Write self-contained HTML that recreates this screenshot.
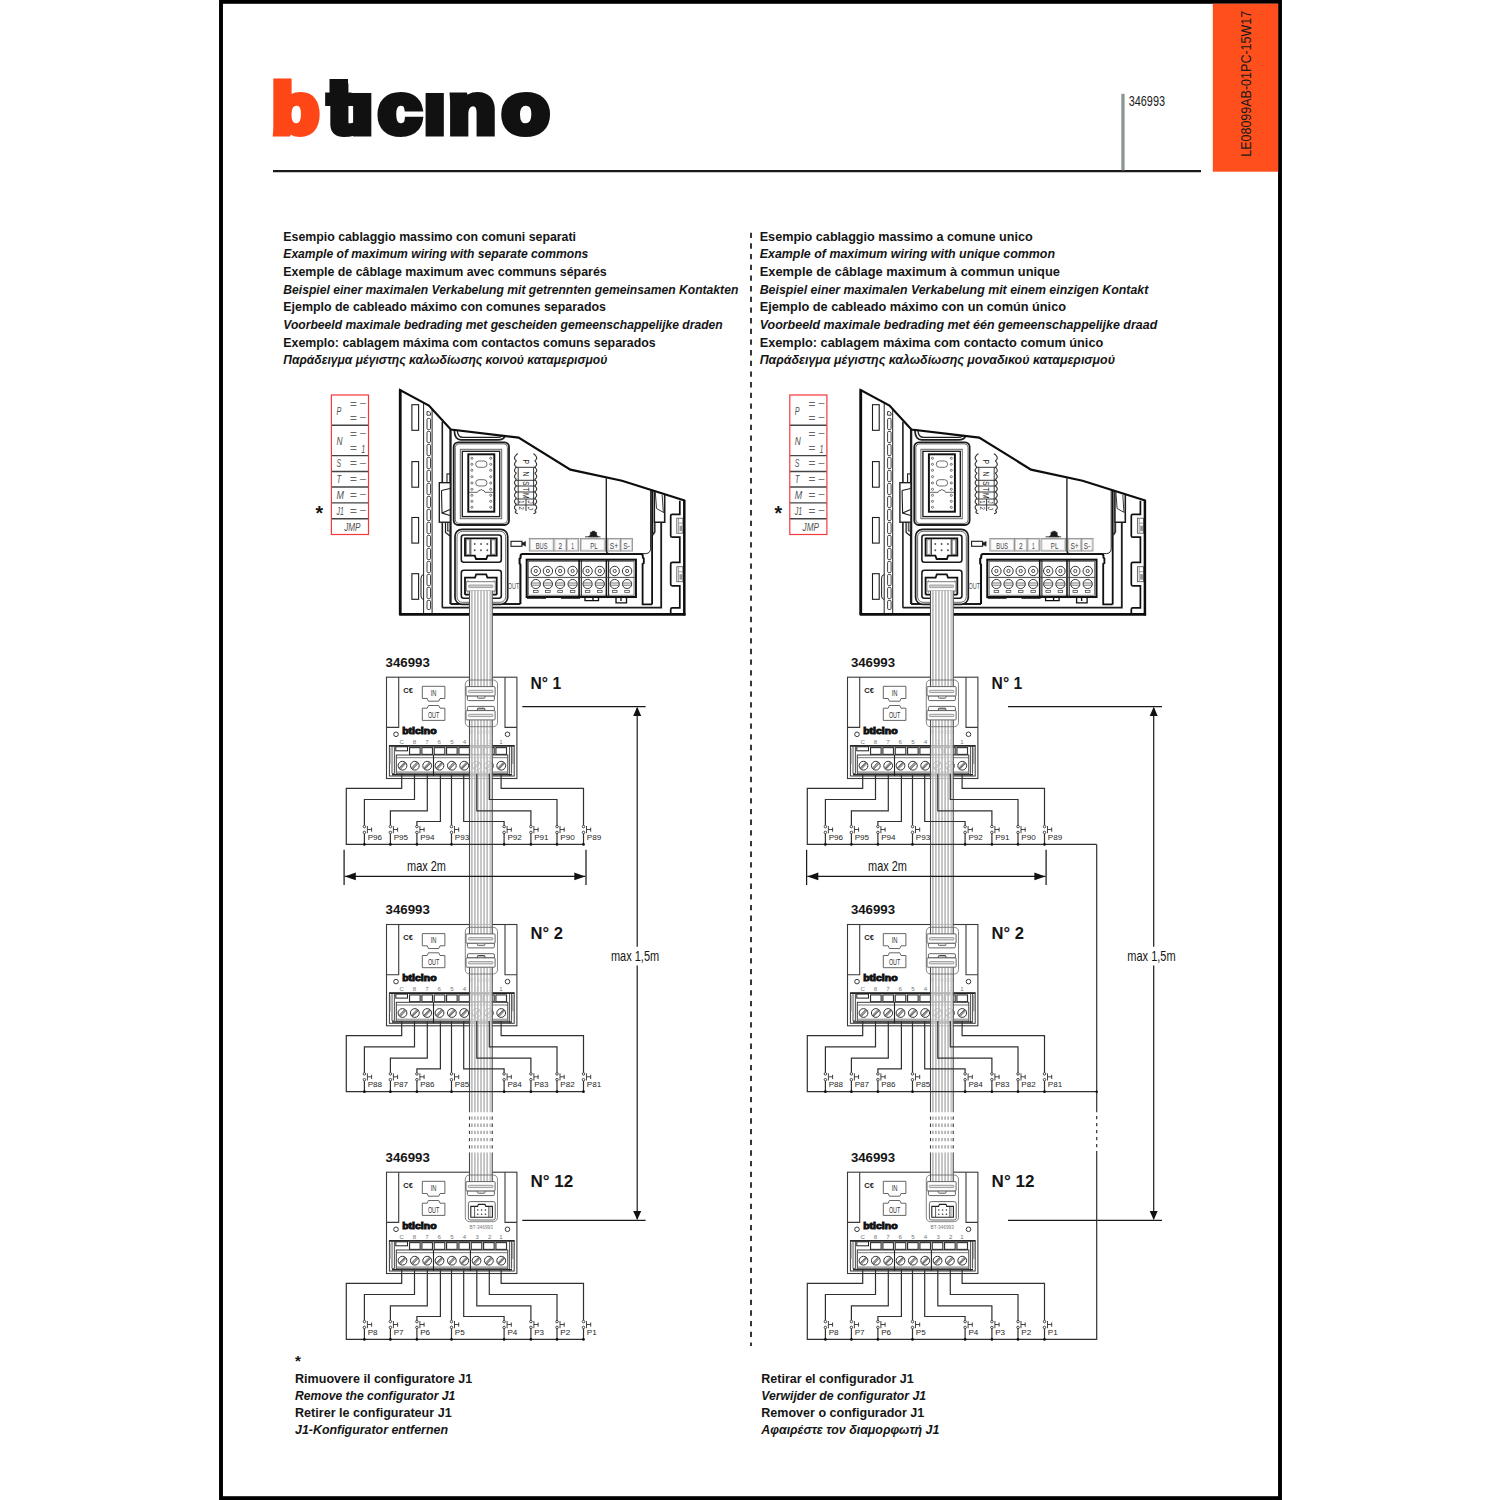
<!DOCTYPE html><html lang="it"><head><meta charset="utf-8"><title>BTicino 346993</title>
<style>html,body{margin:0;padding:0;background:#fff}body{width:1500px;height:1500px;overflow:hidden}svg{display:block}text{font-family:"Liberation Sans",sans-serif}</style></head><body>
<svg width="1500" height="1500" viewBox="0 0 1500 1500">
<rect width="1500" height="1500" fill="#fff"/>
<rect x="221" y="1.85" width="1059" height="1496.3" fill="#fff" stroke="#000" stroke-width="3.9"/>
<rect x="1212.8" y="3.7" width="65.4" height="168" fill="#ff4f1c"/>
<text transform="translate(1251.0,156.8) rotate(-90)" font-size="15" fill="#1a1a1a" textLength="146" lengthAdjust="spacingAndGlyphs">LE08099AB-01PC-15W17</text>
<line x1="273.00" y1="171.20" x2="1201.00" y2="171.20" stroke="#1a1a1a" stroke-width="2.2" />
<rect x="1121.3" y="93.8" width="3.3" height="76.5" fill="#8c9693"/>
<text x="1128.70" y="106.00" font-size="14.6" font-weight="normal" font-style="normal" fill="#1a1a1a" text-anchor="start" textLength="36.30" lengthAdjust="spacingAndGlyphs" >346993</text>
<g transform="scale(1.09,1)"><text x="249.37 300.98 322.58 347.06 388.91 411.39 460.45" y="133.4" font-weight="bold" font-size="71" stroke="#111" stroke-width="7" stroke-linejoin="miter" fill="#111"><tspan fill="#ff4617" stroke="#ff4617">b</tspan>ticino</text></g>
<rect x="329.5" y="79" width="18.5" height="24" fill="#111"/>
<rect x="351.5" y="70" width="23.5" height="23" fill="#fff"/><rect x="423.8" y="70" width="24" height="23" fill="#fff"/>
<g font-weight="bold" fill="#151515">
<text x="283.30" y="240.80" font-size="13.3" font-weight="bold" font-style="normal" fill="#151515" text-anchor="start" textLength="292.70" lengthAdjust="spacingAndGlyphs" >Esempio cablaggio massimo con comuni separati</text>
<text x="283.30" y="258.43" font-size="13.3" font-weight="bold" font-style="italic" fill="#151515" text-anchor="start" textLength="305.00" lengthAdjust="spacingAndGlyphs" >Example of maximum wiring with separate commons</text>
<text x="283.30" y="276.06" font-size="13.3" font-weight="bold" font-style="normal" fill="#151515" text-anchor="start" textLength="323.40" lengthAdjust="spacingAndGlyphs" >Exemple de câblage maximum avec communs séparés</text>
<text x="283.30" y="293.69" font-size="13.3" font-weight="bold" font-style="italic" fill="#151515" text-anchor="start" textLength="455.00" lengthAdjust="spacingAndGlyphs" >Beispiel einer maximalen Verkabelung mit getrennten gemeinsamen Kontakten</text>
<text x="283.30" y="311.32" font-size="13.3" font-weight="bold" font-style="normal" fill="#151515" text-anchor="start" textLength="322.70" lengthAdjust="spacingAndGlyphs" >Ejemplo de cableado máximo con comunes separados</text>
<text x="283.30" y="328.95" font-size="13.3" font-weight="bold" font-style="italic" fill="#151515" text-anchor="start" textLength="439.40" lengthAdjust="spacingAndGlyphs" >Voorbeeld maximale bedrading met gescheiden gemeenschappelijke draden</text>
<text x="283.30" y="346.58" font-size="13.3" font-weight="bold" font-style="normal" fill="#151515" text-anchor="start" textLength="372.40" lengthAdjust="spacingAndGlyphs" >Exemplo: cablagem máxima com contactos comuns separados</text>
<text x="283.30" y="364.21" font-size="13.3" font-weight="bold" font-style="italic" fill="#151515" text-anchor="start" textLength="324.00" lengthAdjust="spacingAndGlyphs" >Παράδειγμα μέγιστης καλωδίωσης κοινού καταμερισμού</text>
<text x="759.70" y="240.80" font-size="13.3" font-weight="bold" font-style="normal" fill="#151515" text-anchor="start" textLength="273.00" lengthAdjust="spacingAndGlyphs" >Esempio cablaggio massimo a comune unico</text>
<text x="759.70" y="258.43" font-size="13.3" font-weight="bold" font-style="italic" fill="#151515" text-anchor="start" textLength="295.30" lengthAdjust="spacingAndGlyphs" >Example of maximum wiring with unique common</text>
<text x="759.70" y="276.06" font-size="13.3" font-weight="bold" font-style="normal" fill="#151515" text-anchor="start" textLength="300.30" lengthAdjust="spacingAndGlyphs" >Exemple de câblage maximum à commun unique</text>
<text x="759.70" y="293.69" font-size="13.3" font-weight="bold" font-style="italic" fill="#151515" text-anchor="start" textLength="388.60" lengthAdjust="spacingAndGlyphs" >Beispiel einer maximalen Verkabelung mit einem einzigen Kontakt</text>
<text x="759.70" y="311.32" font-size="13.3" font-weight="bold" font-style="normal" fill="#151515" text-anchor="start" textLength="306.30" lengthAdjust="spacingAndGlyphs" >Ejemplo de cableado máximo con un común único</text>
<text x="759.70" y="328.95" font-size="13.3" font-weight="bold" font-style="italic" fill="#151515" text-anchor="start" textLength="397.60" lengthAdjust="spacingAndGlyphs" >Voorbeeld maximale bedrading met één gemeenschappelijke draad</text>
<text x="759.70" y="346.58" font-size="13.3" font-weight="bold" font-style="normal" fill="#151515" text-anchor="start" textLength="343.60" lengthAdjust="spacingAndGlyphs" >Exemplo: cablagem máxima com contacto comum único</text>
<text x="759.70" y="364.21" font-size="13.3" font-weight="bold" font-style="italic" fill="#151515" text-anchor="start" textLength="355.30" lengthAdjust="spacingAndGlyphs" >Παράδειγμα μέγιστης καλωδίωσης μοναδικού καταμερισμού</text>
</g>
<line x1="751" y1="232.7" x2="751" y2="1346" stroke="#222" stroke-width="1.8" stroke-dasharray="5.33 5.34"/>
<g transform="translate(0.00,0.00)">
<line x1="331.60" y1="425.30" x2="368.30" y2="425.30" stroke="#444" stroke-width="1.4" />
<line x1="331.60" y1="455.60" x2="368.30" y2="455.60" stroke="#444" stroke-width="1.4" />
<line x1="331.60" y1="471.50" x2="368.30" y2="471.50" stroke="#444" stroke-width="1.4" />
<line x1="331.60" y1="487.00" x2="368.30" y2="487.00" stroke="#444" stroke-width="1.4" />
<line x1="331.60" y1="502.90" x2="368.30" y2="502.90" stroke="#444" stroke-width="1.4" />
<line x1="331.60" y1="518.80" x2="368.30" y2="518.80" stroke="#444" stroke-width="1.4" />
<rect x="331.40" y="395.00" width="37.10" height="139.50" fill="none" stroke="#f4383c" stroke-width="1.2" rx="0" />
<text x="336.40" y="414.60" font-size="11.6" font-weight="normal" font-style="italic" fill="#505050" text-anchor="start" textLength="4.80" lengthAdjust="spacingAndGlyphs" >P</text>
<text x="336.40" y="445.20" font-size="11.6" font-weight="normal" font-style="italic" fill="#505050" text-anchor="start" textLength="6.00" lengthAdjust="spacingAndGlyphs" >N</text>
<text x="336.40" y="467.40" font-size="11.6" font-weight="normal" font-style="italic" fill="#505050" text-anchor="start" textLength="4.60" lengthAdjust="spacingAndGlyphs" >S</text>
<text x="336.40" y="483.20" font-size="11.6" font-weight="normal" font-style="italic" fill="#505050" text-anchor="start" textLength="4.80" lengthAdjust="spacingAndGlyphs" >T</text>
<text x="336.40" y="498.90" font-size="11.6" font-weight="normal" font-style="italic" fill="#505050" text-anchor="start" textLength="7.40" lengthAdjust="spacingAndGlyphs" >M</text>
<text x="336.40" y="514.80" font-size="11.6" font-weight="normal" font-style="italic" fill="#505050" text-anchor="start" textLength="7.40" lengthAdjust="spacingAndGlyphs" >J1</text>
<text x="344.20" y="530.60" font-size="11.6" font-weight="normal" font-style="italic" fill="#505050" text-anchor="start" textLength="16.30" lengthAdjust="spacingAndGlyphs" >JMP</text>
<text x="349.80" y="407.50" font-size="11.6" font-weight="normal" font-style="italic" fill="#666" text-anchor="start" textLength="7.00" lengthAdjust="spacingAndGlyphs" >=</text>
<text x="360.00" y="405.90" font-size="11.6" font-weight="normal" font-style="italic" fill="#666" text-anchor="start" textLength="5.90" lengthAdjust="spacingAndGlyphs" >–</text>
<text x="349.80" y="421.80" font-size="11.6" font-weight="normal" font-style="italic" fill="#666" text-anchor="start" textLength="7.00" lengthAdjust="spacingAndGlyphs" >=</text>
<text x="360.00" y="420.20" font-size="11.6" font-weight="normal" font-style="italic" fill="#666" text-anchor="start" textLength="5.90" lengthAdjust="spacingAndGlyphs" >–</text>
<text x="349.80" y="437.60" font-size="11.6" font-weight="normal" font-style="italic" fill="#666" text-anchor="start" textLength="7.00" lengthAdjust="spacingAndGlyphs" >=</text>
<text x="360.00" y="436.00" font-size="11.6" font-weight="normal" font-style="italic" fill="#666" text-anchor="start" textLength="5.90" lengthAdjust="spacingAndGlyphs" >–</text>
<text x="349.80" y="451.60" font-size="11.6" font-weight="normal" font-style="italic" fill="#666" text-anchor="start" textLength="7.00" lengthAdjust="spacingAndGlyphs" >=</text>
<text x="361.20" y="452.60" font-size="11.6" font-weight="normal" font-style="italic" fill="#505050" text-anchor="start" textLength="4.00" lengthAdjust="spacingAndGlyphs" >1</text>
<text x="349.80" y="467.40" font-size="11.6" font-weight="normal" font-style="italic" fill="#666" text-anchor="start" textLength="7.00" lengthAdjust="spacingAndGlyphs" >=</text>
<text x="360.00" y="465.80" font-size="11.6" font-weight="normal" font-style="italic" fill="#666" text-anchor="start" textLength="5.90" lengthAdjust="spacingAndGlyphs" >–</text>
<text x="349.80" y="483.20" font-size="11.6" font-weight="normal" font-style="italic" fill="#666" text-anchor="start" textLength="7.00" lengthAdjust="spacingAndGlyphs" >=</text>
<text x="360.00" y="481.60" font-size="11.6" font-weight="normal" font-style="italic" fill="#666" text-anchor="start" textLength="5.90" lengthAdjust="spacingAndGlyphs" >–</text>
<text x="349.80" y="499.00" font-size="11.6" font-weight="normal" font-style="italic" fill="#666" text-anchor="start" textLength="7.00" lengthAdjust="spacingAndGlyphs" >=</text>
<text x="360.00" y="497.40" font-size="11.6" font-weight="normal" font-style="italic" fill="#666" text-anchor="start" textLength="5.90" lengthAdjust="spacingAndGlyphs" >–</text>
<text x="349.80" y="514.80" font-size="11.6" font-weight="normal" font-style="italic" fill="#666" text-anchor="start" textLength="7.00" lengthAdjust="spacingAndGlyphs" >=</text>
<text x="360.00" y="513.20" font-size="11.6" font-weight="normal" font-style="italic" fill="#666" text-anchor="start" textLength="5.90" lengthAdjust="spacingAndGlyphs" >–</text>
</g>
<g transform="translate(458.40,0.00)">
<line x1="331.60" y1="425.30" x2="368.30" y2="425.30" stroke="#444" stroke-width="1.4" />
<line x1="331.60" y1="455.60" x2="368.30" y2="455.60" stroke="#444" stroke-width="1.4" />
<line x1="331.60" y1="471.50" x2="368.30" y2="471.50" stroke="#444" stroke-width="1.4" />
<line x1="331.60" y1="487.00" x2="368.30" y2="487.00" stroke="#444" stroke-width="1.4" />
<line x1="331.60" y1="502.90" x2="368.30" y2="502.90" stroke="#444" stroke-width="1.4" />
<line x1="331.60" y1="518.80" x2="368.30" y2="518.80" stroke="#444" stroke-width="1.4" />
<rect x="331.40" y="395.00" width="37.10" height="139.50" fill="none" stroke="#f4383c" stroke-width="1.2" rx="0" />
<text x="336.40" y="414.60" font-size="11.6" font-weight="normal" font-style="italic" fill="#505050" text-anchor="start" textLength="4.80" lengthAdjust="spacingAndGlyphs" >P</text>
<text x="336.40" y="445.20" font-size="11.6" font-weight="normal" font-style="italic" fill="#505050" text-anchor="start" textLength="6.00" lengthAdjust="spacingAndGlyphs" >N</text>
<text x="336.40" y="467.40" font-size="11.6" font-weight="normal" font-style="italic" fill="#505050" text-anchor="start" textLength="4.60" lengthAdjust="spacingAndGlyphs" >S</text>
<text x="336.40" y="483.20" font-size="11.6" font-weight="normal" font-style="italic" fill="#505050" text-anchor="start" textLength="4.80" lengthAdjust="spacingAndGlyphs" >T</text>
<text x="336.40" y="498.90" font-size="11.6" font-weight="normal" font-style="italic" fill="#505050" text-anchor="start" textLength="7.40" lengthAdjust="spacingAndGlyphs" >M</text>
<text x="336.40" y="514.80" font-size="11.6" font-weight="normal" font-style="italic" fill="#505050" text-anchor="start" textLength="7.40" lengthAdjust="spacingAndGlyphs" >J1</text>
<text x="344.20" y="530.60" font-size="11.6" font-weight="normal" font-style="italic" fill="#505050" text-anchor="start" textLength="16.30" lengthAdjust="spacingAndGlyphs" >JMP</text>
<text x="349.80" y="407.50" font-size="11.6" font-weight="normal" font-style="italic" fill="#666" text-anchor="start" textLength="7.00" lengthAdjust="spacingAndGlyphs" >=</text>
<text x="360.00" y="405.90" font-size="11.6" font-weight="normal" font-style="italic" fill="#666" text-anchor="start" textLength="5.90" lengthAdjust="spacingAndGlyphs" >–</text>
<text x="349.80" y="421.80" font-size="11.6" font-weight="normal" font-style="italic" fill="#666" text-anchor="start" textLength="7.00" lengthAdjust="spacingAndGlyphs" >=</text>
<text x="360.00" y="420.20" font-size="11.6" font-weight="normal" font-style="italic" fill="#666" text-anchor="start" textLength="5.90" lengthAdjust="spacingAndGlyphs" >–</text>
<text x="349.80" y="437.60" font-size="11.6" font-weight="normal" font-style="italic" fill="#666" text-anchor="start" textLength="7.00" lengthAdjust="spacingAndGlyphs" >=</text>
<text x="360.00" y="436.00" font-size="11.6" font-weight="normal" font-style="italic" fill="#666" text-anchor="start" textLength="5.90" lengthAdjust="spacingAndGlyphs" >–</text>
<text x="349.80" y="451.60" font-size="11.6" font-weight="normal" font-style="italic" fill="#666" text-anchor="start" textLength="7.00" lengthAdjust="spacingAndGlyphs" >=</text>
<text x="361.20" y="452.60" font-size="11.6" font-weight="normal" font-style="italic" fill="#505050" text-anchor="start" textLength="4.00" lengthAdjust="spacingAndGlyphs" >1</text>
<text x="349.80" y="467.40" font-size="11.6" font-weight="normal" font-style="italic" fill="#666" text-anchor="start" textLength="7.00" lengthAdjust="spacingAndGlyphs" >=</text>
<text x="360.00" y="465.80" font-size="11.6" font-weight="normal" font-style="italic" fill="#666" text-anchor="start" textLength="5.90" lengthAdjust="spacingAndGlyphs" >–</text>
<text x="349.80" y="483.20" font-size="11.6" font-weight="normal" font-style="italic" fill="#666" text-anchor="start" textLength="7.00" lengthAdjust="spacingAndGlyphs" >=</text>
<text x="360.00" y="481.60" font-size="11.6" font-weight="normal" font-style="italic" fill="#666" text-anchor="start" textLength="5.90" lengthAdjust="spacingAndGlyphs" >–</text>
<text x="349.80" y="499.00" font-size="11.6" font-weight="normal" font-style="italic" fill="#666" text-anchor="start" textLength="7.00" lengthAdjust="spacingAndGlyphs" >=</text>
<text x="360.00" y="497.40" font-size="11.6" font-weight="normal" font-style="italic" fill="#666" text-anchor="start" textLength="5.90" lengthAdjust="spacingAndGlyphs" >–</text>
<text x="349.80" y="514.80" font-size="11.6" font-weight="normal" font-style="italic" fill="#666" text-anchor="start" textLength="7.00" lengthAdjust="spacingAndGlyphs" >=</text>
<text x="360.00" y="513.20" font-size="11.6" font-weight="normal" font-style="italic" fill="#666" text-anchor="start" textLength="5.90" lengthAdjust="spacingAndGlyphs" >–</text>
</g>
<text x="315.40" y="520.40" font-size="19.5" font-weight="bold" font-style="normal" fill="#151515" text-anchor="start" >*</text>
<text x="774.40" y="520.40" font-size="19.5" font-weight="bold" font-style="normal" fill="#151515" text-anchor="start" >*</text>
<g transform="translate(0.00,0.00)">
<line x1="423.60" y1="402.70" x2="423.60" y2="614.00" stroke="#1c1c1c" stroke-width="0.98" />
<line x1="432.10" y1="408.90" x2="432.10" y2="614.00" stroke="#1c1c1c" stroke-width="0.98" />
<path d="M427,415.2V411.6Q428.7,410.9 430.5,412.9V415.2Z" fill="none" stroke="#1c1c1c" stroke-width="0.85" />
<rect x="427.00" y="418.40" width="3.50" height="11.20" fill="none" stroke="#1c1c1c" stroke-width="0.85" rx="1.2" />
<rect x="427.00" y="431.40" width="3.50" height="11.20" fill="none" stroke="#1c1c1c" stroke-width="0.85" rx="1.2" />
<rect x="427.00" y="444.40" width="3.50" height="11.20" fill="none" stroke="#1c1c1c" stroke-width="0.85" rx="1.2" />
<rect x="427.00" y="457.40" width="3.50" height="11.20" fill="none" stroke="#1c1c1c" stroke-width="0.85" rx="1.2" />
<rect x="427.00" y="470.40" width="3.50" height="11.20" fill="none" stroke="#1c1c1c" stroke-width="0.85" rx="1.2" />
<rect x="427.00" y="483.40" width="3.50" height="11.20" fill="none" stroke="#1c1c1c" stroke-width="0.85" rx="1.2" />
<rect x="427.00" y="496.40" width="3.50" height="11.20" fill="none" stroke="#1c1c1c" stroke-width="0.85" rx="1.2" />
<rect x="427.00" y="509.40" width="3.50" height="11.20" fill="none" stroke="#1c1c1c" stroke-width="0.85" rx="1.2" />
<rect x="427.00" y="522.40" width="3.50" height="11.20" fill="none" stroke="#1c1c1c" stroke-width="0.85" rx="1.2" />
<rect x="427.00" y="535.40" width="3.50" height="11.20" fill="none" stroke="#1c1c1c" stroke-width="0.85" rx="1.2" />
<rect x="427.00" y="548.40" width="3.50" height="11.20" fill="none" stroke="#1c1c1c" stroke-width="0.85" rx="1.2" />
<rect x="427.00" y="561.40" width="3.50" height="11.20" fill="none" stroke="#1c1c1c" stroke-width="0.85" rx="1.2" />
<rect x="427.00" y="574.40" width="3.50" height="11.20" fill="none" stroke="#1c1c1c" stroke-width="0.85" rx="1.2" />
<rect x="427.00" y="587.40" width="3.50" height="11.20" fill="none" stroke="#1c1c1c" stroke-width="0.85" rx="1.2" />
<rect x="427.00" y="600.40" width="3.50" height="9.10" fill="none" stroke="#1c1c1c" stroke-width="0.85" rx="1.2" />
<rect x="411.90" y="404.70" width="6.70" height="25.60" fill="none" stroke="#1c1c1c" stroke-width="1.1" rx="0" />
<rect x="411.90" y="461.60" width="6.70" height="25.60" fill="none" stroke="#1c1c1c" stroke-width="1.1" rx="0" />
<rect x="411.90" y="517.50" width="6.70" height="25.60" fill="none" stroke="#1c1c1c" stroke-width="1.1" rx="0" />
<rect x="411.90" y="573.70" width="6.70" height="25.60" fill="none" stroke="#1c1c1c" stroke-width="1.1" rx="0" />
<path d="M423.6,574.5Q421,575 421,578V596Q421,599 423.6,599.5" fill="none" stroke="#1c1c1c" stroke-width="0.98" />
<line x1="442.30" y1="421.80" x2="442.30" y2="607.70" stroke="#1c1c1c" stroke-width="1.59" />
<line x1="450.50" y1="429.60" x2="450.50" y2="604.00" stroke="#1c1c1c" stroke-width="2.32" />
<rect x="447.00" y="473.90" width="3.30" height="8.80" fill="none" stroke="#1c1c1c" stroke-width="1.1" rx="0" />
<rect x="439.30" y="482.70" width="11.00" height="39.50" fill="#fff" stroke="#1c1c1c" stroke-width="1.34" rx="0" />
<path d="M441.5,490.5L450,488.5M441.5,490.5L442,513L450,515.5M442,513L450,509.5" fill="none" stroke="#1c1c1c" stroke-width="1.1" />
<path d="M445.5,522.2V532.5L450,536" fill="none" stroke="#1c1c1c" stroke-width="1.22" />
<rect x="447.60" y="522.40" width="2.40" height="8.60" fill="#aaa" stroke="#1c1c1c" stroke-width="0.73" rx="0" />
<path d="M442.3,607.7H661.2V522" fill="none" stroke="#1c1c1c" stroke-width="1.83" />
<path d="M450.5,604H520.4" fill="none" stroke="#1c1c1c" stroke-width="1.83" />
<path d="M454.3,430.2Q454.6,439.8 461,439.8H498Q503.5,439.8 504.8,436.4" fill="none" stroke="#1c1c1c" stroke-width="1.71" />
<path d="M457.3,430.6Q457.8,437.4 463,437.4H497Q500.5,437.4 502,436" fill="none" stroke="#1c1c1c" stroke-width="1.22" />
<rect x="453.70" y="442.30" width="55.30" height="82.70" fill="#fff" stroke="#1c1c1c" stroke-width="1.83" rx="4.5" />
<rect x="455.30" y="443.90" width="52.10" height="79.50" fill="none" stroke="#555" stroke-width="0.85" rx="3.5" />
<rect x="460.30" y="449.30" width="41.40" height="69.40" fill="none" stroke="#666" stroke-width="0.98" rx="0" />
<rect x="462.30" y="451.30" width="37.40" height="65.30" fill="none" stroke="#1c1c1c" stroke-width="1.34" rx="0" />
<rect x="468.30" y="454.30" width="26.00" height="57.40" fill="none" stroke="#111" stroke-width="1.95" rx="0" />
<circle cx="471.90" cy="458.30" r="1.05" fill="none" stroke="#444" stroke-width="0.73"/>
<circle cx="490.70" cy="458.30" r="1.05" fill="none" stroke="#444" stroke-width="0.73"/>
<circle cx="471.90" cy="464.30" r="1.05" fill="none" stroke="#444" stroke-width="0.73"/>
<circle cx="490.70" cy="464.30" r="1.05" fill="none" stroke="#444" stroke-width="0.73"/>
<circle cx="471.90" cy="470.30" r="1.05" fill="none" stroke="#444" stroke-width="0.73"/>
<circle cx="490.70" cy="470.30" r="1.05" fill="none" stroke="#444" stroke-width="0.73"/>
<circle cx="471.90" cy="476.70" r="1.05" fill="none" stroke="#444" stroke-width="0.73"/>
<circle cx="490.70" cy="476.70" r="1.05" fill="none" stroke="#444" stroke-width="0.73"/>
<circle cx="471.90" cy="483.00" r="1.05" fill="none" stroke="#444" stroke-width="0.73"/>
<circle cx="490.70" cy="483.00" r="1.05" fill="none" stroke="#444" stroke-width="0.73"/>
<circle cx="471.90" cy="489.30" r="1.05" fill="none" stroke="#444" stroke-width="0.73"/>
<circle cx="490.70" cy="489.30" r="1.05" fill="none" stroke="#444" stroke-width="0.73"/>
<circle cx="471.90" cy="495.30" r="1.05" fill="none" stroke="#444" stroke-width="0.73"/>
<circle cx="490.70" cy="495.30" r="1.05" fill="none" stroke="#444" stroke-width="0.73"/>
<circle cx="471.90" cy="501.30" r="1.05" fill="none" stroke="#444" stroke-width="0.73"/>
<circle cx="490.70" cy="501.30" r="1.05" fill="none" stroke="#444" stroke-width="0.73"/>
<circle cx="471.90" cy="507.30" r="1.05" fill="none" stroke="#444" stroke-width="0.73"/>
<circle cx="490.70" cy="507.30" r="1.05" fill="none" stroke="#444" stroke-width="0.73"/>
<rect x="475.70" y="461.00" width="11.30" height="6.30" fill="none" stroke="#555" stroke-width="0.85" rx="3.1" />
<rect x="475.70" y="479.70" width="11.30" height="6.30" fill="none" stroke="#555" stroke-width="0.85" rx="3.1" />
<path d="M469,492.3H477.5L478.8,490.4H480.3L481.3,489.2L482.3,490.4H483.8L485,492.3H493.6" fill="none" stroke="#444" stroke-width="0.85" />
<path d="M518.00,453.80Q516.80,454.00 515.60,455.60Q513.40,458.10 515.60,460.20Q516.90,460.70 515.60,461.80Q513.40,464.30 515.60,466.40Q516.90,466.90 515.60,468.00Q513.40,470.50 515.60,472.60Q516.90,473.10 515.60,474.20Q513.40,476.70 515.60,478.80Q516.90,479.30 515.60,480.40Q513.40,482.90 515.60,485.00Q516.90,485.50 515.60,486.60Q513.40,489.10 515.60,491.20Q516.90,491.70 515.60,492.80Q513.40,495.30 515.60,497.40Q516.90,497.90 515.60,499.00Q513.40,501.50 515.60,503.60Q516.90,504.10 515.60,505.20Q513.40,507.70 515.60,509.80Q516.90,510.30 515.60,511.40Q514.40,512.80 517.80,513.80" fill="none" stroke="#333" stroke-width="1.1" />
<path d="M533.20,453.80Q534.40,454.00 535.60,455.60Q537.80,458.10 535.60,460.20Q534.30,460.70 535.60,461.80Q537.80,464.30 535.60,466.40Q534.30,466.90 535.60,468.00Q537.80,470.50 535.60,472.60Q534.30,473.10 535.60,474.20Q537.80,476.70 535.60,478.80Q534.30,479.30 535.60,480.40Q537.80,482.90 535.60,485.00Q534.30,485.50 535.60,486.60Q537.80,489.10 535.60,491.20Q534.30,491.70 535.60,492.80Q537.80,495.30 535.60,497.40Q534.30,497.90 535.60,499.00Q537.80,501.50 535.60,503.60Q534.30,504.10 535.60,505.20Q537.80,507.70 535.60,509.80Q534.30,510.30 535.60,511.40Q536.80,512.80 533.40,513.80" fill="none" stroke="#333" stroke-width="1.1" />
<line x1="515.60" y1="467.30" x2="535.60" y2="467.30" stroke="#333" stroke-width="0.98" />
<line x1="515.60" y1="480.30" x2="535.60" y2="480.30" stroke="#333" stroke-width="0.98" />
<line x1="515.60" y1="486.00" x2="535.60" y2="486.00" stroke="#333" stroke-width="0.98" />
<line x1="515.60" y1="492.00" x2="535.60" y2="492.00" stroke="#333" stroke-width="0.98" />
<line x1="515.60" y1="499.00" x2="535.60" y2="499.00" stroke="#333" stroke-width="0.98" />
<line x1="515.60" y1="505.00" x2="535.60" y2="505.00" stroke="#333" stroke-width="0.98" />
<line x1="518.20" y1="467.30" x2="518.20" y2="505.00" stroke="#333" stroke-width="0.98" />
<line x1="533.60" y1="467.30" x2="533.60" y2="505.00" stroke="#333" stroke-width="0.98" />
<line x1="526.00" y1="499.00" x2="526.00" y2="511.00" stroke="#333" stroke-width="0.98" />
<g font-size="8.8" fill="#222">
<text transform="translate(522.5,459.50) rotate(90)" x="0" y="0" textLength="4.4" lengthAdjust="spacingAndGlyphs">P</text>
<text transform="translate(522.5,471.60) rotate(90)" x="0" y="0" textLength="4.8" lengthAdjust="spacingAndGlyphs">N</text>
<text transform="translate(522.5,481.15) rotate(90)" x="0" y="0" textLength="4.3" lengthAdjust="spacingAndGlyphs">S</text>
<text transform="translate(522.5,487.20) rotate(90)" x="0" y="0" textLength="4.0" lengthAdjust="spacingAndGlyphs">T</text>
<text transform="translate(522.5,492.90) rotate(90)" x="0" y="0" textLength="5.6" lengthAdjust="spacingAndGlyphs">M</text>
<text transform="translate(519.2,500.6) rotate(90)" font-size="6.4" textLength="2.9" lengthAdjust="spacingAndGlyphs">1</text>
<text transform="translate(519.4,506.6) rotate(90)" font-size="6.4" textLength="3.3" lengthAdjust="spacingAndGlyphs">2</text>
<text transform="translate(527.8,500.6) rotate(90)" font-size="7" textLength="3.2" lengthAdjust="spacingAndGlyphs">J</text>
<text transform="translate(527.8,506.8) rotate(90)" font-size="7" textLength="3.2" lengthAdjust="spacingAndGlyphs">J</text>
</g>
<rect x="455.00" y="529.30" width="52.70" height="75.00" fill="#fff" stroke="#1c1c1c" stroke-width="1.71" rx="7" />
<rect x="457.00" y="531.30" width="48.70" height="71.00" fill="none" stroke="#666" stroke-width="0.98" rx="5.5" />
<rect x="461.30" y="535.00" width="40.00" height="27.30" fill="none" stroke="#1c1c1c" stroke-width="1.59" rx="2.5" />
<path d="M465,538.3H496.7V555.7H487.5L486.3,559H476L474.8,555.7H465Z" fill="none" stroke="#111" stroke-width="1.83" />
<rect x="466.50" y="539.80" width="3.10" height="14.50" fill="none" stroke="#666" stroke-width="0.73" rx="0" />
<rect x="491.50" y="539.80" width="3.70" height="14.50" fill="none" stroke="#555" stroke-width="0.85" rx="0" />
<line x1="470.80" y1="539.00" x2="470.80" y2="555.00" stroke="#333" stroke-width="0.98" />
<line x1="490.60" y1="539.00" x2="490.60" y2="555.00" stroke="#333" stroke-width="0.98" />
<circle cx="474.70" cy="544.00" r="0.95" fill="#555" stroke="none" stroke-width="0.0"/>
<circle cx="474.70" cy="550.30" r="0.95" fill="#555" stroke="none" stroke-width="0.0"/>
<circle cx="481.00" cy="544.00" r="0.95" fill="#555" stroke="none" stroke-width="0.0"/>
<circle cx="481.00" cy="550.30" r="0.95" fill="#555" stroke="none" stroke-width="0.0"/>
<circle cx="487.30" cy="544.00" r="0.95" fill="#555" stroke="none" stroke-width="0.0"/>
<circle cx="487.30" cy="550.30" r="0.95" fill="#555" stroke="none" stroke-width="0.0"/>
<rect x="461.30" y="570.30" width="40.00" height="28.00" fill="none" stroke="#1c1c1c" stroke-width="1.59" rx="2.5" />
<path d="M465,594.7V577.7H475L476.2,574.3H486.2L487.4,577.7H496.7V594.7" fill="none" stroke="#111" stroke-width="1.83" />
<path d="M465,594.7H469.5M492.5,594.7H496.7" fill="none" stroke="#111" stroke-width="1.83" />
<line x1="467.80" y1="580.00" x2="467.80" y2="593.00" stroke="#777" stroke-width="0.73" />
<line x1="494.20" y1="580.00" x2="494.20" y2="593.00" stroke="#777" stroke-width="0.73" />
<text x="507.80" y="588.60" font-size="9.4" font-weight="normal" font-style="normal" fill="#555" text-anchor="start" textLength="11.60" lengthAdjust="spacingAndGlyphs" >OUT</text>
<rect x="511.00" y="541.30" width="11.00" height="5.00" fill="none" stroke="#1c1c1c" stroke-width="1.1" rx="0" />
<path d="M522,542.6H523.4L525.5,541.4V546.2L523.4,545H522Z" fill="#222" stroke="#222" stroke-width="0.61" />
<rect x="529.30" y="538.40" width="24.70" height="12.60" fill="#fbfbfb" stroke="#888" stroke-width="0.85" rx="0" />
<rect x="530.30" y="539.30" width="22.70" height="10.80" fill="none" stroke="#aaa" stroke-width="0.49" rx="0" />
<text x="541.65" y="548.60" font-size="9.2" font-weight="normal" font-style="normal" fill="#444" text-anchor="middle" textLength="11.80" lengthAdjust="spacingAndGlyphs" >BUS</text>
<rect x="554.00" y="538.40" width="12.60" height="12.60" fill="#fbfbfb" stroke="#888" stroke-width="0.85" rx="0" />
<rect x="555.00" y="539.30" width="10.60" height="10.80" fill="none" stroke="#aaa" stroke-width="0.49" rx="0" />
<text x="560.30" y="548.60" font-size="9.2" font-weight="normal" font-style="normal" fill="#444" text-anchor="middle" textLength="3.60" lengthAdjust="spacingAndGlyphs" >2</text>
<rect x="566.60" y="538.40" width="12.10" height="12.60" fill="#fbfbfb" stroke="#888" stroke-width="0.85" rx="0" />
<rect x="567.60" y="539.30" width="10.10" height="10.80" fill="none" stroke="#aaa" stroke-width="0.49" rx="0" />
<text x="572.65" y="548.60" font-size="9.2" font-weight="normal" font-style="normal" fill="#444" text-anchor="middle" textLength="2.60" lengthAdjust="spacingAndGlyphs" >1</text>
<rect x="580.40" y="538.40" width="24.70" height="12.60" fill="#fbfbfb" stroke="#888" stroke-width="0.85" rx="0" />
<rect x="581.40" y="539.30" width="22.70" height="10.80" fill="none" stroke="#aaa" stroke-width="0.49" rx="0" />
<text x="593.95" y="548.60" font-size="9.2" font-weight="normal" font-style="normal" fill="#444" text-anchor="middle" textLength="7.40" lengthAdjust="spacingAndGlyphs" >PL</text>
<rect x="607.30" y="538.40" width="13.40" height="12.60" fill="#fbfbfb" stroke="#888" stroke-width="0.85" rx="0" />
<rect x="608.30" y="539.30" width="11.40" height="10.80" fill="none" stroke="#aaa" stroke-width="0.49" rx="0" />
<text x="614.00" y="548.60" font-size="9.2" font-weight="normal" font-style="normal" fill="#444" text-anchor="middle" textLength="8.40" lengthAdjust="spacingAndGlyphs" >S+</text>
<rect x="620.70" y="538.40" width="11.70" height="12.60" fill="#fbfbfb" stroke="#888" stroke-width="0.85" rx="0" />
<rect x="621.70" y="539.30" width="9.70" height="10.80" fill="none" stroke="#aaa" stroke-width="0.49" rx="0" />
<text x="626.55" y="548.60" font-size="9.2" font-weight="normal" font-style="normal" fill="#444" text-anchor="middle" textLength="6.60" lengthAdjust="spacingAndGlyphs" >S-</text>
<line x1="585.00" y1="536.80" x2="600.50" y2="536.80" stroke="#222" stroke-width="0.85" />
<path d="M588.5,536.8L590.3,535V532.3H592V531.2H595V532.3H596.6V535L598.3,536.8Z" fill="#1a1a1a" stroke="#1a1a1a" stroke-width="0.49" />
<path d="M606.3,478.2V550.5Q606.4,553.6 609.5,553.9" fill="none" stroke="#1c1c1c" stroke-width="1.34" />
<path d="M520.4,604V564.5L519.6,563.5V558.8L520.6,557.8V556Q520.6,554 522.6,554H640.8Q642.8,554 642.8,556" fill="none" stroke="#111" stroke-width="2.07" />
<path d="M642.8,556V557.5L643.8,558.5V563L642.6,564V604.4H652.1" fill="none" stroke="#111" stroke-width="1.83" />
<rect x="526.70" y="559.70" width="109.20" height="37.30" fill="none" stroke="#111" stroke-width="2.07" rx="0" />
<rect x="528.60" y="561.60" width="105.40" height="33.60" fill="none" stroke="#555" stroke-width="0.73" rx="0" />
<line x1="579.10" y1="560.00" x2="579.10" y2="597.00" stroke="#111" stroke-width="1.59" />
<line x1="581.30" y1="560.00" x2="581.30" y2="597.00" stroke="#222" stroke-width="1.1" />
<line x1="606.40" y1="560.00" x2="606.40" y2="597.00" stroke="#111" stroke-width="1.59" />
<line x1="608.60" y1="560.00" x2="608.60" y2="597.00" stroke="#222" stroke-width="1.1" />
<line x1="528.00" y1="577.40" x2="634.50" y2="577.40" stroke="#444" stroke-width="0.98" />
<circle cx="535.80" cy="571.00" r="4.70" fill="none" stroke="#333" stroke-width="0.98"/>
<circle cx="535.80" cy="571.00" r="1.60" fill="none" stroke="#333" stroke-width="0.85"/>
<circle cx="535.80" cy="584.00" r="4.60" fill="none" stroke="#333" stroke-width="0.98"/>
<line x1="531.40" y1="583.00" x2="540.20" y2="583.00" stroke="#444" stroke-width="0.73" />
<line x1="531.40" y1="585.20" x2="540.20" y2="585.20" stroke="#444" stroke-width="0.73" />
<rect x="533.50" y="590.60" width="4.60" height="1.80" fill="none" stroke="#444" stroke-width="0.73" rx="0" />
<circle cx="547.90" cy="571.00" r="4.70" fill="none" stroke="#333" stroke-width="0.98"/>
<circle cx="547.90" cy="571.00" r="1.60" fill="none" stroke="#333" stroke-width="0.85"/>
<circle cx="547.90" cy="584.00" r="4.60" fill="none" stroke="#333" stroke-width="0.98"/>
<line x1="543.50" y1="583.00" x2="552.30" y2="583.00" stroke="#444" stroke-width="0.73" />
<line x1="543.50" y1="585.20" x2="552.30" y2="585.20" stroke="#444" stroke-width="0.73" />
<rect x="545.60" y="590.60" width="4.60" height="1.80" fill="none" stroke="#444" stroke-width="0.73" rx="0" />
<circle cx="560.10" cy="571.00" r="4.70" fill="none" stroke="#333" stroke-width="0.98"/>
<circle cx="560.10" cy="571.00" r="1.60" fill="none" stroke="#333" stroke-width="0.85"/>
<circle cx="560.10" cy="584.00" r="4.60" fill="none" stroke="#333" stroke-width="0.98"/>
<line x1="555.70" y1="583.00" x2="564.50" y2="583.00" stroke="#444" stroke-width="0.73" />
<line x1="555.70" y1="585.20" x2="564.50" y2="585.20" stroke="#444" stroke-width="0.73" />
<rect x="557.80" y="590.60" width="4.60" height="1.80" fill="none" stroke="#444" stroke-width="0.73" rx="0" />
<circle cx="572.60" cy="571.00" r="4.70" fill="none" stroke="#333" stroke-width="0.98"/>
<circle cx="572.60" cy="571.00" r="1.60" fill="none" stroke="#333" stroke-width="0.85"/>
<circle cx="572.60" cy="584.00" r="4.60" fill="none" stroke="#333" stroke-width="0.98"/>
<line x1="568.20" y1="583.00" x2="577.00" y2="583.00" stroke="#444" stroke-width="0.73" />
<line x1="568.20" y1="585.20" x2="577.00" y2="585.20" stroke="#444" stroke-width="0.73" />
<rect x="570.30" y="590.60" width="4.60" height="1.80" fill="none" stroke="#444" stroke-width="0.73" rx="0" />
<circle cx="587.60" cy="571.00" r="4.70" fill="none" stroke="#333" stroke-width="0.98"/>
<circle cx="587.60" cy="571.00" r="1.60" fill="none" stroke="#333" stroke-width="0.85"/>
<circle cx="587.60" cy="584.00" r="4.60" fill="none" stroke="#333" stroke-width="0.98"/>
<line x1="583.20" y1="583.00" x2="592.00" y2="583.00" stroke="#444" stroke-width="0.73" />
<line x1="583.20" y1="585.20" x2="592.00" y2="585.20" stroke="#444" stroke-width="0.73" />
<rect x="585.30" y="590.60" width="4.60" height="1.80" fill="none" stroke="#444" stroke-width="0.73" rx="0" />
<circle cx="599.80" cy="571.00" r="4.70" fill="none" stroke="#333" stroke-width="0.98"/>
<circle cx="599.80" cy="571.00" r="1.60" fill="none" stroke="#333" stroke-width="0.85"/>
<circle cx="599.80" cy="584.00" r="4.60" fill="none" stroke="#333" stroke-width="0.98"/>
<line x1="595.40" y1="583.00" x2="604.20" y2="583.00" stroke="#444" stroke-width="0.73" />
<line x1="595.40" y1="585.20" x2="604.20" y2="585.20" stroke="#444" stroke-width="0.73" />
<rect x="597.50" y="590.60" width="4.60" height="1.80" fill="none" stroke="#444" stroke-width="0.73" rx="0" />
<circle cx="614.70" cy="571.00" r="4.70" fill="none" stroke="#333" stroke-width="0.98"/>
<circle cx="614.70" cy="571.00" r="1.60" fill="none" stroke="#333" stroke-width="0.85"/>
<circle cx="614.70" cy="584.00" r="4.60" fill="none" stroke="#333" stroke-width="0.98"/>
<line x1="610.30" y1="583.00" x2="619.10" y2="583.00" stroke="#444" stroke-width="0.73" />
<line x1="610.30" y1="585.20" x2="619.10" y2="585.20" stroke="#444" stroke-width="0.73" />
<rect x="612.40" y="590.60" width="4.60" height="1.80" fill="none" stroke="#444" stroke-width="0.73" rx="0" />
<circle cx="627.10" cy="571.00" r="4.70" fill="none" stroke="#333" stroke-width="0.98"/>
<circle cx="627.10" cy="571.00" r="1.60" fill="none" stroke="#333" stroke-width="0.85"/>
<circle cx="627.10" cy="584.00" r="4.60" fill="none" stroke="#333" stroke-width="0.98"/>
<line x1="622.70" y1="583.00" x2="631.50" y2="583.00" stroke="#444" stroke-width="0.73" />
<line x1="622.70" y1="585.20" x2="631.50" y2="585.20" stroke="#444" stroke-width="0.73" />
<rect x="624.80" y="590.60" width="4.60" height="1.80" fill="none" stroke="#444" stroke-width="0.73" rx="0" />
<path d="M585,597.5V600.7H598.5V597.5M593,597.5V600.7" fill="none" stroke="#111" stroke-width="1.34" />
<path d="M616,597.5V602.8H626.5V597.5M621,597.5V601" fill="none" stroke="#111" stroke-width="1.34" />
<path d="M527,597.3H546M561,597.3H580" fill="none" stroke="#111" stroke-width="2.68" />
<path d="M652.1,489.8V604.4" fill="none" stroke="#111" stroke-width="1.83" />
<path d="M650.6,489.3V548.5Q650.5,553.3 645.8,553.6H609" fill="none" stroke="#1c1c1c" stroke-width="0.98" />
<path d="M654.3,491V522.3H664.7V494" fill="none" stroke="#1c1c1c" stroke-width="1.59" />
<path d="M655.3,492L656.5,508.5L664,512.7M662.2,495L663.3,512" fill="none" stroke="#333" stroke-width="0.98" />
<path d="M654.6,523V532L652.6,535" fill="none" stroke="#333" stroke-width="1.95" />
<path d="M679.8,500.8V514.3H672.2Q670.7,514.3 670.7,515.8V535.7Q670.7,537.2 672.2,537.2H679.8V562.4H672.2Q670.7,562.4 670.7,563.9V584.3Q670.7,585.8 672.2,585.8H679.8V607.9H672.2Q670.7,607.9 670.7,609.4V614" fill="none" stroke="#111" stroke-width="1.71" />
<rect x="676.80" y="518.20" width="6.10" height="15.00" fill="#fff" stroke="#555" stroke-width="0.85" rx="0" />
<line x1="678.60" y1="518.70" x2="678.60" y2="532.70" stroke="#777" stroke-width="0.73" />
<rect x="679.50" y="525.70" width="3.00" height="5.50" fill="#999" stroke="none" stroke-width="0.0" rx="0" />
<line x1="678.60" y1="523.20" x2="682.90" y2="523.20" stroke="#777" stroke-width="0.73" />
<rect x="676.80" y="566.70" width="6.10" height="15.00" fill="#fff" stroke="#555" stroke-width="0.85" rx="0" />
<line x1="678.60" y1="567.20" x2="678.60" y2="581.20" stroke="#777" stroke-width="0.73" />
<rect x="679.50" y="574.20" width="3.00" height="5.50" fill="#999" stroke="none" stroke-width="0.0" rx="0" />
<line x1="678.60" y1="571.70" x2="682.90" y2="571.70" stroke="#777" stroke-width="0.73" />
<path d="M400.1,614.3V390.1L428.9,405.6L450.8,429.5L518.6,437.6L570.4,469.6L622,480.8L684.6,500.5" fill="none" stroke="#0d0d0d" stroke-width="2.2" stroke-linejoin="miter"/>
<path d="M399.2,614.3H685.5" fill="none" stroke="#0d0d0d" stroke-width="2.68" />
<path d="M684.3,499.8V615.4" fill="none" stroke="#0d0d0d" stroke-width="2.5" />
<path d="M400.2,389.6V615" fill="none" stroke="#0d0d0d" stroke-width="2.68" />
<rect x="466.30" y="581.70" width="29.00" height="9.30" fill="#fff" stroke="#777" stroke-width="0.98" rx="0" />
<rect x="468.70" y="585.00" width="24.30" height="2.60" fill="#ccc" stroke="#888" stroke-width="0.73" rx="0.8" />
</g>
<g transform="translate(460.60,0.00)">
<line x1="423.60" y1="402.70" x2="423.60" y2="614.00" stroke="#1c1c1c" stroke-width="0.98" />
<line x1="432.10" y1="408.90" x2="432.10" y2="614.00" stroke="#1c1c1c" stroke-width="0.98" />
<path d="M427,415.2V411.6Q428.7,410.9 430.5,412.9V415.2Z" fill="none" stroke="#1c1c1c" stroke-width="0.85" />
<rect x="427.00" y="418.40" width="3.50" height="11.20" fill="none" stroke="#1c1c1c" stroke-width="0.85" rx="1.2" />
<rect x="427.00" y="431.40" width="3.50" height="11.20" fill="none" stroke="#1c1c1c" stroke-width="0.85" rx="1.2" />
<rect x="427.00" y="444.40" width="3.50" height="11.20" fill="none" stroke="#1c1c1c" stroke-width="0.85" rx="1.2" />
<rect x="427.00" y="457.40" width="3.50" height="11.20" fill="none" stroke="#1c1c1c" stroke-width="0.85" rx="1.2" />
<rect x="427.00" y="470.40" width="3.50" height="11.20" fill="none" stroke="#1c1c1c" stroke-width="0.85" rx="1.2" />
<rect x="427.00" y="483.40" width="3.50" height="11.20" fill="none" stroke="#1c1c1c" stroke-width="0.85" rx="1.2" />
<rect x="427.00" y="496.40" width="3.50" height="11.20" fill="none" stroke="#1c1c1c" stroke-width="0.85" rx="1.2" />
<rect x="427.00" y="509.40" width="3.50" height="11.20" fill="none" stroke="#1c1c1c" stroke-width="0.85" rx="1.2" />
<rect x="427.00" y="522.40" width="3.50" height="11.20" fill="none" stroke="#1c1c1c" stroke-width="0.85" rx="1.2" />
<rect x="427.00" y="535.40" width="3.50" height="11.20" fill="none" stroke="#1c1c1c" stroke-width="0.85" rx="1.2" />
<rect x="427.00" y="548.40" width="3.50" height="11.20" fill="none" stroke="#1c1c1c" stroke-width="0.85" rx="1.2" />
<rect x="427.00" y="561.40" width="3.50" height="11.20" fill="none" stroke="#1c1c1c" stroke-width="0.85" rx="1.2" />
<rect x="427.00" y="574.40" width="3.50" height="11.20" fill="none" stroke="#1c1c1c" stroke-width="0.85" rx="1.2" />
<rect x="427.00" y="587.40" width="3.50" height="11.20" fill="none" stroke="#1c1c1c" stroke-width="0.85" rx="1.2" />
<rect x="427.00" y="600.40" width="3.50" height="9.10" fill="none" stroke="#1c1c1c" stroke-width="0.85" rx="1.2" />
<rect x="411.90" y="404.70" width="6.70" height="25.60" fill="none" stroke="#1c1c1c" stroke-width="1.1" rx="0" />
<rect x="411.90" y="461.60" width="6.70" height="25.60" fill="none" stroke="#1c1c1c" stroke-width="1.1" rx="0" />
<rect x="411.90" y="517.50" width="6.70" height="25.60" fill="none" stroke="#1c1c1c" stroke-width="1.1" rx="0" />
<rect x="411.90" y="573.70" width="6.70" height="25.60" fill="none" stroke="#1c1c1c" stroke-width="1.1" rx="0" />
<path d="M423.6,574.5Q421,575 421,578V596Q421,599 423.6,599.5" fill="none" stroke="#1c1c1c" stroke-width="0.98" />
<line x1="442.30" y1="421.80" x2="442.30" y2="607.70" stroke="#1c1c1c" stroke-width="1.59" />
<line x1="450.50" y1="429.60" x2="450.50" y2="604.00" stroke="#1c1c1c" stroke-width="2.32" />
<rect x="447.00" y="473.90" width="3.30" height="8.80" fill="none" stroke="#1c1c1c" stroke-width="1.1" rx="0" />
<rect x="439.30" y="482.70" width="11.00" height="39.50" fill="#fff" stroke="#1c1c1c" stroke-width="1.34" rx="0" />
<path d="M441.5,490.5L450,488.5M441.5,490.5L442,513L450,515.5M442,513L450,509.5" fill="none" stroke="#1c1c1c" stroke-width="1.1" />
<path d="M445.5,522.2V532.5L450,536" fill="none" stroke="#1c1c1c" stroke-width="1.22" />
<rect x="447.60" y="522.40" width="2.40" height="8.60" fill="#aaa" stroke="#1c1c1c" stroke-width="0.73" rx="0" />
<path d="M442.3,607.7H661.2V522" fill="none" stroke="#1c1c1c" stroke-width="1.83" />
<path d="M450.5,604H520.4" fill="none" stroke="#1c1c1c" stroke-width="1.83" />
<path d="M454.3,430.2Q454.6,439.8 461,439.8H498Q503.5,439.8 504.8,436.4" fill="none" stroke="#1c1c1c" stroke-width="1.71" />
<path d="M457.3,430.6Q457.8,437.4 463,437.4H497Q500.5,437.4 502,436" fill="none" stroke="#1c1c1c" stroke-width="1.22" />
<rect x="453.70" y="442.30" width="55.30" height="82.70" fill="#fff" stroke="#1c1c1c" stroke-width="1.83" rx="4.5" />
<rect x="455.30" y="443.90" width="52.10" height="79.50" fill="none" stroke="#555" stroke-width="0.85" rx="3.5" />
<rect x="460.30" y="449.30" width="41.40" height="69.40" fill="none" stroke="#666" stroke-width="0.98" rx="0" />
<rect x="462.30" y="451.30" width="37.40" height="65.30" fill="none" stroke="#1c1c1c" stroke-width="1.34" rx="0" />
<rect x="468.30" y="454.30" width="26.00" height="57.40" fill="none" stroke="#111" stroke-width="1.95" rx="0" />
<circle cx="471.90" cy="458.30" r="1.05" fill="none" stroke="#444" stroke-width="0.73"/>
<circle cx="490.70" cy="458.30" r="1.05" fill="none" stroke="#444" stroke-width="0.73"/>
<circle cx="471.90" cy="464.30" r="1.05" fill="none" stroke="#444" stroke-width="0.73"/>
<circle cx="490.70" cy="464.30" r="1.05" fill="none" stroke="#444" stroke-width="0.73"/>
<circle cx="471.90" cy="470.30" r="1.05" fill="none" stroke="#444" stroke-width="0.73"/>
<circle cx="490.70" cy="470.30" r="1.05" fill="none" stroke="#444" stroke-width="0.73"/>
<circle cx="471.90" cy="476.70" r="1.05" fill="none" stroke="#444" stroke-width="0.73"/>
<circle cx="490.70" cy="476.70" r="1.05" fill="none" stroke="#444" stroke-width="0.73"/>
<circle cx="471.90" cy="483.00" r="1.05" fill="none" stroke="#444" stroke-width="0.73"/>
<circle cx="490.70" cy="483.00" r="1.05" fill="none" stroke="#444" stroke-width="0.73"/>
<circle cx="471.90" cy="489.30" r="1.05" fill="none" stroke="#444" stroke-width="0.73"/>
<circle cx="490.70" cy="489.30" r="1.05" fill="none" stroke="#444" stroke-width="0.73"/>
<circle cx="471.90" cy="495.30" r="1.05" fill="none" stroke="#444" stroke-width="0.73"/>
<circle cx="490.70" cy="495.30" r="1.05" fill="none" stroke="#444" stroke-width="0.73"/>
<circle cx="471.90" cy="501.30" r="1.05" fill="none" stroke="#444" stroke-width="0.73"/>
<circle cx="490.70" cy="501.30" r="1.05" fill="none" stroke="#444" stroke-width="0.73"/>
<circle cx="471.90" cy="507.30" r="1.05" fill="none" stroke="#444" stroke-width="0.73"/>
<circle cx="490.70" cy="507.30" r="1.05" fill="none" stroke="#444" stroke-width="0.73"/>
<rect x="475.70" y="461.00" width="11.30" height="6.30" fill="none" stroke="#555" stroke-width="0.85" rx="3.1" />
<rect x="475.70" y="479.70" width="11.30" height="6.30" fill="none" stroke="#555" stroke-width="0.85" rx="3.1" />
<path d="M469,492.3H477.5L478.8,490.4H480.3L481.3,489.2L482.3,490.4H483.8L485,492.3H493.6" fill="none" stroke="#444" stroke-width="0.85" />
<path d="M518.00,453.80Q516.80,454.00 515.60,455.60Q513.40,458.10 515.60,460.20Q516.90,460.70 515.60,461.80Q513.40,464.30 515.60,466.40Q516.90,466.90 515.60,468.00Q513.40,470.50 515.60,472.60Q516.90,473.10 515.60,474.20Q513.40,476.70 515.60,478.80Q516.90,479.30 515.60,480.40Q513.40,482.90 515.60,485.00Q516.90,485.50 515.60,486.60Q513.40,489.10 515.60,491.20Q516.90,491.70 515.60,492.80Q513.40,495.30 515.60,497.40Q516.90,497.90 515.60,499.00Q513.40,501.50 515.60,503.60Q516.90,504.10 515.60,505.20Q513.40,507.70 515.60,509.80Q516.90,510.30 515.60,511.40Q514.40,512.80 517.80,513.80" fill="none" stroke="#333" stroke-width="1.1" />
<path d="M533.20,453.80Q534.40,454.00 535.60,455.60Q537.80,458.10 535.60,460.20Q534.30,460.70 535.60,461.80Q537.80,464.30 535.60,466.40Q534.30,466.90 535.60,468.00Q537.80,470.50 535.60,472.60Q534.30,473.10 535.60,474.20Q537.80,476.70 535.60,478.80Q534.30,479.30 535.60,480.40Q537.80,482.90 535.60,485.00Q534.30,485.50 535.60,486.60Q537.80,489.10 535.60,491.20Q534.30,491.70 535.60,492.80Q537.80,495.30 535.60,497.40Q534.30,497.90 535.60,499.00Q537.80,501.50 535.60,503.60Q534.30,504.10 535.60,505.20Q537.80,507.70 535.60,509.80Q534.30,510.30 535.60,511.40Q536.80,512.80 533.40,513.80" fill="none" stroke="#333" stroke-width="1.1" />
<line x1="515.60" y1="467.30" x2="535.60" y2="467.30" stroke="#333" stroke-width="0.98" />
<line x1="515.60" y1="480.30" x2="535.60" y2="480.30" stroke="#333" stroke-width="0.98" />
<line x1="515.60" y1="486.00" x2="535.60" y2="486.00" stroke="#333" stroke-width="0.98" />
<line x1="515.60" y1="492.00" x2="535.60" y2="492.00" stroke="#333" stroke-width="0.98" />
<line x1="515.60" y1="499.00" x2="535.60" y2="499.00" stroke="#333" stroke-width="0.98" />
<line x1="515.60" y1="505.00" x2="535.60" y2="505.00" stroke="#333" stroke-width="0.98" />
<line x1="518.20" y1="467.30" x2="518.20" y2="505.00" stroke="#333" stroke-width="0.98" />
<line x1="533.60" y1="467.30" x2="533.60" y2="505.00" stroke="#333" stroke-width="0.98" />
<line x1="526.00" y1="499.00" x2="526.00" y2="511.00" stroke="#333" stroke-width="0.98" />
<g font-size="8.8" fill="#222">
<text transform="translate(522.5,459.50) rotate(90)" x="0" y="0" textLength="4.4" lengthAdjust="spacingAndGlyphs">P</text>
<text transform="translate(522.5,471.60) rotate(90)" x="0" y="0" textLength="4.8" lengthAdjust="spacingAndGlyphs">N</text>
<text transform="translate(522.5,481.15) rotate(90)" x="0" y="0" textLength="4.3" lengthAdjust="spacingAndGlyphs">S</text>
<text transform="translate(522.5,487.20) rotate(90)" x="0" y="0" textLength="4.0" lengthAdjust="spacingAndGlyphs">T</text>
<text transform="translate(522.5,492.90) rotate(90)" x="0" y="0" textLength="5.6" lengthAdjust="spacingAndGlyphs">M</text>
<text transform="translate(519.2,500.6) rotate(90)" font-size="6.4" textLength="2.9" lengthAdjust="spacingAndGlyphs">1</text>
<text transform="translate(519.4,506.6) rotate(90)" font-size="6.4" textLength="3.3" lengthAdjust="spacingAndGlyphs">2</text>
<text transform="translate(527.8,500.6) rotate(90)" font-size="7" textLength="3.2" lengthAdjust="spacingAndGlyphs">J</text>
<text transform="translate(527.8,506.8) rotate(90)" font-size="7" textLength="3.2" lengthAdjust="spacingAndGlyphs">J</text>
</g>
<rect x="455.00" y="529.30" width="52.70" height="75.00" fill="#fff" stroke="#1c1c1c" stroke-width="1.71" rx="7" />
<rect x="457.00" y="531.30" width="48.70" height="71.00" fill="none" stroke="#666" stroke-width="0.98" rx="5.5" />
<rect x="461.30" y="535.00" width="40.00" height="27.30" fill="none" stroke="#1c1c1c" stroke-width="1.59" rx="2.5" />
<path d="M465,538.3H496.7V555.7H487.5L486.3,559H476L474.8,555.7H465Z" fill="none" stroke="#111" stroke-width="1.83" />
<rect x="466.50" y="539.80" width="3.10" height="14.50" fill="none" stroke="#666" stroke-width="0.73" rx="0" />
<rect x="491.50" y="539.80" width="3.70" height="14.50" fill="none" stroke="#555" stroke-width="0.85" rx="0" />
<line x1="470.80" y1="539.00" x2="470.80" y2="555.00" stroke="#333" stroke-width="0.98" />
<line x1="490.60" y1="539.00" x2="490.60" y2="555.00" stroke="#333" stroke-width="0.98" />
<circle cx="474.70" cy="544.00" r="0.95" fill="#555" stroke="none" stroke-width="0.0"/>
<circle cx="474.70" cy="550.30" r="0.95" fill="#555" stroke="none" stroke-width="0.0"/>
<circle cx="481.00" cy="544.00" r="0.95" fill="#555" stroke="none" stroke-width="0.0"/>
<circle cx="481.00" cy="550.30" r="0.95" fill="#555" stroke="none" stroke-width="0.0"/>
<circle cx="487.30" cy="544.00" r="0.95" fill="#555" stroke="none" stroke-width="0.0"/>
<circle cx="487.30" cy="550.30" r="0.95" fill="#555" stroke="none" stroke-width="0.0"/>
<rect x="461.30" y="570.30" width="40.00" height="28.00" fill="none" stroke="#1c1c1c" stroke-width="1.59" rx="2.5" />
<path d="M465,594.7V577.7H475L476.2,574.3H486.2L487.4,577.7H496.7V594.7" fill="none" stroke="#111" stroke-width="1.83" />
<path d="M465,594.7H469.5M492.5,594.7H496.7" fill="none" stroke="#111" stroke-width="1.83" />
<line x1="467.80" y1="580.00" x2="467.80" y2="593.00" stroke="#777" stroke-width="0.73" />
<line x1="494.20" y1="580.00" x2="494.20" y2="593.00" stroke="#777" stroke-width="0.73" />
<text x="507.80" y="588.60" font-size="9.4" font-weight="normal" font-style="normal" fill="#555" text-anchor="start" textLength="11.60" lengthAdjust="spacingAndGlyphs" >OUT</text>
<rect x="511.00" y="541.30" width="11.00" height="5.00" fill="none" stroke="#1c1c1c" stroke-width="1.1" rx="0" />
<path d="M522,542.6H523.4L525.5,541.4V546.2L523.4,545H522Z" fill="#222" stroke="#222" stroke-width="0.61" />
<rect x="529.30" y="538.40" width="24.70" height="12.60" fill="#fbfbfb" stroke="#888" stroke-width="0.85" rx="0" />
<rect x="530.30" y="539.30" width="22.70" height="10.80" fill="none" stroke="#aaa" stroke-width="0.49" rx="0" />
<text x="541.65" y="548.60" font-size="9.2" font-weight="normal" font-style="normal" fill="#444" text-anchor="middle" textLength="11.80" lengthAdjust="spacingAndGlyphs" >BUS</text>
<rect x="554.00" y="538.40" width="12.60" height="12.60" fill="#fbfbfb" stroke="#888" stroke-width="0.85" rx="0" />
<rect x="555.00" y="539.30" width="10.60" height="10.80" fill="none" stroke="#aaa" stroke-width="0.49" rx="0" />
<text x="560.30" y="548.60" font-size="9.2" font-weight="normal" font-style="normal" fill="#444" text-anchor="middle" textLength="3.60" lengthAdjust="spacingAndGlyphs" >2</text>
<rect x="566.60" y="538.40" width="12.10" height="12.60" fill="#fbfbfb" stroke="#888" stroke-width="0.85" rx="0" />
<rect x="567.60" y="539.30" width="10.10" height="10.80" fill="none" stroke="#aaa" stroke-width="0.49" rx="0" />
<text x="572.65" y="548.60" font-size="9.2" font-weight="normal" font-style="normal" fill="#444" text-anchor="middle" textLength="2.60" lengthAdjust="spacingAndGlyphs" >1</text>
<rect x="580.40" y="538.40" width="24.70" height="12.60" fill="#fbfbfb" stroke="#888" stroke-width="0.85" rx="0" />
<rect x="581.40" y="539.30" width="22.70" height="10.80" fill="none" stroke="#aaa" stroke-width="0.49" rx="0" />
<text x="593.95" y="548.60" font-size="9.2" font-weight="normal" font-style="normal" fill="#444" text-anchor="middle" textLength="7.40" lengthAdjust="spacingAndGlyphs" >PL</text>
<rect x="607.30" y="538.40" width="13.40" height="12.60" fill="#fbfbfb" stroke="#888" stroke-width="0.85" rx="0" />
<rect x="608.30" y="539.30" width="11.40" height="10.80" fill="none" stroke="#aaa" stroke-width="0.49" rx="0" />
<text x="614.00" y="548.60" font-size="9.2" font-weight="normal" font-style="normal" fill="#444" text-anchor="middle" textLength="8.40" lengthAdjust="spacingAndGlyphs" >S+</text>
<rect x="620.70" y="538.40" width="11.70" height="12.60" fill="#fbfbfb" stroke="#888" stroke-width="0.85" rx="0" />
<rect x="621.70" y="539.30" width="9.70" height="10.80" fill="none" stroke="#aaa" stroke-width="0.49" rx="0" />
<text x="626.55" y="548.60" font-size="9.2" font-weight="normal" font-style="normal" fill="#444" text-anchor="middle" textLength="6.60" lengthAdjust="spacingAndGlyphs" >S-</text>
<line x1="585.00" y1="536.80" x2="600.50" y2="536.80" stroke="#222" stroke-width="0.85" />
<path d="M588.5,536.8L590.3,535V532.3H592V531.2H595V532.3H596.6V535L598.3,536.8Z" fill="#1a1a1a" stroke="#1a1a1a" stroke-width="0.49" />
<path d="M606.3,478.2V550.5Q606.4,553.6 609.5,553.9" fill="none" stroke="#1c1c1c" stroke-width="1.34" />
<path d="M520.4,604V564.5L519.6,563.5V558.8L520.6,557.8V556Q520.6,554 522.6,554H640.8Q642.8,554 642.8,556" fill="none" stroke="#111" stroke-width="2.07" />
<path d="M642.8,556V557.5L643.8,558.5V563L642.6,564V604.4H652.1" fill="none" stroke="#111" stroke-width="1.83" />
<rect x="526.70" y="559.70" width="109.20" height="37.30" fill="none" stroke="#111" stroke-width="2.07" rx="0" />
<rect x="528.60" y="561.60" width="105.40" height="33.60" fill="none" stroke="#555" stroke-width="0.73" rx="0" />
<line x1="579.10" y1="560.00" x2="579.10" y2="597.00" stroke="#111" stroke-width="1.59" />
<line x1="581.30" y1="560.00" x2="581.30" y2="597.00" stroke="#222" stroke-width="1.1" />
<line x1="606.40" y1="560.00" x2="606.40" y2="597.00" stroke="#111" stroke-width="1.59" />
<line x1="608.60" y1="560.00" x2="608.60" y2="597.00" stroke="#222" stroke-width="1.1" />
<line x1="528.00" y1="577.40" x2="634.50" y2="577.40" stroke="#444" stroke-width="0.98" />
<circle cx="535.80" cy="571.00" r="4.70" fill="none" stroke="#333" stroke-width="0.98"/>
<circle cx="535.80" cy="571.00" r="1.60" fill="none" stroke="#333" stroke-width="0.85"/>
<circle cx="535.80" cy="584.00" r="4.60" fill="none" stroke="#333" stroke-width="0.98"/>
<line x1="531.40" y1="583.00" x2="540.20" y2="583.00" stroke="#444" stroke-width="0.73" />
<line x1="531.40" y1="585.20" x2="540.20" y2="585.20" stroke="#444" stroke-width="0.73" />
<rect x="533.50" y="590.60" width="4.60" height="1.80" fill="none" stroke="#444" stroke-width="0.73" rx="0" />
<circle cx="547.90" cy="571.00" r="4.70" fill="none" stroke="#333" stroke-width="0.98"/>
<circle cx="547.90" cy="571.00" r="1.60" fill="none" stroke="#333" stroke-width="0.85"/>
<circle cx="547.90" cy="584.00" r="4.60" fill="none" stroke="#333" stroke-width="0.98"/>
<line x1="543.50" y1="583.00" x2="552.30" y2="583.00" stroke="#444" stroke-width="0.73" />
<line x1="543.50" y1="585.20" x2="552.30" y2="585.20" stroke="#444" stroke-width="0.73" />
<rect x="545.60" y="590.60" width="4.60" height="1.80" fill="none" stroke="#444" stroke-width="0.73" rx="0" />
<circle cx="560.10" cy="571.00" r="4.70" fill="none" stroke="#333" stroke-width="0.98"/>
<circle cx="560.10" cy="571.00" r="1.60" fill="none" stroke="#333" stroke-width="0.85"/>
<circle cx="560.10" cy="584.00" r="4.60" fill="none" stroke="#333" stroke-width="0.98"/>
<line x1="555.70" y1="583.00" x2="564.50" y2="583.00" stroke="#444" stroke-width="0.73" />
<line x1="555.70" y1="585.20" x2="564.50" y2="585.20" stroke="#444" stroke-width="0.73" />
<rect x="557.80" y="590.60" width="4.60" height="1.80" fill="none" stroke="#444" stroke-width="0.73" rx="0" />
<circle cx="572.60" cy="571.00" r="4.70" fill="none" stroke="#333" stroke-width="0.98"/>
<circle cx="572.60" cy="571.00" r="1.60" fill="none" stroke="#333" stroke-width="0.85"/>
<circle cx="572.60" cy="584.00" r="4.60" fill="none" stroke="#333" stroke-width="0.98"/>
<line x1="568.20" y1="583.00" x2="577.00" y2="583.00" stroke="#444" stroke-width="0.73" />
<line x1="568.20" y1="585.20" x2="577.00" y2="585.20" stroke="#444" stroke-width="0.73" />
<rect x="570.30" y="590.60" width="4.60" height="1.80" fill="none" stroke="#444" stroke-width="0.73" rx="0" />
<circle cx="587.60" cy="571.00" r="4.70" fill="none" stroke="#333" stroke-width="0.98"/>
<circle cx="587.60" cy="571.00" r="1.60" fill="none" stroke="#333" stroke-width="0.85"/>
<circle cx="587.60" cy="584.00" r="4.60" fill="none" stroke="#333" stroke-width="0.98"/>
<line x1="583.20" y1="583.00" x2="592.00" y2="583.00" stroke="#444" stroke-width="0.73" />
<line x1="583.20" y1="585.20" x2="592.00" y2="585.20" stroke="#444" stroke-width="0.73" />
<rect x="585.30" y="590.60" width="4.60" height="1.80" fill="none" stroke="#444" stroke-width="0.73" rx="0" />
<circle cx="599.80" cy="571.00" r="4.70" fill="none" stroke="#333" stroke-width="0.98"/>
<circle cx="599.80" cy="571.00" r="1.60" fill="none" stroke="#333" stroke-width="0.85"/>
<circle cx="599.80" cy="584.00" r="4.60" fill="none" stroke="#333" stroke-width="0.98"/>
<line x1="595.40" y1="583.00" x2="604.20" y2="583.00" stroke="#444" stroke-width="0.73" />
<line x1="595.40" y1="585.20" x2="604.20" y2="585.20" stroke="#444" stroke-width="0.73" />
<rect x="597.50" y="590.60" width="4.60" height="1.80" fill="none" stroke="#444" stroke-width="0.73" rx="0" />
<circle cx="614.70" cy="571.00" r="4.70" fill="none" stroke="#333" stroke-width="0.98"/>
<circle cx="614.70" cy="571.00" r="1.60" fill="none" stroke="#333" stroke-width="0.85"/>
<circle cx="614.70" cy="584.00" r="4.60" fill="none" stroke="#333" stroke-width="0.98"/>
<line x1="610.30" y1="583.00" x2="619.10" y2="583.00" stroke="#444" stroke-width="0.73" />
<line x1="610.30" y1="585.20" x2="619.10" y2="585.20" stroke="#444" stroke-width="0.73" />
<rect x="612.40" y="590.60" width="4.60" height="1.80" fill="none" stroke="#444" stroke-width="0.73" rx="0" />
<circle cx="627.10" cy="571.00" r="4.70" fill="none" stroke="#333" stroke-width="0.98"/>
<circle cx="627.10" cy="571.00" r="1.60" fill="none" stroke="#333" stroke-width="0.85"/>
<circle cx="627.10" cy="584.00" r="4.60" fill="none" stroke="#333" stroke-width="0.98"/>
<line x1="622.70" y1="583.00" x2="631.50" y2="583.00" stroke="#444" stroke-width="0.73" />
<line x1="622.70" y1="585.20" x2="631.50" y2="585.20" stroke="#444" stroke-width="0.73" />
<rect x="624.80" y="590.60" width="4.60" height="1.80" fill="none" stroke="#444" stroke-width="0.73" rx="0" />
<path d="M585,597.5V600.7H598.5V597.5M593,597.5V600.7" fill="none" stroke="#111" stroke-width="1.34" />
<path d="M616,597.5V602.8H626.5V597.5M621,597.5V601" fill="none" stroke="#111" stroke-width="1.34" />
<path d="M527,597.3H546M561,597.3H580" fill="none" stroke="#111" stroke-width="2.68" />
<path d="M652.1,489.8V604.4" fill="none" stroke="#111" stroke-width="1.83" />
<path d="M650.6,489.3V548.5Q650.5,553.3 645.8,553.6H609" fill="none" stroke="#1c1c1c" stroke-width="0.98" />
<path d="M654.3,491V522.3H664.7V494" fill="none" stroke="#1c1c1c" stroke-width="1.59" />
<path d="M655.3,492L656.5,508.5L664,512.7M662.2,495L663.3,512" fill="none" stroke="#333" stroke-width="0.98" />
<path d="M654.6,523V532L652.6,535" fill="none" stroke="#333" stroke-width="1.95" />
<path d="M679.8,500.8V514.3H672.2Q670.7,514.3 670.7,515.8V535.7Q670.7,537.2 672.2,537.2H679.8V562.4H672.2Q670.7,562.4 670.7,563.9V584.3Q670.7,585.8 672.2,585.8H679.8V607.9H672.2Q670.7,607.9 670.7,609.4V614" fill="none" stroke="#111" stroke-width="1.71" />
<rect x="676.80" y="518.20" width="6.10" height="15.00" fill="#fff" stroke="#555" stroke-width="0.85" rx="0" />
<line x1="678.60" y1="518.70" x2="678.60" y2="532.70" stroke="#777" stroke-width="0.73" />
<rect x="679.50" y="525.70" width="3.00" height="5.50" fill="#999" stroke="none" stroke-width="0.0" rx="0" />
<line x1="678.60" y1="523.20" x2="682.90" y2="523.20" stroke="#777" stroke-width="0.73" />
<rect x="676.80" y="566.70" width="6.10" height="15.00" fill="#fff" stroke="#555" stroke-width="0.85" rx="0" />
<line x1="678.60" y1="567.20" x2="678.60" y2="581.20" stroke="#777" stroke-width="0.73" />
<rect x="679.50" y="574.20" width="3.00" height="5.50" fill="#999" stroke="none" stroke-width="0.0" rx="0" />
<line x1="678.60" y1="571.70" x2="682.90" y2="571.70" stroke="#777" stroke-width="0.73" />
<path d="M400.1,614.3V390.1L428.9,405.6L450.8,429.5L518.6,437.6L570.4,469.6L622,480.8L684.6,500.5" fill="none" stroke="#0d0d0d" stroke-width="2.2" stroke-linejoin="miter"/>
<path d="M399.2,614.3H685.5" fill="none" stroke="#0d0d0d" stroke-width="2.68" />
<path d="M684.3,499.8V615.4" fill="none" stroke="#0d0d0d" stroke-width="2.5" />
<path d="M400.2,389.6V615" fill="none" stroke="#0d0d0d" stroke-width="2.68" />
<rect x="466.30" y="581.70" width="29.00" height="9.30" fill="#fff" stroke="#777" stroke-width="0.98" rx="0" />
<rect x="468.70" y="585.00" width="24.30" height="2.60" fill="#ccc" stroke="#888" stroke-width="0.73" rx="0.8" />
</g>
<g transform="translate(0.00,0.00)">
<g transform="translate(0.00,0.00)">
<rect x="386.50" y="677.20" width="130.40" height="101.30" fill="#fff" stroke="#3a3a3a" stroke-width="1.1" rx="0" />
<path d="M398.7,677.2V727.4H386.5" fill="none" stroke="#3a3a3a" stroke-width="1.1" />
<path d="M505,677.2V727.4H516.9" fill="none" stroke="#3a3a3a" stroke-width="1.1" />
<text x="403.30" y="692.90" font-size="7.6" font-weight="bold" font-style="normal" fill="#222" text-anchor="start" textLength="9.60" lengthAdjust="spacingAndGlyphs" >C€</text>
<path d="M422.3,686.3H444.9V698.5H440L438.8,701.2H428.4L427.2,698.5H422.3Z" fill="none" stroke="#555" stroke-width="0.9" />
<path d="M422.3,720.4H444.9V708.2H440L438.8,705.5H428.4L427.2,708.2H422.3Z" fill="none" stroke="#555" stroke-width="0.9" />
<text x="433.60" y="696.20" font-size="8.6" font-weight="normal" font-style="normal" fill="#333" text-anchor="middle" textLength="5.80" lengthAdjust="spacingAndGlyphs" >IN</text>
<text x="433.60" y="718.20" font-size="8.6" font-weight="normal" font-style="normal" fill="#333" text-anchor="middle" textLength="11.40" lengthAdjust="spacingAndGlyphs" >OUT</text>
<text x="402.20" y="733.60" font-size="8.8" font-weight="bold" font-style="normal" fill="#111" text-anchor="start" textLength="34.40" lengthAdjust="spacingAndGlyphs" stroke="#111" stroke-width="0.9">bticino</text>
<circle cx="396.00" cy="734.30" r="2.30" fill="none" stroke="#3a3a3a" stroke-width="1.0"/>
<circle cx="507.50" cy="734.30" r="2.30" fill="none" stroke="#3a3a3a" stroke-width="1.0"/>
<text x="401.70" y="744.00" font-size="6.2" font-weight="normal" font-style="normal" fill="#777" text-anchor="middle" >C</text>
<text x="414.50" y="744.00" font-size="6.2" font-weight="normal" font-style="normal" fill="#777" text-anchor="middle" >8</text>
<text x="427.00" y="744.00" font-size="6.2" font-weight="normal" font-style="normal" fill="#777" text-anchor="middle" >7</text>
<text x="439.20" y="744.00" font-size="6.2" font-weight="normal" font-style="normal" fill="#777" text-anchor="middle" >6</text>
<text x="452.00" y="744.00" font-size="6.2" font-weight="normal" font-style="normal" fill="#777" text-anchor="middle" >5</text>
<text x="464.60" y="744.00" font-size="6.2" font-weight="normal" font-style="normal" fill="#777" text-anchor="middle" >4</text>
<text x="477.20" y="744.00" font-size="6.2" font-weight="normal" font-style="normal" fill="#777" text-anchor="middle" >3</text>
<text x="489.70" y="744.00" font-size="6.2" font-weight="normal" font-style="normal" fill="#777" text-anchor="middle" >2</text>
<text x="501.00" y="744.00" font-size="6.2" font-weight="normal" font-style="normal" fill="#777" text-anchor="middle" >1</text>
<rect x="389.40" y="745.50" width="124.80" height="30.50" fill="none" stroke="#3a3a3a" stroke-width="1.0" rx="0" />
<line x1="389.40" y1="746.00" x2="514.20" y2="746.00" stroke="#222" stroke-width="1.4" />
<path d="M392,746V773.6H394.4M394.4,746V773.6" fill="none" stroke="#3a3a3a" stroke-width="0.9" />
<path d="M511.6,746V773.6M509.6,746V776" fill="none" stroke="#3a3a3a" stroke-width="0.9" />
<rect x="512.00" y="747.50" width="2.00" height="16.50" fill="#aaa" stroke="none" stroke-width="0.0" rx="0" />
<rect x="389.90" y="748.00" width="1.70" height="16.00" fill="#bbb" stroke="none" stroke-width="0.0" rx="0" />
<line x1="392.00" y1="774.70" x2="512.00" y2="774.70" stroke="#2a2a2a" stroke-width="1.5" />
<rect x="395.80" y="746.80" width="11.70" height="4.00" fill="#fff" stroke="#222" stroke-width="1.0" rx="0" />
<rect x="409.54" y="747.60" width="10.60" height="6.80" fill="#fff" stroke="#333" stroke-width="1.15" rx="0" />
<rect x="421.88" y="747.60" width="10.60" height="6.80" fill="#fff" stroke="#333" stroke-width="1.15" rx="0" />
<rect x="434.22" y="747.60" width="10.60" height="6.80" fill="#fff" stroke="#333" stroke-width="1.15" rx="0" />
<rect x="446.56" y="747.60" width="10.60" height="6.80" fill="#fff" stroke="#333" stroke-width="1.15" rx="0" />
<rect x="458.90" y="747.60" width="10.60" height="6.80" fill="#fff" stroke="#333" stroke-width="1.15" rx="0" />
<rect x="471.24" y="747.60" width="10.60" height="6.80" fill="#fff" stroke="#333" stroke-width="1.15" rx="0" />
<rect x="483.58" y="747.60" width="10.60" height="6.80" fill="#fff" stroke="#333" stroke-width="1.15" rx="0" />
<rect x="495.92" y="747.60" width="10.60" height="6.80" fill="#fff" stroke="#333" stroke-width="1.15" rx="0" />
<rect x="396.30" y="755.00" width="111.50" height="18.70" fill="#fff" stroke="#3a3a3a" stroke-width="1.0" rx="0" />
<rect x="396.80" y="771.30" width="110.50" height="2.00" fill="#a8a8a8" stroke="none" stroke-width="0.0" rx="0" />
<line x1="396.30" y1="757.70" x2="507.80" y2="757.70" stroke="#555" stroke-width="0.8" />
<circle cx="402.50" cy="765.70" r="4.40" fill="#fff" stroke="#333" stroke-width="1.0"/>
<path d="M398.90,768.20L404.80,762.00M400.20,769.40L406.10,763.20M399.50,768.90L405.50,762.50" stroke="#444" stroke-width="0.8" fill="none"/>
<circle cx="414.84" cy="765.70" r="4.40" fill="#fff" stroke="#333" stroke-width="1.0"/>
<path d="M411.24,768.20L417.14,762.00M412.54,769.40L418.44,763.20M411.84,768.90L417.84,762.50" stroke="#444" stroke-width="0.8" fill="none"/>
<circle cx="427.18" cy="765.70" r="4.40" fill="#fff" stroke="#333" stroke-width="1.0"/>
<path d="M423.58,768.20L429.48,762.00M424.88,769.40L430.78,763.20M424.18,768.90L430.18,762.50" stroke="#444" stroke-width="0.8" fill="none"/>
<circle cx="439.52" cy="765.70" r="4.40" fill="#fff" stroke="#333" stroke-width="1.0"/>
<path d="M435.92,768.20L441.82,762.00M437.22,769.40L443.12,763.20M436.52,768.90L442.52,762.50" stroke="#444" stroke-width="0.8" fill="none"/>
<circle cx="451.86" cy="765.70" r="4.40" fill="#fff" stroke="#333" stroke-width="1.0"/>
<path d="M448.26,768.20L454.16,762.00M449.56,769.40L455.46,763.20M448.86,768.90L454.86,762.50" stroke="#444" stroke-width="0.8" fill="none"/>
<circle cx="464.20" cy="765.70" r="4.40" fill="#fff" stroke="#333" stroke-width="1.0"/>
<path d="M460.60,768.20L466.50,762.00M461.90,769.40L467.80,763.20M461.20,768.90L467.20,762.50" stroke="#444" stroke-width="0.8" fill="none"/>
<circle cx="476.54" cy="765.70" r="4.40" fill="#fff" stroke="#333" stroke-width="1.0"/>
<path d="M472.94,768.20L478.84,762.00M474.24,769.40L480.14,763.20M473.54,768.90L479.54,762.50" stroke="#444" stroke-width="0.8" fill="none"/>
<circle cx="488.88" cy="765.70" r="4.40" fill="#fff" stroke="#333" stroke-width="1.0"/>
<path d="M485.28,768.20L491.18,762.00M486.58,769.40L492.48,763.20M485.88,768.90L491.88,762.50" stroke="#444" stroke-width="0.8" fill="none"/>
<circle cx="501.22" cy="765.70" r="4.40" fill="#fff" stroke="#333" stroke-width="1.0"/>
<path d="M497.62,768.20L503.52,762.00M498.92,769.40L504.82,763.20M498.22,768.90L504.22,762.50" stroke="#444" stroke-width="0.8" fill="none"/>
<line x1="433.50" y1="755.00" x2="433.50" y2="776.00" stroke="#222" stroke-width="1.1" />
<text x="469.60" y="734.40" font-size="5.6" font-weight="normal" font-style="normal" fill="#888" text-anchor="start" textLength="23.20" lengthAdjust="spacingAndGlyphs" >BT-346993</text>
<text x="385.60" y="666.60" font-size="12.6" font-weight="bold" font-style="normal" fill="#151515" text-anchor="start" textLength="44.20" lengthAdjust="spacingAndGlyphs" >346993</text>
</g>
<g transform="translate(0.00,247.30)">
<rect x="386.50" y="677.20" width="130.40" height="101.30" fill="#fff" stroke="#3a3a3a" stroke-width="1.1" rx="0" />
<path d="M398.7,677.2V727.4H386.5" fill="none" stroke="#3a3a3a" stroke-width="1.1" />
<path d="M505,677.2V727.4H516.9" fill="none" stroke="#3a3a3a" stroke-width="1.1" />
<text x="403.30" y="692.90" font-size="7.6" font-weight="bold" font-style="normal" fill="#222" text-anchor="start" textLength="9.60" lengthAdjust="spacingAndGlyphs" >C€</text>
<path d="M422.3,686.3H444.9V698.5H440L438.8,701.2H428.4L427.2,698.5H422.3Z" fill="none" stroke="#555" stroke-width="0.9" />
<path d="M422.3,720.4H444.9V708.2H440L438.8,705.5H428.4L427.2,708.2H422.3Z" fill="none" stroke="#555" stroke-width="0.9" />
<text x="433.60" y="696.20" font-size="8.6" font-weight="normal" font-style="normal" fill="#333" text-anchor="middle" textLength="5.80" lengthAdjust="spacingAndGlyphs" >IN</text>
<text x="433.60" y="718.20" font-size="8.6" font-weight="normal" font-style="normal" fill="#333" text-anchor="middle" textLength="11.40" lengthAdjust="spacingAndGlyphs" >OUT</text>
<text x="402.20" y="733.60" font-size="8.8" font-weight="bold" font-style="normal" fill="#111" text-anchor="start" textLength="34.40" lengthAdjust="spacingAndGlyphs" stroke="#111" stroke-width="0.9">bticino</text>
<circle cx="396.00" cy="734.30" r="2.30" fill="none" stroke="#3a3a3a" stroke-width="1.0"/>
<circle cx="507.50" cy="734.30" r="2.30" fill="none" stroke="#3a3a3a" stroke-width="1.0"/>
<text x="401.70" y="744.00" font-size="6.2" font-weight="normal" font-style="normal" fill="#777" text-anchor="middle" >C</text>
<text x="414.50" y="744.00" font-size="6.2" font-weight="normal" font-style="normal" fill="#777" text-anchor="middle" >8</text>
<text x="427.00" y="744.00" font-size="6.2" font-weight="normal" font-style="normal" fill="#777" text-anchor="middle" >7</text>
<text x="439.20" y="744.00" font-size="6.2" font-weight="normal" font-style="normal" fill="#777" text-anchor="middle" >6</text>
<text x="452.00" y="744.00" font-size="6.2" font-weight="normal" font-style="normal" fill="#777" text-anchor="middle" >5</text>
<text x="464.60" y="744.00" font-size="6.2" font-weight="normal" font-style="normal" fill="#777" text-anchor="middle" >4</text>
<text x="477.20" y="744.00" font-size="6.2" font-weight="normal" font-style="normal" fill="#777" text-anchor="middle" >3</text>
<text x="489.70" y="744.00" font-size="6.2" font-weight="normal" font-style="normal" fill="#777" text-anchor="middle" >2</text>
<text x="501.00" y="744.00" font-size="6.2" font-weight="normal" font-style="normal" fill="#777" text-anchor="middle" >1</text>
<rect x="389.40" y="745.50" width="124.80" height="30.50" fill="none" stroke="#3a3a3a" stroke-width="1.0" rx="0" />
<line x1="389.40" y1="746.00" x2="514.20" y2="746.00" stroke="#222" stroke-width="1.4" />
<path d="M392,746V773.6H394.4M394.4,746V773.6" fill="none" stroke="#3a3a3a" stroke-width="0.9" />
<path d="M511.6,746V773.6M509.6,746V776" fill="none" stroke="#3a3a3a" stroke-width="0.9" />
<rect x="512.00" y="747.50" width="2.00" height="16.50" fill="#aaa" stroke="none" stroke-width="0.0" rx="0" />
<rect x="389.90" y="748.00" width="1.70" height="16.00" fill="#bbb" stroke="none" stroke-width="0.0" rx="0" />
<line x1="392.00" y1="774.70" x2="512.00" y2="774.70" stroke="#2a2a2a" stroke-width="1.5" />
<rect x="395.80" y="746.80" width="11.70" height="4.00" fill="#fff" stroke="#222" stroke-width="1.0" rx="0" />
<rect x="409.54" y="747.60" width="10.60" height="6.80" fill="#fff" stroke="#333" stroke-width="1.15" rx="0" />
<rect x="421.88" y="747.60" width="10.60" height="6.80" fill="#fff" stroke="#333" stroke-width="1.15" rx="0" />
<rect x="434.22" y="747.60" width="10.60" height="6.80" fill="#fff" stroke="#333" stroke-width="1.15" rx="0" />
<rect x="446.56" y="747.60" width="10.60" height="6.80" fill="#fff" stroke="#333" stroke-width="1.15" rx="0" />
<rect x="458.90" y="747.60" width="10.60" height="6.80" fill="#fff" stroke="#333" stroke-width="1.15" rx="0" />
<rect x="471.24" y="747.60" width="10.60" height="6.80" fill="#fff" stroke="#333" stroke-width="1.15" rx="0" />
<rect x="483.58" y="747.60" width="10.60" height="6.80" fill="#fff" stroke="#333" stroke-width="1.15" rx="0" />
<rect x="495.92" y="747.60" width="10.60" height="6.80" fill="#fff" stroke="#333" stroke-width="1.15" rx="0" />
<rect x="396.30" y="755.00" width="111.50" height="18.70" fill="#fff" stroke="#3a3a3a" stroke-width="1.0" rx="0" />
<rect x="396.80" y="771.30" width="110.50" height="2.00" fill="#a8a8a8" stroke="none" stroke-width="0.0" rx="0" />
<line x1="396.30" y1="757.70" x2="507.80" y2="757.70" stroke="#555" stroke-width="0.8" />
<circle cx="402.50" cy="765.70" r="4.40" fill="#fff" stroke="#333" stroke-width="1.0"/>
<path d="M398.90,768.20L404.80,762.00M400.20,769.40L406.10,763.20M399.50,768.90L405.50,762.50" stroke="#444" stroke-width="0.8" fill="none"/>
<circle cx="414.84" cy="765.70" r="4.40" fill="#fff" stroke="#333" stroke-width="1.0"/>
<path d="M411.24,768.20L417.14,762.00M412.54,769.40L418.44,763.20M411.84,768.90L417.84,762.50" stroke="#444" stroke-width="0.8" fill="none"/>
<circle cx="427.18" cy="765.70" r="4.40" fill="#fff" stroke="#333" stroke-width="1.0"/>
<path d="M423.58,768.20L429.48,762.00M424.88,769.40L430.78,763.20M424.18,768.90L430.18,762.50" stroke="#444" stroke-width="0.8" fill="none"/>
<circle cx="439.52" cy="765.70" r="4.40" fill="#fff" stroke="#333" stroke-width="1.0"/>
<path d="M435.92,768.20L441.82,762.00M437.22,769.40L443.12,763.20M436.52,768.90L442.52,762.50" stroke="#444" stroke-width="0.8" fill="none"/>
<circle cx="451.86" cy="765.70" r="4.40" fill="#fff" stroke="#333" stroke-width="1.0"/>
<path d="M448.26,768.20L454.16,762.00M449.56,769.40L455.46,763.20M448.86,768.90L454.86,762.50" stroke="#444" stroke-width="0.8" fill="none"/>
<circle cx="464.20" cy="765.70" r="4.40" fill="#fff" stroke="#333" stroke-width="1.0"/>
<path d="M460.60,768.20L466.50,762.00M461.90,769.40L467.80,763.20M461.20,768.90L467.20,762.50" stroke="#444" stroke-width="0.8" fill="none"/>
<circle cx="476.54" cy="765.70" r="4.40" fill="#fff" stroke="#333" stroke-width="1.0"/>
<path d="M472.94,768.20L478.84,762.00M474.24,769.40L480.14,763.20M473.54,768.90L479.54,762.50" stroke="#444" stroke-width="0.8" fill="none"/>
<circle cx="488.88" cy="765.70" r="4.40" fill="#fff" stroke="#333" stroke-width="1.0"/>
<path d="M485.28,768.20L491.18,762.00M486.58,769.40L492.48,763.20M485.88,768.90L491.88,762.50" stroke="#444" stroke-width="0.8" fill="none"/>
<circle cx="501.22" cy="765.70" r="4.40" fill="#fff" stroke="#333" stroke-width="1.0"/>
<path d="M497.62,768.20L503.52,762.00M498.92,769.40L504.82,763.20M498.22,768.90L504.22,762.50" stroke="#444" stroke-width="0.8" fill="none"/>
<line x1="433.50" y1="755.00" x2="433.50" y2="776.00" stroke="#222" stroke-width="1.1" />
<text x="469.60" y="734.40" font-size="5.6" font-weight="normal" font-style="normal" fill="#888" text-anchor="start" textLength="23.20" lengthAdjust="spacingAndGlyphs" >BT-346993</text>
<text x="385.60" y="666.60" font-size="12.6" font-weight="bold" font-style="normal" fill="#151515" text-anchor="start" textLength="44.20" lengthAdjust="spacingAndGlyphs" >346993</text>
</g>
<g transform="translate(0.00,495.00)">
<rect x="386.50" y="677.20" width="130.40" height="101.30" fill="#fff" stroke="#3a3a3a" stroke-width="1.1" rx="0" />
<path d="M398.7,677.2V727.4H386.5" fill="none" stroke="#3a3a3a" stroke-width="1.1" />
<path d="M505,677.2V727.4H516.9" fill="none" stroke="#3a3a3a" stroke-width="1.1" />
<text x="403.30" y="692.90" font-size="7.6" font-weight="bold" font-style="normal" fill="#222" text-anchor="start" textLength="9.60" lengthAdjust="spacingAndGlyphs" >C€</text>
<path d="M422.3,686.3H444.9V698.5H440L438.8,701.2H428.4L427.2,698.5H422.3Z" fill="none" stroke="#555" stroke-width="0.9" />
<path d="M422.3,720.4H444.9V708.2H440L438.8,705.5H428.4L427.2,708.2H422.3Z" fill="none" stroke="#555" stroke-width="0.9" />
<text x="433.60" y="696.20" font-size="8.6" font-weight="normal" font-style="normal" fill="#333" text-anchor="middle" textLength="5.80" lengthAdjust="spacingAndGlyphs" >IN</text>
<text x="433.60" y="718.20" font-size="8.6" font-weight="normal" font-style="normal" fill="#333" text-anchor="middle" textLength="11.40" lengthAdjust="spacingAndGlyphs" >OUT</text>
<text x="402.20" y="733.60" font-size="8.8" font-weight="bold" font-style="normal" fill="#111" text-anchor="start" textLength="34.40" lengthAdjust="spacingAndGlyphs" stroke="#111" stroke-width="0.9">bticino</text>
<circle cx="396.00" cy="734.30" r="2.30" fill="none" stroke="#3a3a3a" stroke-width="1.0"/>
<circle cx="507.50" cy="734.30" r="2.30" fill="none" stroke="#3a3a3a" stroke-width="1.0"/>
<text x="401.70" y="744.00" font-size="6.2" font-weight="normal" font-style="normal" fill="#777" text-anchor="middle" >C</text>
<text x="414.50" y="744.00" font-size="6.2" font-weight="normal" font-style="normal" fill="#777" text-anchor="middle" >8</text>
<text x="427.00" y="744.00" font-size="6.2" font-weight="normal" font-style="normal" fill="#777" text-anchor="middle" >7</text>
<text x="439.20" y="744.00" font-size="6.2" font-weight="normal" font-style="normal" fill="#777" text-anchor="middle" >6</text>
<text x="452.00" y="744.00" font-size="6.2" font-weight="normal" font-style="normal" fill="#777" text-anchor="middle" >5</text>
<text x="464.60" y="744.00" font-size="6.2" font-weight="normal" font-style="normal" fill="#777" text-anchor="middle" >4</text>
<text x="477.20" y="744.00" font-size="6.2" font-weight="normal" font-style="normal" fill="#777" text-anchor="middle" >3</text>
<text x="489.70" y="744.00" font-size="6.2" font-weight="normal" font-style="normal" fill="#777" text-anchor="middle" >2</text>
<text x="501.00" y="744.00" font-size="6.2" font-weight="normal" font-style="normal" fill="#777" text-anchor="middle" >1</text>
<rect x="389.40" y="745.50" width="124.80" height="30.50" fill="none" stroke="#3a3a3a" stroke-width="1.0" rx="0" />
<line x1="389.40" y1="746.00" x2="514.20" y2="746.00" stroke="#222" stroke-width="1.4" />
<path d="M392,746V773.6H394.4M394.4,746V773.6" fill="none" stroke="#3a3a3a" stroke-width="0.9" />
<path d="M511.6,746V773.6M509.6,746V776" fill="none" stroke="#3a3a3a" stroke-width="0.9" />
<rect x="512.00" y="747.50" width="2.00" height="16.50" fill="#aaa" stroke="none" stroke-width="0.0" rx="0" />
<rect x="389.90" y="748.00" width="1.70" height="16.00" fill="#bbb" stroke="none" stroke-width="0.0" rx="0" />
<line x1="392.00" y1="774.70" x2="512.00" y2="774.70" stroke="#2a2a2a" stroke-width="1.5" />
<rect x="395.80" y="746.80" width="11.70" height="4.00" fill="#fff" stroke="#222" stroke-width="1.0" rx="0" />
<rect x="409.54" y="747.60" width="10.60" height="6.80" fill="#fff" stroke="#333" stroke-width="1.15" rx="0" />
<rect x="421.88" y="747.60" width="10.60" height="6.80" fill="#fff" stroke="#333" stroke-width="1.15" rx="0" />
<rect x="434.22" y="747.60" width="10.60" height="6.80" fill="#fff" stroke="#333" stroke-width="1.15" rx="0" />
<rect x="446.56" y="747.60" width="10.60" height="6.80" fill="#fff" stroke="#333" stroke-width="1.15" rx="0" />
<rect x="458.90" y="747.60" width="10.60" height="6.80" fill="#fff" stroke="#333" stroke-width="1.15" rx="0" />
<rect x="471.24" y="747.60" width="10.60" height="6.80" fill="#fff" stroke="#333" stroke-width="1.15" rx="0" />
<rect x="483.58" y="747.60" width="10.60" height="6.80" fill="#fff" stroke="#333" stroke-width="1.15" rx="0" />
<rect x="495.92" y="747.60" width="10.60" height="6.80" fill="#fff" stroke="#333" stroke-width="1.15" rx="0" />
<rect x="396.30" y="755.00" width="111.50" height="18.70" fill="#fff" stroke="#3a3a3a" stroke-width="1.0" rx="0" />
<rect x="396.80" y="771.30" width="110.50" height="2.00" fill="#a8a8a8" stroke="none" stroke-width="0.0" rx="0" />
<line x1="396.30" y1="757.70" x2="507.80" y2="757.70" stroke="#555" stroke-width="0.8" />
<circle cx="402.50" cy="765.70" r="4.40" fill="#fff" stroke="#333" stroke-width="1.0"/>
<path d="M398.90,768.20L404.80,762.00M400.20,769.40L406.10,763.20M399.50,768.90L405.50,762.50" stroke="#444" stroke-width="0.8" fill="none"/>
<circle cx="414.84" cy="765.70" r="4.40" fill="#fff" stroke="#333" stroke-width="1.0"/>
<path d="M411.24,768.20L417.14,762.00M412.54,769.40L418.44,763.20M411.84,768.90L417.84,762.50" stroke="#444" stroke-width="0.8" fill="none"/>
<circle cx="427.18" cy="765.70" r="4.40" fill="#fff" stroke="#333" stroke-width="1.0"/>
<path d="M423.58,768.20L429.48,762.00M424.88,769.40L430.78,763.20M424.18,768.90L430.18,762.50" stroke="#444" stroke-width="0.8" fill="none"/>
<circle cx="439.52" cy="765.70" r="4.40" fill="#fff" stroke="#333" stroke-width="1.0"/>
<path d="M435.92,768.20L441.82,762.00M437.22,769.40L443.12,763.20M436.52,768.90L442.52,762.50" stroke="#444" stroke-width="0.8" fill="none"/>
<circle cx="451.86" cy="765.70" r="4.40" fill="#fff" stroke="#333" stroke-width="1.0"/>
<path d="M448.26,768.20L454.16,762.00M449.56,769.40L455.46,763.20M448.86,768.90L454.86,762.50" stroke="#444" stroke-width="0.8" fill="none"/>
<circle cx="464.20" cy="765.70" r="4.40" fill="#fff" stroke="#333" stroke-width="1.0"/>
<path d="M460.60,768.20L466.50,762.00M461.90,769.40L467.80,763.20M461.20,768.90L467.20,762.50" stroke="#444" stroke-width="0.8" fill="none"/>
<circle cx="476.54" cy="765.70" r="4.40" fill="#fff" stroke="#333" stroke-width="1.0"/>
<path d="M472.94,768.20L478.84,762.00M474.24,769.40L480.14,763.20M473.54,768.90L479.54,762.50" stroke="#444" stroke-width="0.8" fill="none"/>
<circle cx="488.88" cy="765.70" r="4.40" fill="#fff" stroke="#333" stroke-width="1.0"/>
<path d="M485.28,768.20L491.18,762.00M486.58,769.40L492.48,763.20M485.88,768.90L491.88,762.50" stroke="#444" stroke-width="0.8" fill="none"/>
<circle cx="501.22" cy="765.70" r="4.40" fill="#fff" stroke="#333" stroke-width="1.0"/>
<path d="M497.62,768.20L503.52,762.00M498.92,769.40L504.82,763.20M498.22,768.90L504.22,762.50" stroke="#444" stroke-width="0.8" fill="none"/>
<line x1="433.50" y1="755.00" x2="433.50" y2="776.00" stroke="#222" stroke-width="1.1" />
<line x1="470.40" y1="755.00" x2="470.40" y2="776.00" stroke="#222" stroke-width="1.1" />
<text x="385.60" y="666.60" font-size="12.6" font-weight="bold" font-style="normal" fill="#151515" text-anchor="start" textLength="44.20" lengthAdjust="spacingAndGlyphs" >346993</text>
</g>
<rect x="469.20" y="591.00" width="23.20" height="96.00" fill="#fff" stroke="none" stroke-width="0.0" rx="0" />
<line x1="471.90" y1="591.00" x2="471.90" y2="687.00" stroke="#b4b4b4" stroke-width="1.5" />
<line x1="474.90" y1="591.00" x2="474.90" y2="687.00" stroke="#b4b4b4" stroke-width="1.5" />
<line x1="477.90" y1="591.00" x2="477.90" y2="687.00" stroke="#b4b4b4" stroke-width="1.5" />
<line x1="481.00" y1="591.00" x2="481.00" y2="687.00" stroke="#b4b4b4" stroke-width="1.5" />
<line x1="484.10" y1="591.00" x2="484.10" y2="687.00" stroke="#b4b4b4" stroke-width="1.5" />
<line x1="487.10" y1="591.00" x2="487.10" y2="687.00" stroke="#b4b4b4" stroke-width="1.5" />
<line x1="490.40" y1="591.00" x2="490.40" y2="687.00" stroke="#c8c8c8" stroke-width="2.0" />
<line x1="469.50" y1="591.00" x2="469.50" y2="687.00" stroke="#4a4a4a" stroke-width="1.1" />
<line x1="492.30" y1="591.00" x2="492.30" y2="687.00" stroke="#555" stroke-width="1.1" />
<rect x="469.20" y="719.50" width="23.20" height="214.80" fill="#fff" stroke="none" stroke-width="0.0" rx="0" fill-opacity="0.66"/>
<line x1="471.90" y1="719.50" x2="471.90" y2="934.30" stroke="#b4b4b4" stroke-width="1.5" />
<line x1="474.90" y1="719.50" x2="474.90" y2="934.30" stroke="#b4b4b4" stroke-width="1.5" />
<line x1="477.90" y1="719.50" x2="477.90" y2="934.30" stroke="#b4b4b4" stroke-width="1.5" />
<line x1="481.00" y1="719.50" x2="481.00" y2="934.30" stroke="#b4b4b4" stroke-width="1.5" />
<line x1="484.10" y1="719.50" x2="484.10" y2="934.30" stroke="#b4b4b4" stroke-width="1.5" />
<line x1="487.10" y1="719.50" x2="487.10" y2="934.30" stroke="#b4b4b4" stroke-width="1.5" />
<line x1="490.40" y1="719.50" x2="490.40" y2="934.30" stroke="#c8c8c8" stroke-width="2.0" />
<line x1="469.50" y1="719.50" x2="469.50" y2="934.30" stroke="#4a4a4a" stroke-width="1.1" />
<line x1="492.30" y1="719.50" x2="492.30" y2="934.30" stroke="#555" stroke-width="1.1" />
<rect x="469.20" y="966.80" width="23.20" height="145.50" fill="#fff" stroke="none" stroke-width="0.0" rx="0" fill-opacity="0.66"/>
<line x1="471.90" y1="966.80" x2="471.90" y2="1112.30" stroke="#b4b4b4" stroke-width="1.5" />
<line x1="474.90" y1="966.80" x2="474.90" y2="1112.30" stroke="#b4b4b4" stroke-width="1.5" />
<line x1="477.90" y1="966.80" x2="477.90" y2="1112.30" stroke="#b4b4b4" stroke-width="1.5" />
<line x1="481.00" y1="966.80" x2="481.00" y2="1112.30" stroke="#b4b4b4" stroke-width="1.5" />
<line x1="484.10" y1="966.80" x2="484.10" y2="1112.30" stroke="#b4b4b4" stroke-width="1.5" />
<line x1="487.10" y1="966.80" x2="487.10" y2="1112.30" stroke="#b4b4b4" stroke-width="1.5" />
<line x1="490.40" y1="966.80" x2="490.40" y2="1112.30" stroke="#c8c8c8" stroke-width="2.0" />
<line x1="469.50" y1="966.80" x2="469.50" y2="1112.30" stroke="#4a4a4a" stroke-width="1.1" />
<line x1="492.30" y1="966.80" x2="492.30" y2="1112.30" stroke="#555" stroke-width="1.1" />
<line x1="469.50" y1="1116.40" x2="469.50" y2="1149.00" stroke="#3a3a3a" stroke-width="1.1" stroke-dasharray="3.3 3.9"/>
<line x1="471.90" y1="1116.40" x2="471.90" y2="1149.00" stroke="#a6a6a6" stroke-width="1.5" stroke-dasharray="3.3 3.9"/>
<line x1="474.90" y1="1116.40" x2="474.90" y2="1149.00" stroke="#a6a6a6" stroke-width="1.5" stroke-dasharray="3.3 3.9"/>
<line x1="477.90" y1="1116.40" x2="477.90" y2="1149.00" stroke="#a6a6a6" stroke-width="1.5" stroke-dasharray="3.3 3.9"/>
<line x1="481.00" y1="1116.40" x2="481.00" y2="1149.00" stroke="#a6a6a6" stroke-width="1.5" stroke-dasharray="3.3 3.9"/>
<line x1="484.10" y1="1116.40" x2="484.10" y2="1149.00" stroke="#a6a6a6" stroke-width="1.5" stroke-dasharray="3.3 3.9"/>
<line x1="487.10" y1="1116.40" x2="487.10" y2="1149.00" stroke="#a6a6a6" stroke-width="1.5" stroke-dasharray="3.3 3.9"/>
<line x1="490.40" y1="1116.40" x2="490.40" y2="1149.00" stroke="#c2c2c2" stroke-width="2.0" stroke-dasharray="3.3 3.9"/>
<line x1="492.30" y1="1116.40" x2="492.30" y2="1149.00" stroke="#444" stroke-width="1.1" stroke-dasharray="3.3 3.9"/>
<rect x="469.20" y="1152.40" width="23.20" height="29.60" fill="#fff" stroke="none" stroke-width="0.0" rx="0" />
<line x1="471.90" y1="1152.40" x2="471.90" y2="1182.00" stroke="#b4b4b4" stroke-width="1.5" />
<line x1="474.90" y1="1152.40" x2="474.90" y2="1182.00" stroke="#b4b4b4" stroke-width="1.5" />
<line x1="477.90" y1="1152.40" x2="477.90" y2="1182.00" stroke="#b4b4b4" stroke-width="1.5" />
<line x1="481.00" y1="1152.40" x2="481.00" y2="1182.00" stroke="#b4b4b4" stroke-width="1.5" />
<line x1="484.10" y1="1152.40" x2="484.10" y2="1182.00" stroke="#b4b4b4" stroke-width="1.5" />
<line x1="487.10" y1="1152.40" x2="487.10" y2="1182.00" stroke="#b4b4b4" stroke-width="1.5" />
<line x1="490.40" y1="1152.40" x2="490.40" y2="1182.00" stroke="#c8c8c8" stroke-width="2.0" />
<line x1="469.50" y1="1152.40" x2="469.50" y2="1182.00" stroke="#4a4a4a" stroke-width="1.1" />
<line x1="492.30" y1="1152.40" x2="492.30" y2="1182.00" stroke="#555" stroke-width="1.1" />
<g transform="translate(0.00,0.00)">
<rect x="465.30" y="680.00" width="32.20" height="46.70" fill="none" stroke="#666" stroke-width="0.8" rx="4.2" />
<path d="M467.4,695.90V699.40Q467.4,700.60 468.8,700.60H493Q494.4,700.60 494.4,699.40V695.90Z" fill="#fff" stroke="#555" stroke-width="0.9" />
<path d="M477.4,695.90V697.60Q477.4,698.30 478.3,698.30H484Q484.9,698.30 484.9,697.60V695.90" fill="#ddd" stroke="#555" stroke-width="0.8" />
<rect x="466.00" y="686.60" width="29.10" height="9.30" fill="#fff" stroke="#555" stroke-width="0.9" rx="0.8" />
<rect x="468.30" y="690.30" width="24.70" height="2.30" fill="#e4e4e4" stroke="#777" stroke-width="0.7" rx="1" />
<path d="M467.4,710.60V707.60Q467.4,706.40 468.8,706.40H493Q494.4,706.40 494.4,707.60V710.60Z" fill="#fff" stroke="#555" stroke-width="0.9" />
<path d="M477.4,710.60V709.10Q477.4,708.20 478.3,708.20H484Q484.9,708.20 484.9,709.10V710.60" fill="#bbb" stroke="#333" stroke-width="0.9" />
<rect x="466.00" y="710.60" width="29.10" height="9.30" fill="#fff" stroke="#555" stroke-width="0.9" rx="0.8" />
<rect x="468.30" y="714.30" width="24.70" height="2.30" fill="#e4e4e4" stroke="#777" stroke-width="0.7" rx="1" />
</g>
<g transform="translate(0.00,247.30)">
<rect x="465.30" y="680.00" width="32.20" height="46.70" fill="none" stroke="#666" stroke-width="0.8" rx="4.2" />
<path d="M467.4,695.90V699.40Q467.4,700.60 468.8,700.60H493Q494.4,700.60 494.4,699.40V695.90Z" fill="#fff" stroke="#555" stroke-width="0.9" />
<path d="M477.4,695.90V697.60Q477.4,698.30 478.3,698.30H484Q484.9,698.30 484.9,697.60V695.90" fill="#ddd" stroke="#555" stroke-width="0.8" />
<rect x="466.00" y="686.60" width="29.10" height="9.30" fill="#fff" stroke="#555" stroke-width="0.9" rx="0.8" />
<rect x="468.30" y="690.30" width="24.70" height="2.30" fill="#e4e4e4" stroke="#777" stroke-width="0.7" rx="1" />
<path d="M467.4,710.60V707.60Q467.4,706.40 468.8,706.40H493Q494.4,706.40 494.4,707.60V710.60Z" fill="#fff" stroke="#555" stroke-width="0.9" />
<path d="M477.4,710.60V709.10Q477.4,708.20 478.3,708.20H484Q484.9,708.20 484.9,709.10V710.60" fill="#bbb" stroke="#333" stroke-width="0.9" />
<rect x="466.00" y="710.60" width="29.10" height="9.30" fill="#fff" stroke="#555" stroke-width="0.9" rx="0.8" />
<rect x="468.30" y="714.30" width="24.70" height="2.30" fill="#e4e4e4" stroke="#777" stroke-width="0.7" rx="1" />
</g>
<g transform="translate(0.00,495.00)">
<rect x="465.30" y="680.00" width="32.20" height="46.70" fill="none" stroke="#666" stroke-width="0.8" rx="4.2" />
<path d="M467.4,695.90V699.40Q467.4,700.60 468.8,700.60H493Q494.4,700.60 494.4,699.40V695.90Z" fill="#fff" stroke="#555" stroke-width="0.9" />
<path d="M477.4,695.90V697.60Q477.4,698.30 478.3,698.30H484Q484.9,698.30 484.9,697.60V695.90" fill="#ddd" stroke="#555" stroke-width="0.8" />
<rect x="466.00" y="686.60" width="29.10" height="9.30" fill="#fff" stroke="#555" stroke-width="0.9" rx="0.8" />
<rect x="468.30" y="690.30" width="24.70" height="2.30" fill="#e4e4e4" stroke="#777" stroke-width="0.7" rx="1" />
<rect x="468.40" y="706.60" width="26.80" height="18.40" fill="#fff" stroke="#555" stroke-width="0.9" rx="2" />
<path d="M470.8,722.2V711.4H477.6L478.4,709.4H485L485.8,711.4H492.4V722.2Z" fill="#fff" stroke="#222" stroke-width="1.1" />
<line x1="474.60" y1="711.60" x2="474.60" y2="722.00" stroke="#333" stroke-width="0.8" />
<line x1="488.80" y1="711.60" x2="488.80" y2="722.00" stroke="#333" stroke-width="0.8" />
<line x1="490.20" y1="711.60" x2="490.20" y2="722.00" stroke="#777" stroke-width="0.6" />
<circle cx="477.80" cy="715.00" r="0.80" fill="#333" stroke="none" stroke-width="0.0"/>
<circle cx="477.80" cy="719.20" r="0.80" fill="#333" stroke="none" stroke-width="0.0"/>
<circle cx="481.60" cy="715.00" r="0.80" fill="#333" stroke="none" stroke-width="0.0"/>
<circle cx="481.60" cy="719.20" r="0.80" fill="#333" stroke="none" stroke-width="0.0"/>
<circle cx="485.40" cy="715.00" r="0.80" fill="#333" stroke="none" stroke-width="0.0"/>
<circle cx="485.40" cy="719.20" r="0.80" fill="#333" stroke="none" stroke-width="0.0"/>
<text x="469.60" y="734.40" font-size="5.6" font-weight="normal" font-style="normal" fill="#777" text-anchor="start" textLength="23.20" lengthAdjust="spacingAndGlyphs" >BT-346993</text>
</g>
<g transform="translate(0.00,0.00)">
<path d="M401.7,773.8V788.3H346.3V844.4H583.5" fill="none" stroke="#303030" stroke-width="1.2" />
<path d="M414.5,773.8V799.5H364.4V825.4" fill="none" stroke="#303030" stroke-width="1.2" />
<path d="M427.3,773.8V810.8H390.4V825.4" fill="none" stroke="#303030" stroke-width="1.2" />
<path d="M440.4,773.8V821.5H416.9V825.4" fill="none" stroke="#303030" stroke-width="1.2" />
<path d="M451.5,773.8V825.4" fill="none" stroke="#303030" stroke-width="1.2" />
<path d="M463.7,773.8V821.5H504.1V825.4" fill="none" stroke="#303030" stroke-width="1.2" />
<path d="M476.8,773.8V810.8H530.9V825.4" fill="none" stroke="#303030" stroke-width="1.2" />
<path d="M489.3,773.8V799.5H557V825.4" fill="none" stroke="#303030" stroke-width="1.2" />
<path d="M501.1,773.8V788.3H583.5V825.4" fill="none" stroke="#303030" stroke-width="1.2" />
<circle cx="364.40" cy="826.60" r="1.25" fill="#fff" stroke="#303030" stroke-width="0.9"/>
<circle cx="364.40" cy="832.40" r="1.25" fill="#fff" stroke="#303030" stroke-width="0.9"/>
<line x1="364.40" y1="833.70" x2="364.40" y2="844.40" stroke="#303030" stroke-width="1.2" />
<circle cx="364.40" cy="844.40" r="1.35" fill="#111" stroke="none" stroke-width="0.0"/>
<path d="M367.40,829.5H371.60M367.40,826V833.2M371.60,827.5V831.7" fill="none" stroke="#303030" stroke-width="0.9" />
<text x="367.70" y="839.90" font-size="8.1" font-weight="normal" font-style="normal" fill="#262626" text-anchor="start" >P96</text>
<circle cx="390.40" cy="826.60" r="1.25" fill="#fff" stroke="#303030" stroke-width="0.9"/>
<circle cx="390.40" cy="832.40" r="1.25" fill="#fff" stroke="#303030" stroke-width="0.9"/>
<line x1="390.40" y1="833.70" x2="390.40" y2="844.40" stroke="#303030" stroke-width="1.2" />
<circle cx="390.40" cy="844.40" r="1.35" fill="#111" stroke="none" stroke-width="0.0"/>
<path d="M393.40,829.5H397.60M393.40,826V833.2M397.60,827.5V831.7" fill="none" stroke="#303030" stroke-width="0.9" />
<text x="393.70" y="839.90" font-size="8.1" font-weight="normal" font-style="normal" fill="#262626" text-anchor="start" >P95</text>
<circle cx="416.90" cy="826.60" r="1.25" fill="#fff" stroke="#303030" stroke-width="0.9"/>
<circle cx="416.90" cy="832.40" r="1.25" fill="#fff" stroke="#303030" stroke-width="0.9"/>
<line x1="416.90" y1="833.70" x2="416.90" y2="844.40" stroke="#303030" stroke-width="1.2" />
<circle cx="416.90" cy="844.40" r="1.35" fill="#111" stroke="none" stroke-width="0.0"/>
<path d="M419.90,829.5H424.10M419.90,826V833.2M424.10,827.5V831.7" fill="none" stroke="#303030" stroke-width="0.9" />
<text x="420.20" y="839.90" font-size="8.1" font-weight="normal" font-style="normal" fill="#262626" text-anchor="start" >P94</text>
<circle cx="451.50" cy="826.60" r="1.25" fill="#fff" stroke="#303030" stroke-width="0.9"/>
<circle cx="451.50" cy="832.40" r="1.25" fill="#fff" stroke="#303030" stroke-width="0.9"/>
<line x1="451.50" y1="833.70" x2="451.50" y2="844.40" stroke="#303030" stroke-width="1.2" />
<circle cx="451.50" cy="844.40" r="1.35" fill="#111" stroke="none" stroke-width="0.0"/>
<path d="M454.50,829.5H458.70M454.50,826V833.2M458.70,827.5V831.7" fill="none" stroke="#303030" stroke-width="0.9" />
<text x="454.80" y="839.90" font-size="8.1" font-weight="normal" font-style="normal" fill="#262626" text-anchor="start" >P93</text>
<circle cx="504.10" cy="826.60" r="1.25" fill="#fff" stroke="#303030" stroke-width="0.9"/>
<circle cx="504.10" cy="832.40" r="1.25" fill="#fff" stroke="#303030" stroke-width="0.9"/>
<line x1="504.10" y1="833.70" x2="504.10" y2="844.40" stroke="#303030" stroke-width="1.2" />
<circle cx="504.10" cy="844.40" r="1.35" fill="#111" stroke="none" stroke-width="0.0"/>
<path d="M507.10,829.5H511.30M507.10,826V833.2M511.30,827.5V831.7" fill="none" stroke="#303030" stroke-width="0.9" />
<text x="507.40" y="839.90" font-size="8.1" font-weight="normal" font-style="normal" fill="#262626" text-anchor="start" >P92</text>
<circle cx="530.90" cy="826.60" r="1.25" fill="#fff" stroke="#303030" stroke-width="0.9"/>
<circle cx="530.90" cy="832.40" r="1.25" fill="#fff" stroke="#303030" stroke-width="0.9"/>
<line x1="530.90" y1="833.70" x2="530.90" y2="844.40" stroke="#303030" stroke-width="1.2" />
<circle cx="530.90" cy="844.40" r="1.35" fill="#111" stroke="none" stroke-width="0.0"/>
<path d="M533.90,829.5H538.10M533.90,826V833.2M538.10,827.5V831.7" fill="none" stroke="#303030" stroke-width="0.9" />
<text x="534.20" y="839.90" font-size="8.1" font-weight="normal" font-style="normal" fill="#262626" text-anchor="start" >P91</text>
<circle cx="557.00" cy="826.60" r="1.25" fill="#fff" stroke="#303030" stroke-width="0.9"/>
<circle cx="557.00" cy="832.40" r="1.25" fill="#fff" stroke="#303030" stroke-width="0.9"/>
<line x1="557.00" y1="833.70" x2="557.00" y2="844.40" stroke="#303030" stroke-width="1.2" />
<circle cx="557.00" cy="844.40" r="1.35" fill="#111" stroke="none" stroke-width="0.0"/>
<path d="M560.00,829.5H564.20M560.00,826V833.2M564.20,827.5V831.7" fill="none" stroke="#303030" stroke-width="0.9" />
<text x="560.30" y="839.90" font-size="8.1" font-weight="normal" font-style="normal" fill="#262626" text-anchor="start" >P90</text>
<circle cx="583.50" cy="826.60" r="1.25" fill="#fff" stroke="#303030" stroke-width="0.9"/>
<circle cx="583.50" cy="832.40" r="1.25" fill="#fff" stroke="#303030" stroke-width="0.9"/>
<line x1="583.50" y1="833.70" x2="583.50" y2="844.40" stroke="#303030" stroke-width="1.2" />
<circle cx="583.50" cy="844.40" r="1.35" fill="#111" stroke="none" stroke-width="0.0"/>
<path d="M586.50,829.5H590.70M586.50,826V833.2M590.70,827.5V831.7" fill="none" stroke="#303030" stroke-width="0.9" />
<text x="586.80" y="839.90" font-size="8.1" font-weight="normal" font-style="normal" fill="#262626" text-anchor="start" >P89</text>
</g>
<g transform="translate(0.00,247.30)">
<path d="M401.7,773.8V788.3H346.3V844.4H583.5" fill="none" stroke="#303030" stroke-width="1.2" />
<path d="M414.5,773.8V799.5H364.4V825.4" fill="none" stroke="#303030" stroke-width="1.2" />
<path d="M427.3,773.8V810.8H390.4V825.4" fill="none" stroke="#303030" stroke-width="1.2" />
<path d="M440.4,773.8V821.5H416.9V825.4" fill="none" stroke="#303030" stroke-width="1.2" />
<path d="M451.5,773.8V825.4" fill="none" stroke="#303030" stroke-width="1.2" />
<path d="M463.7,773.8V821.5H504.1V825.4" fill="none" stroke="#303030" stroke-width="1.2" />
<path d="M476.8,773.8V810.8H530.9V825.4" fill="none" stroke="#303030" stroke-width="1.2" />
<path d="M489.3,773.8V799.5H557V825.4" fill="none" stroke="#303030" stroke-width="1.2" />
<path d="M501.1,773.8V788.3H583.5V825.4" fill="none" stroke="#303030" stroke-width="1.2" />
<circle cx="364.40" cy="826.60" r="1.25" fill="#fff" stroke="#303030" stroke-width="0.9"/>
<circle cx="364.40" cy="832.40" r="1.25" fill="#fff" stroke="#303030" stroke-width="0.9"/>
<line x1="364.40" y1="833.70" x2="364.40" y2="844.40" stroke="#303030" stroke-width="1.2" />
<circle cx="364.40" cy="844.40" r="1.35" fill="#111" stroke="none" stroke-width="0.0"/>
<path d="M367.40,829.5H371.60M367.40,826V833.2M371.60,827.5V831.7" fill="none" stroke="#303030" stroke-width="0.9" />
<text x="367.70" y="839.90" font-size="8.1" font-weight="normal" font-style="normal" fill="#262626" text-anchor="start" >P88</text>
<circle cx="390.40" cy="826.60" r="1.25" fill="#fff" stroke="#303030" stroke-width="0.9"/>
<circle cx="390.40" cy="832.40" r="1.25" fill="#fff" stroke="#303030" stroke-width="0.9"/>
<line x1="390.40" y1="833.70" x2="390.40" y2="844.40" stroke="#303030" stroke-width="1.2" />
<circle cx="390.40" cy="844.40" r="1.35" fill="#111" stroke="none" stroke-width="0.0"/>
<path d="M393.40,829.5H397.60M393.40,826V833.2M397.60,827.5V831.7" fill="none" stroke="#303030" stroke-width="0.9" />
<text x="393.70" y="839.90" font-size="8.1" font-weight="normal" font-style="normal" fill="#262626" text-anchor="start" >P87</text>
<circle cx="416.90" cy="826.60" r="1.25" fill="#fff" stroke="#303030" stroke-width="0.9"/>
<circle cx="416.90" cy="832.40" r="1.25" fill="#fff" stroke="#303030" stroke-width="0.9"/>
<line x1="416.90" y1="833.70" x2="416.90" y2="844.40" stroke="#303030" stroke-width="1.2" />
<circle cx="416.90" cy="844.40" r="1.35" fill="#111" stroke="none" stroke-width="0.0"/>
<path d="M419.90,829.5H424.10M419.90,826V833.2M424.10,827.5V831.7" fill="none" stroke="#303030" stroke-width="0.9" />
<text x="420.20" y="839.90" font-size="8.1" font-weight="normal" font-style="normal" fill="#262626" text-anchor="start" >P86</text>
<circle cx="451.50" cy="826.60" r="1.25" fill="#fff" stroke="#303030" stroke-width="0.9"/>
<circle cx="451.50" cy="832.40" r="1.25" fill="#fff" stroke="#303030" stroke-width="0.9"/>
<line x1="451.50" y1="833.70" x2="451.50" y2="844.40" stroke="#303030" stroke-width="1.2" />
<circle cx="451.50" cy="844.40" r="1.35" fill="#111" stroke="none" stroke-width="0.0"/>
<path d="M454.50,829.5H458.70M454.50,826V833.2M458.70,827.5V831.7" fill="none" stroke="#303030" stroke-width="0.9" />
<text x="454.80" y="839.90" font-size="8.1" font-weight="normal" font-style="normal" fill="#262626" text-anchor="start" >P85</text>
<circle cx="504.10" cy="826.60" r="1.25" fill="#fff" stroke="#303030" stroke-width="0.9"/>
<circle cx="504.10" cy="832.40" r="1.25" fill="#fff" stroke="#303030" stroke-width="0.9"/>
<line x1="504.10" y1="833.70" x2="504.10" y2="844.40" stroke="#303030" stroke-width="1.2" />
<circle cx="504.10" cy="844.40" r="1.35" fill="#111" stroke="none" stroke-width="0.0"/>
<path d="M507.10,829.5H511.30M507.10,826V833.2M511.30,827.5V831.7" fill="none" stroke="#303030" stroke-width="0.9" />
<text x="507.40" y="839.90" font-size="8.1" font-weight="normal" font-style="normal" fill="#262626" text-anchor="start" >P84</text>
<circle cx="530.90" cy="826.60" r="1.25" fill="#fff" stroke="#303030" stroke-width="0.9"/>
<circle cx="530.90" cy="832.40" r="1.25" fill="#fff" stroke="#303030" stroke-width="0.9"/>
<line x1="530.90" y1="833.70" x2="530.90" y2="844.40" stroke="#303030" stroke-width="1.2" />
<circle cx="530.90" cy="844.40" r="1.35" fill="#111" stroke="none" stroke-width="0.0"/>
<path d="M533.90,829.5H538.10M533.90,826V833.2M538.10,827.5V831.7" fill="none" stroke="#303030" stroke-width="0.9" />
<text x="534.20" y="839.90" font-size="8.1" font-weight="normal" font-style="normal" fill="#262626" text-anchor="start" >P83</text>
<circle cx="557.00" cy="826.60" r="1.25" fill="#fff" stroke="#303030" stroke-width="0.9"/>
<circle cx="557.00" cy="832.40" r="1.25" fill="#fff" stroke="#303030" stroke-width="0.9"/>
<line x1="557.00" y1="833.70" x2="557.00" y2="844.40" stroke="#303030" stroke-width="1.2" />
<circle cx="557.00" cy="844.40" r="1.35" fill="#111" stroke="none" stroke-width="0.0"/>
<path d="M560.00,829.5H564.20M560.00,826V833.2M564.20,827.5V831.7" fill="none" stroke="#303030" stroke-width="0.9" />
<text x="560.30" y="839.90" font-size="8.1" font-weight="normal" font-style="normal" fill="#262626" text-anchor="start" >P82</text>
<circle cx="583.50" cy="826.60" r="1.25" fill="#fff" stroke="#303030" stroke-width="0.9"/>
<circle cx="583.50" cy="832.40" r="1.25" fill="#fff" stroke="#303030" stroke-width="0.9"/>
<line x1="583.50" y1="833.70" x2="583.50" y2="844.40" stroke="#303030" stroke-width="1.2" />
<circle cx="583.50" cy="844.40" r="1.35" fill="#111" stroke="none" stroke-width="0.0"/>
<path d="M586.50,829.5H590.70M586.50,826V833.2M590.70,827.5V831.7" fill="none" stroke="#303030" stroke-width="0.9" />
<text x="586.80" y="839.90" font-size="8.1" font-weight="normal" font-style="normal" fill="#262626" text-anchor="start" >P81</text>
</g>
<g transform="translate(0.00,495.00)">
<path d="M401.7,773.8V788.3H346.3V844.4H583.5" fill="none" stroke="#303030" stroke-width="1.2" />
<path d="M414.5,773.8V799.5H364.4V825.4" fill="none" stroke="#303030" stroke-width="1.2" />
<path d="M427.3,773.8V810.8H390.4V825.4" fill="none" stroke="#303030" stroke-width="1.2" />
<path d="M440.4,773.8V821.5H416.9V825.4" fill="none" stroke="#303030" stroke-width="1.2" />
<path d="M451.5,773.8V825.4" fill="none" stroke="#303030" stroke-width="1.2" />
<path d="M463.7,773.8V821.5H504.1V825.4" fill="none" stroke="#303030" stroke-width="1.2" />
<path d="M476.8,773.8V810.8H530.9V825.4" fill="none" stroke="#303030" stroke-width="1.2" />
<path d="M489.3,773.8V799.5H557V825.4" fill="none" stroke="#303030" stroke-width="1.2" />
<path d="M501.1,773.8V788.3H583.5V825.4" fill="none" stroke="#303030" stroke-width="1.2" />
<circle cx="364.40" cy="826.60" r="1.25" fill="#fff" stroke="#303030" stroke-width="0.9"/>
<circle cx="364.40" cy="832.40" r="1.25" fill="#fff" stroke="#303030" stroke-width="0.9"/>
<line x1="364.40" y1="833.70" x2="364.40" y2="844.40" stroke="#303030" stroke-width="1.2" />
<circle cx="364.40" cy="844.40" r="1.35" fill="#111" stroke="none" stroke-width="0.0"/>
<path d="M367.40,829.5H371.60M367.40,826V833.2M371.60,827.5V831.7" fill="none" stroke="#303030" stroke-width="0.9" />
<text x="367.70" y="839.90" font-size="8.1" font-weight="normal" font-style="normal" fill="#262626" text-anchor="start" >P8</text>
<circle cx="390.40" cy="826.60" r="1.25" fill="#fff" stroke="#303030" stroke-width="0.9"/>
<circle cx="390.40" cy="832.40" r="1.25" fill="#fff" stroke="#303030" stroke-width="0.9"/>
<line x1="390.40" y1="833.70" x2="390.40" y2="844.40" stroke="#303030" stroke-width="1.2" />
<circle cx="390.40" cy="844.40" r="1.35" fill="#111" stroke="none" stroke-width="0.0"/>
<path d="M393.40,829.5H397.60M393.40,826V833.2M397.60,827.5V831.7" fill="none" stroke="#303030" stroke-width="0.9" />
<text x="393.70" y="839.90" font-size="8.1" font-weight="normal" font-style="normal" fill="#262626" text-anchor="start" >P7</text>
<circle cx="416.90" cy="826.60" r="1.25" fill="#fff" stroke="#303030" stroke-width="0.9"/>
<circle cx="416.90" cy="832.40" r="1.25" fill="#fff" stroke="#303030" stroke-width="0.9"/>
<line x1="416.90" y1="833.70" x2="416.90" y2="844.40" stroke="#303030" stroke-width="1.2" />
<circle cx="416.90" cy="844.40" r="1.35" fill="#111" stroke="none" stroke-width="0.0"/>
<path d="M419.90,829.5H424.10M419.90,826V833.2M424.10,827.5V831.7" fill="none" stroke="#303030" stroke-width="0.9" />
<text x="420.20" y="839.90" font-size="8.1" font-weight="normal" font-style="normal" fill="#262626" text-anchor="start" >P6</text>
<circle cx="451.50" cy="826.60" r="1.25" fill="#fff" stroke="#303030" stroke-width="0.9"/>
<circle cx="451.50" cy="832.40" r="1.25" fill="#fff" stroke="#303030" stroke-width="0.9"/>
<line x1="451.50" y1="833.70" x2="451.50" y2="844.40" stroke="#303030" stroke-width="1.2" />
<circle cx="451.50" cy="844.40" r="1.35" fill="#111" stroke="none" stroke-width="0.0"/>
<path d="M454.50,829.5H458.70M454.50,826V833.2M458.70,827.5V831.7" fill="none" stroke="#303030" stroke-width="0.9" />
<text x="454.80" y="839.90" font-size="8.1" font-weight="normal" font-style="normal" fill="#262626" text-anchor="start" >P5</text>
<circle cx="504.10" cy="826.60" r="1.25" fill="#fff" stroke="#303030" stroke-width="0.9"/>
<circle cx="504.10" cy="832.40" r="1.25" fill="#fff" stroke="#303030" stroke-width="0.9"/>
<line x1="504.10" y1="833.70" x2="504.10" y2="844.40" stroke="#303030" stroke-width="1.2" />
<circle cx="504.10" cy="844.40" r="1.35" fill="#111" stroke="none" stroke-width="0.0"/>
<path d="M507.10,829.5H511.30M507.10,826V833.2M511.30,827.5V831.7" fill="none" stroke="#303030" stroke-width="0.9" />
<text x="507.40" y="839.90" font-size="8.1" font-weight="normal" font-style="normal" fill="#262626" text-anchor="start" >P4</text>
<circle cx="530.90" cy="826.60" r="1.25" fill="#fff" stroke="#303030" stroke-width="0.9"/>
<circle cx="530.90" cy="832.40" r="1.25" fill="#fff" stroke="#303030" stroke-width="0.9"/>
<line x1="530.90" y1="833.70" x2="530.90" y2="844.40" stroke="#303030" stroke-width="1.2" />
<circle cx="530.90" cy="844.40" r="1.35" fill="#111" stroke="none" stroke-width="0.0"/>
<path d="M533.90,829.5H538.10M533.90,826V833.2M538.10,827.5V831.7" fill="none" stroke="#303030" stroke-width="0.9" />
<text x="534.20" y="839.90" font-size="8.1" font-weight="normal" font-style="normal" fill="#262626" text-anchor="start" >P3</text>
<circle cx="557.00" cy="826.60" r="1.25" fill="#fff" stroke="#303030" stroke-width="0.9"/>
<circle cx="557.00" cy="832.40" r="1.25" fill="#fff" stroke="#303030" stroke-width="0.9"/>
<line x1="557.00" y1="833.70" x2="557.00" y2="844.40" stroke="#303030" stroke-width="1.2" />
<circle cx="557.00" cy="844.40" r="1.35" fill="#111" stroke="none" stroke-width="0.0"/>
<path d="M560.00,829.5H564.20M560.00,826V833.2M564.20,827.5V831.7" fill="none" stroke="#303030" stroke-width="0.9" />
<text x="560.30" y="839.90" font-size="8.1" font-weight="normal" font-style="normal" fill="#262626" text-anchor="start" >P2</text>
<circle cx="583.50" cy="826.60" r="1.25" fill="#fff" stroke="#303030" stroke-width="0.9"/>
<circle cx="583.50" cy="832.40" r="1.25" fill="#fff" stroke="#303030" stroke-width="0.9"/>
<line x1="583.50" y1="833.70" x2="583.50" y2="844.40" stroke="#303030" stroke-width="1.2" />
<circle cx="583.50" cy="844.40" r="1.35" fill="#111" stroke="none" stroke-width="0.0"/>
<path d="M586.50,829.5H590.70M586.50,826V833.2M590.70,827.5V831.7" fill="none" stroke="#303030" stroke-width="0.9" />
<text x="586.80" y="839.90" font-size="8.1" font-weight="normal" font-style="normal" fill="#262626" text-anchor="start" >P1</text>
</g>
<line x1="344.10" y1="849.80" x2="344.10" y2="885.00" stroke="#1a1a1a" stroke-width="1.25" />
<line x1="586.00" y1="849.80" x2="586.00" y2="885.00" stroke="#1a1a1a" stroke-width="1.25" />
<line x1="344.80" y1="876.40" x2="585.30" y2="876.40" stroke="#1a1a1a" stroke-width="1.2" />
<polygon points="344.80,876.40 355.80,872.50 355.80,880.30" fill="#111" stroke="none" stroke-width="0"/>
<polygon points="585.30,876.40 574.30,872.50 574.30,880.30" fill="#111" stroke="none" stroke-width="0"/>
<text x="407.00" y="870.90" font-size="14.4" font-weight="normal" font-style="normal" fill="#151515" text-anchor="start" textLength="39.00" lengthAdjust="spacingAndGlyphs" >max 2m</text>
</g>
<g transform="translate(461.00,0.00)">
<g transform="translate(0.00,0.00)">
<rect x="386.50" y="677.20" width="130.40" height="101.30" fill="#fff" stroke="#3a3a3a" stroke-width="1.1" rx="0" />
<path d="M398.7,677.2V727.4H386.5" fill="none" stroke="#3a3a3a" stroke-width="1.1" />
<path d="M505,677.2V727.4H516.9" fill="none" stroke="#3a3a3a" stroke-width="1.1" />
<text x="403.30" y="692.90" font-size="7.6" font-weight="bold" font-style="normal" fill="#222" text-anchor="start" textLength="9.60" lengthAdjust="spacingAndGlyphs" >C€</text>
<path d="M422.3,686.3H444.9V698.5H440L438.8,701.2H428.4L427.2,698.5H422.3Z" fill="none" stroke="#555" stroke-width="0.9" />
<path d="M422.3,720.4H444.9V708.2H440L438.8,705.5H428.4L427.2,708.2H422.3Z" fill="none" stroke="#555" stroke-width="0.9" />
<text x="433.60" y="696.20" font-size="8.6" font-weight="normal" font-style="normal" fill="#333" text-anchor="middle" textLength="5.80" lengthAdjust="spacingAndGlyphs" >IN</text>
<text x="433.60" y="718.20" font-size="8.6" font-weight="normal" font-style="normal" fill="#333" text-anchor="middle" textLength="11.40" lengthAdjust="spacingAndGlyphs" >OUT</text>
<text x="402.20" y="733.60" font-size="8.8" font-weight="bold" font-style="normal" fill="#111" text-anchor="start" textLength="34.40" lengthAdjust="spacingAndGlyphs" stroke="#111" stroke-width="0.9">bticino</text>
<circle cx="396.00" cy="734.30" r="2.30" fill="none" stroke="#3a3a3a" stroke-width="1.0"/>
<circle cx="507.50" cy="734.30" r="2.30" fill="none" stroke="#3a3a3a" stroke-width="1.0"/>
<text x="401.70" y="744.00" font-size="6.2" font-weight="normal" font-style="normal" fill="#777" text-anchor="middle" >C</text>
<text x="414.50" y="744.00" font-size="6.2" font-weight="normal" font-style="normal" fill="#777" text-anchor="middle" >8</text>
<text x="427.00" y="744.00" font-size="6.2" font-weight="normal" font-style="normal" fill="#777" text-anchor="middle" >7</text>
<text x="439.20" y="744.00" font-size="6.2" font-weight="normal" font-style="normal" fill="#777" text-anchor="middle" >6</text>
<text x="452.00" y="744.00" font-size="6.2" font-weight="normal" font-style="normal" fill="#777" text-anchor="middle" >5</text>
<text x="464.60" y="744.00" font-size="6.2" font-weight="normal" font-style="normal" fill="#777" text-anchor="middle" >4</text>
<text x="477.20" y="744.00" font-size="6.2" font-weight="normal" font-style="normal" fill="#777" text-anchor="middle" >3</text>
<text x="489.70" y="744.00" font-size="6.2" font-weight="normal" font-style="normal" fill="#777" text-anchor="middle" >2</text>
<text x="501.00" y="744.00" font-size="6.2" font-weight="normal" font-style="normal" fill="#777" text-anchor="middle" >1</text>
<rect x="389.40" y="745.50" width="124.80" height="30.50" fill="none" stroke="#3a3a3a" stroke-width="1.0" rx="0" />
<line x1="389.40" y1="746.00" x2="514.20" y2="746.00" stroke="#222" stroke-width="1.4" />
<path d="M392,746V773.6H394.4M394.4,746V773.6" fill="none" stroke="#3a3a3a" stroke-width="0.9" />
<path d="M511.6,746V773.6M509.6,746V776" fill="none" stroke="#3a3a3a" stroke-width="0.9" />
<rect x="512.00" y="747.50" width="2.00" height="16.50" fill="#aaa" stroke="none" stroke-width="0.0" rx="0" />
<rect x="389.90" y="748.00" width="1.70" height="16.00" fill="#bbb" stroke="none" stroke-width="0.0" rx="0" />
<line x1="392.00" y1="774.70" x2="512.00" y2="774.70" stroke="#2a2a2a" stroke-width="1.5" />
<rect x="395.80" y="746.80" width="11.70" height="4.00" fill="#fff" stroke="#222" stroke-width="1.0" rx="0" />
<rect x="409.54" y="747.60" width="10.60" height="6.80" fill="#fff" stroke="#333" stroke-width="1.15" rx="0" />
<rect x="421.88" y="747.60" width="10.60" height="6.80" fill="#fff" stroke="#333" stroke-width="1.15" rx="0" />
<rect x="434.22" y="747.60" width="10.60" height="6.80" fill="#fff" stroke="#333" stroke-width="1.15" rx="0" />
<rect x="446.56" y="747.60" width="10.60" height="6.80" fill="#fff" stroke="#333" stroke-width="1.15" rx="0" />
<rect x="458.90" y="747.60" width="10.60" height="6.80" fill="#fff" stroke="#333" stroke-width="1.15" rx="0" />
<rect x="471.24" y="747.60" width="10.60" height="6.80" fill="#fff" stroke="#333" stroke-width="1.15" rx="0" />
<rect x="483.58" y="747.60" width="10.60" height="6.80" fill="#fff" stroke="#333" stroke-width="1.15" rx="0" />
<rect x="495.92" y="747.60" width="10.60" height="6.80" fill="#fff" stroke="#333" stroke-width="1.15" rx="0" />
<rect x="396.30" y="755.00" width="111.50" height="18.70" fill="#fff" stroke="#3a3a3a" stroke-width="1.0" rx="0" />
<rect x="396.80" y="771.30" width="110.50" height="2.00" fill="#a8a8a8" stroke="none" stroke-width="0.0" rx="0" />
<line x1="396.30" y1="757.70" x2="507.80" y2="757.70" stroke="#555" stroke-width="0.8" />
<circle cx="402.50" cy="765.70" r="4.40" fill="#fff" stroke="#333" stroke-width="1.0"/>
<path d="M398.90,768.20L404.80,762.00M400.20,769.40L406.10,763.20M399.50,768.90L405.50,762.50" stroke="#444" stroke-width="0.8" fill="none"/>
<circle cx="414.84" cy="765.70" r="4.40" fill="#fff" stroke="#333" stroke-width="1.0"/>
<path d="M411.24,768.20L417.14,762.00M412.54,769.40L418.44,763.20M411.84,768.90L417.84,762.50" stroke="#444" stroke-width="0.8" fill="none"/>
<circle cx="427.18" cy="765.70" r="4.40" fill="#fff" stroke="#333" stroke-width="1.0"/>
<path d="M423.58,768.20L429.48,762.00M424.88,769.40L430.78,763.20M424.18,768.90L430.18,762.50" stroke="#444" stroke-width="0.8" fill="none"/>
<circle cx="439.52" cy="765.70" r="4.40" fill="#fff" stroke="#333" stroke-width="1.0"/>
<path d="M435.92,768.20L441.82,762.00M437.22,769.40L443.12,763.20M436.52,768.90L442.52,762.50" stroke="#444" stroke-width="0.8" fill="none"/>
<circle cx="451.86" cy="765.70" r="4.40" fill="#fff" stroke="#333" stroke-width="1.0"/>
<path d="M448.26,768.20L454.16,762.00M449.56,769.40L455.46,763.20M448.86,768.90L454.86,762.50" stroke="#444" stroke-width="0.8" fill="none"/>
<circle cx="464.20" cy="765.70" r="4.40" fill="#fff" stroke="#333" stroke-width="1.0"/>
<path d="M460.60,768.20L466.50,762.00M461.90,769.40L467.80,763.20M461.20,768.90L467.20,762.50" stroke="#444" stroke-width="0.8" fill="none"/>
<circle cx="476.54" cy="765.70" r="4.40" fill="#fff" stroke="#333" stroke-width="1.0"/>
<path d="M472.94,768.20L478.84,762.00M474.24,769.40L480.14,763.20M473.54,768.90L479.54,762.50" stroke="#444" stroke-width="0.8" fill="none"/>
<circle cx="488.88" cy="765.70" r="4.40" fill="#fff" stroke="#333" stroke-width="1.0"/>
<path d="M485.28,768.20L491.18,762.00M486.58,769.40L492.48,763.20M485.88,768.90L491.88,762.50" stroke="#444" stroke-width="0.8" fill="none"/>
<circle cx="501.22" cy="765.70" r="4.40" fill="#fff" stroke="#333" stroke-width="1.0"/>
<path d="M497.62,768.20L503.52,762.00M498.92,769.40L504.82,763.20M498.22,768.90L504.22,762.50" stroke="#444" stroke-width="0.8" fill="none"/>
<line x1="433.50" y1="755.00" x2="433.50" y2="776.00" stroke="#222" stroke-width="1.1" />
<text x="469.60" y="734.40" font-size="5.6" font-weight="normal" font-style="normal" fill="#888" text-anchor="start" textLength="23.20" lengthAdjust="spacingAndGlyphs" >BT-346993</text>
<text x="389.90" y="666.60" font-size="12.6" font-weight="bold" font-style="normal" fill="#151515" text-anchor="start" textLength="44.20" lengthAdjust="spacingAndGlyphs" >346993</text>
</g>
<g transform="translate(0.00,247.30)">
<rect x="386.50" y="677.20" width="130.40" height="101.30" fill="#fff" stroke="#3a3a3a" stroke-width="1.1" rx="0" />
<path d="M398.7,677.2V727.4H386.5" fill="none" stroke="#3a3a3a" stroke-width="1.1" />
<path d="M505,677.2V727.4H516.9" fill="none" stroke="#3a3a3a" stroke-width="1.1" />
<text x="403.30" y="692.90" font-size="7.6" font-weight="bold" font-style="normal" fill="#222" text-anchor="start" textLength="9.60" lengthAdjust="spacingAndGlyphs" >C€</text>
<path d="M422.3,686.3H444.9V698.5H440L438.8,701.2H428.4L427.2,698.5H422.3Z" fill="none" stroke="#555" stroke-width="0.9" />
<path d="M422.3,720.4H444.9V708.2H440L438.8,705.5H428.4L427.2,708.2H422.3Z" fill="none" stroke="#555" stroke-width="0.9" />
<text x="433.60" y="696.20" font-size="8.6" font-weight="normal" font-style="normal" fill="#333" text-anchor="middle" textLength="5.80" lengthAdjust="spacingAndGlyphs" >IN</text>
<text x="433.60" y="718.20" font-size="8.6" font-weight="normal" font-style="normal" fill="#333" text-anchor="middle" textLength="11.40" lengthAdjust="spacingAndGlyphs" >OUT</text>
<text x="402.20" y="733.60" font-size="8.8" font-weight="bold" font-style="normal" fill="#111" text-anchor="start" textLength="34.40" lengthAdjust="spacingAndGlyphs" stroke="#111" stroke-width="0.9">bticino</text>
<circle cx="396.00" cy="734.30" r="2.30" fill="none" stroke="#3a3a3a" stroke-width="1.0"/>
<circle cx="507.50" cy="734.30" r="2.30" fill="none" stroke="#3a3a3a" stroke-width="1.0"/>
<text x="401.70" y="744.00" font-size="6.2" font-weight="normal" font-style="normal" fill="#777" text-anchor="middle" >C</text>
<text x="414.50" y="744.00" font-size="6.2" font-weight="normal" font-style="normal" fill="#777" text-anchor="middle" >8</text>
<text x="427.00" y="744.00" font-size="6.2" font-weight="normal" font-style="normal" fill="#777" text-anchor="middle" >7</text>
<text x="439.20" y="744.00" font-size="6.2" font-weight="normal" font-style="normal" fill="#777" text-anchor="middle" >6</text>
<text x="452.00" y="744.00" font-size="6.2" font-weight="normal" font-style="normal" fill="#777" text-anchor="middle" >5</text>
<text x="464.60" y="744.00" font-size="6.2" font-weight="normal" font-style="normal" fill="#777" text-anchor="middle" >4</text>
<text x="477.20" y="744.00" font-size="6.2" font-weight="normal" font-style="normal" fill="#777" text-anchor="middle" >3</text>
<text x="489.70" y="744.00" font-size="6.2" font-weight="normal" font-style="normal" fill="#777" text-anchor="middle" >2</text>
<text x="501.00" y="744.00" font-size="6.2" font-weight="normal" font-style="normal" fill="#777" text-anchor="middle" >1</text>
<rect x="389.40" y="745.50" width="124.80" height="30.50" fill="none" stroke="#3a3a3a" stroke-width="1.0" rx="0" />
<line x1="389.40" y1="746.00" x2="514.20" y2="746.00" stroke="#222" stroke-width="1.4" />
<path d="M392,746V773.6H394.4M394.4,746V773.6" fill="none" stroke="#3a3a3a" stroke-width="0.9" />
<path d="M511.6,746V773.6M509.6,746V776" fill="none" stroke="#3a3a3a" stroke-width="0.9" />
<rect x="512.00" y="747.50" width="2.00" height="16.50" fill="#aaa" stroke="none" stroke-width="0.0" rx="0" />
<rect x="389.90" y="748.00" width="1.70" height="16.00" fill="#bbb" stroke="none" stroke-width="0.0" rx="0" />
<line x1="392.00" y1="774.70" x2="512.00" y2="774.70" stroke="#2a2a2a" stroke-width="1.5" />
<rect x="395.80" y="746.80" width="11.70" height="4.00" fill="#fff" stroke="#222" stroke-width="1.0" rx="0" />
<rect x="409.54" y="747.60" width="10.60" height="6.80" fill="#fff" stroke="#333" stroke-width="1.15" rx="0" />
<rect x="421.88" y="747.60" width="10.60" height="6.80" fill="#fff" stroke="#333" stroke-width="1.15" rx="0" />
<rect x="434.22" y="747.60" width="10.60" height="6.80" fill="#fff" stroke="#333" stroke-width="1.15" rx="0" />
<rect x="446.56" y="747.60" width="10.60" height="6.80" fill="#fff" stroke="#333" stroke-width="1.15" rx="0" />
<rect x="458.90" y="747.60" width="10.60" height="6.80" fill="#fff" stroke="#333" stroke-width="1.15" rx="0" />
<rect x="471.24" y="747.60" width="10.60" height="6.80" fill="#fff" stroke="#333" stroke-width="1.15" rx="0" />
<rect x="483.58" y="747.60" width="10.60" height="6.80" fill="#fff" stroke="#333" stroke-width="1.15" rx="0" />
<rect x="495.92" y="747.60" width="10.60" height="6.80" fill="#fff" stroke="#333" stroke-width="1.15" rx="0" />
<rect x="396.30" y="755.00" width="111.50" height="18.70" fill="#fff" stroke="#3a3a3a" stroke-width="1.0" rx="0" />
<rect x="396.80" y="771.30" width="110.50" height="2.00" fill="#a8a8a8" stroke="none" stroke-width="0.0" rx="0" />
<line x1="396.30" y1="757.70" x2="507.80" y2="757.70" stroke="#555" stroke-width="0.8" />
<circle cx="402.50" cy="765.70" r="4.40" fill="#fff" stroke="#333" stroke-width="1.0"/>
<path d="M398.90,768.20L404.80,762.00M400.20,769.40L406.10,763.20M399.50,768.90L405.50,762.50" stroke="#444" stroke-width="0.8" fill="none"/>
<circle cx="414.84" cy="765.70" r="4.40" fill="#fff" stroke="#333" stroke-width="1.0"/>
<path d="M411.24,768.20L417.14,762.00M412.54,769.40L418.44,763.20M411.84,768.90L417.84,762.50" stroke="#444" stroke-width="0.8" fill="none"/>
<circle cx="427.18" cy="765.70" r="4.40" fill="#fff" stroke="#333" stroke-width="1.0"/>
<path d="M423.58,768.20L429.48,762.00M424.88,769.40L430.78,763.20M424.18,768.90L430.18,762.50" stroke="#444" stroke-width="0.8" fill="none"/>
<circle cx="439.52" cy="765.70" r="4.40" fill="#fff" stroke="#333" stroke-width="1.0"/>
<path d="M435.92,768.20L441.82,762.00M437.22,769.40L443.12,763.20M436.52,768.90L442.52,762.50" stroke="#444" stroke-width="0.8" fill="none"/>
<circle cx="451.86" cy="765.70" r="4.40" fill="#fff" stroke="#333" stroke-width="1.0"/>
<path d="M448.26,768.20L454.16,762.00M449.56,769.40L455.46,763.20M448.86,768.90L454.86,762.50" stroke="#444" stroke-width="0.8" fill="none"/>
<circle cx="464.20" cy="765.70" r="4.40" fill="#fff" stroke="#333" stroke-width="1.0"/>
<path d="M460.60,768.20L466.50,762.00M461.90,769.40L467.80,763.20M461.20,768.90L467.20,762.50" stroke="#444" stroke-width="0.8" fill="none"/>
<circle cx="476.54" cy="765.70" r="4.40" fill="#fff" stroke="#333" stroke-width="1.0"/>
<path d="M472.94,768.20L478.84,762.00M474.24,769.40L480.14,763.20M473.54,768.90L479.54,762.50" stroke="#444" stroke-width="0.8" fill="none"/>
<circle cx="488.88" cy="765.70" r="4.40" fill="#fff" stroke="#333" stroke-width="1.0"/>
<path d="M485.28,768.20L491.18,762.00M486.58,769.40L492.48,763.20M485.88,768.90L491.88,762.50" stroke="#444" stroke-width="0.8" fill="none"/>
<circle cx="501.22" cy="765.70" r="4.40" fill="#fff" stroke="#333" stroke-width="1.0"/>
<path d="M497.62,768.20L503.52,762.00M498.92,769.40L504.82,763.20M498.22,768.90L504.22,762.50" stroke="#444" stroke-width="0.8" fill="none"/>
<line x1="433.50" y1="755.00" x2="433.50" y2="776.00" stroke="#222" stroke-width="1.1" />
<text x="469.60" y="734.40" font-size="5.6" font-weight="normal" font-style="normal" fill="#888" text-anchor="start" textLength="23.20" lengthAdjust="spacingAndGlyphs" >BT-346993</text>
<text x="389.90" y="666.60" font-size="12.6" font-weight="bold" font-style="normal" fill="#151515" text-anchor="start" textLength="44.20" lengthAdjust="spacingAndGlyphs" >346993</text>
</g>
<g transform="translate(0.00,495.00)">
<rect x="386.50" y="677.20" width="130.40" height="101.30" fill="#fff" stroke="#3a3a3a" stroke-width="1.1" rx="0" />
<path d="M398.7,677.2V727.4H386.5" fill="none" stroke="#3a3a3a" stroke-width="1.1" />
<path d="M505,677.2V727.4H516.9" fill="none" stroke="#3a3a3a" stroke-width="1.1" />
<text x="403.30" y="692.90" font-size="7.6" font-weight="bold" font-style="normal" fill="#222" text-anchor="start" textLength="9.60" lengthAdjust="spacingAndGlyphs" >C€</text>
<path d="M422.3,686.3H444.9V698.5H440L438.8,701.2H428.4L427.2,698.5H422.3Z" fill="none" stroke="#555" stroke-width="0.9" />
<path d="M422.3,720.4H444.9V708.2H440L438.8,705.5H428.4L427.2,708.2H422.3Z" fill="none" stroke="#555" stroke-width="0.9" />
<text x="433.60" y="696.20" font-size="8.6" font-weight="normal" font-style="normal" fill="#333" text-anchor="middle" textLength="5.80" lengthAdjust="spacingAndGlyphs" >IN</text>
<text x="433.60" y="718.20" font-size="8.6" font-weight="normal" font-style="normal" fill="#333" text-anchor="middle" textLength="11.40" lengthAdjust="spacingAndGlyphs" >OUT</text>
<text x="402.20" y="733.60" font-size="8.8" font-weight="bold" font-style="normal" fill="#111" text-anchor="start" textLength="34.40" lengthAdjust="spacingAndGlyphs" stroke="#111" stroke-width="0.9">bticino</text>
<circle cx="396.00" cy="734.30" r="2.30" fill="none" stroke="#3a3a3a" stroke-width="1.0"/>
<circle cx="507.50" cy="734.30" r="2.30" fill="none" stroke="#3a3a3a" stroke-width="1.0"/>
<text x="401.70" y="744.00" font-size="6.2" font-weight="normal" font-style="normal" fill="#777" text-anchor="middle" >C</text>
<text x="414.50" y="744.00" font-size="6.2" font-weight="normal" font-style="normal" fill="#777" text-anchor="middle" >8</text>
<text x="427.00" y="744.00" font-size="6.2" font-weight="normal" font-style="normal" fill="#777" text-anchor="middle" >7</text>
<text x="439.20" y="744.00" font-size="6.2" font-weight="normal" font-style="normal" fill="#777" text-anchor="middle" >6</text>
<text x="452.00" y="744.00" font-size="6.2" font-weight="normal" font-style="normal" fill="#777" text-anchor="middle" >5</text>
<text x="464.60" y="744.00" font-size="6.2" font-weight="normal" font-style="normal" fill="#777" text-anchor="middle" >4</text>
<text x="477.20" y="744.00" font-size="6.2" font-weight="normal" font-style="normal" fill="#777" text-anchor="middle" >3</text>
<text x="489.70" y="744.00" font-size="6.2" font-weight="normal" font-style="normal" fill="#777" text-anchor="middle" >2</text>
<text x="501.00" y="744.00" font-size="6.2" font-weight="normal" font-style="normal" fill="#777" text-anchor="middle" >1</text>
<rect x="389.40" y="745.50" width="124.80" height="30.50" fill="none" stroke="#3a3a3a" stroke-width="1.0" rx="0" />
<line x1="389.40" y1="746.00" x2="514.20" y2="746.00" stroke="#222" stroke-width="1.4" />
<path d="M392,746V773.6H394.4M394.4,746V773.6" fill="none" stroke="#3a3a3a" stroke-width="0.9" />
<path d="M511.6,746V773.6M509.6,746V776" fill="none" stroke="#3a3a3a" stroke-width="0.9" />
<rect x="512.00" y="747.50" width="2.00" height="16.50" fill="#aaa" stroke="none" stroke-width="0.0" rx="0" />
<rect x="389.90" y="748.00" width="1.70" height="16.00" fill="#bbb" stroke="none" stroke-width="0.0" rx="0" />
<line x1="392.00" y1="774.70" x2="512.00" y2="774.70" stroke="#2a2a2a" stroke-width="1.5" />
<rect x="395.80" y="746.80" width="11.70" height="4.00" fill="#fff" stroke="#222" stroke-width="1.0" rx="0" />
<rect x="409.54" y="747.60" width="10.60" height="6.80" fill="#fff" stroke="#333" stroke-width="1.15" rx="0" />
<rect x="421.88" y="747.60" width="10.60" height="6.80" fill="#fff" stroke="#333" stroke-width="1.15" rx="0" />
<rect x="434.22" y="747.60" width="10.60" height="6.80" fill="#fff" stroke="#333" stroke-width="1.15" rx="0" />
<rect x="446.56" y="747.60" width="10.60" height="6.80" fill="#fff" stroke="#333" stroke-width="1.15" rx="0" />
<rect x="458.90" y="747.60" width="10.60" height="6.80" fill="#fff" stroke="#333" stroke-width="1.15" rx="0" />
<rect x="471.24" y="747.60" width="10.60" height="6.80" fill="#fff" stroke="#333" stroke-width="1.15" rx="0" />
<rect x="483.58" y="747.60" width="10.60" height="6.80" fill="#fff" stroke="#333" stroke-width="1.15" rx="0" />
<rect x="495.92" y="747.60" width="10.60" height="6.80" fill="#fff" stroke="#333" stroke-width="1.15" rx="0" />
<rect x="396.30" y="755.00" width="111.50" height="18.70" fill="#fff" stroke="#3a3a3a" stroke-width="1.0" rx="0" />
<rect x="396.80" y="771.30" width="110.50" height="2.00" fill="#a8a8a8" stroke="none" stroke-width="0.0" rx="0" />
<line x1="396.30" y1="757.70" x2="507.80" y2="757.70" stroke="#555" stroke-width="0.8" />
<circle cx="402.50" cy="765.70" r="4.40" fill="#fff" stroke="#333" stroke-width="1.0"/>
<path d="M398.90,768.20L404.80,762.00M400.20,769.40L406.10,763.20M399.50,768.90L405.50,762.50" stroke="#444" stroke-width="0.8" fill="none"/>
<circle cx="414.84" cy="765.70" r="4.40" fill="#fff" stroke="#333" stroke-width="1.0"/>
<path d="M411.24,768.20L417.14,762.00M412.54,769.40L418.44,763.20M411.84,768.90L417.84,762.50" stroke="#444" stroke-width="0.8" fill="none"/>
<circle cx="427.18" cy="765.70" r="4.40" fill="#fff" stroke="#333" stroke-width="1.0"/>
<path d="M423.58,768.20L429.48,762.00M424.88,769.40L430.78,763.20M424.18,768.90L430.18,762.50" stroke="#444" stroke-width="0.8" fill="none"/>
<circle cx="439.52" cy="765.70" r="4.40" fill="#fff" stroke="#333" stroke-width="1.0"/>
<path d="M435.92,768.20L441.82,762.00M437.22,769.40L443.12,763.20M436.52,768.90L442.52,762.50" stroke="#444" stroke-width="0.8" fill="none"/>
<circle cx="451.86" cy="765.70" r="4.40" fill="#fff" stroke="#333" stroke-width="1.0"/>
<path d="M448.26,768.20L454.16,762.00M449.56,769.40L455.46,763.20M448.86,768.90L454.86,762.50" stroke="#444" stroke-width="0.8" fill="none"/>
<circle cx="464.20" cy="765.70" r="4.40" fill="#fff" stroke="#333" stroke-width="1.0"/>
<path d="M460.60,768.20L466.50,762.00M461.90,769.40L467.80,763.20M461.20,768.90L467.20,762.50" stroke="#444" stroke-width="0.8" fill="none"/>
<circle cx="476.54" cy="765.70" r="4.40" fill="#fff" stroke="#333" stroke-width="1.0"/>
<path d="M472.94,768.20L478.84,762.00M474.24,769.40L480.14,763.20M473.54,768.90L479.54,762.50" stroke="#444" stroke-width="0.8" fill="none"/>
<circle cx="488.88" cy="765.70" r="4.40" fill="#fff" stroke="#333" stroke-width="1.0"/>
<path d="M485.28,768.20L491.18,762.00M486.58,769.40L492.48,763.20M485.88,768.90L491.88,762.50" stroke="#444" stroke-width="0.8" fill="none"/>
<circle cx="501.22" cy="765.70" r="4.40" fill="#fff" stroke="#333" stroke-width="1.0"/>
<path d="M497.62,768.20L503.52,762.00M498.92,769.40L504.82,763.20M498.22,768.90L504.22,762.50" stroke="#444" stroke-width="0.8" fill="none"/>
<line x1="433.50" y1="755.00" x2="433.50" y2="776.00" stroke="#222" stroke-width="1.1" />
<line x1="470.40" y1="755.00" x2="470.40" y2="776.00" stroke="#222" stroke-width="1.1" />
<text x="389.90" y="666.60" font-size="12.6" font-weight="bold" font-style="normal" fill="#151515" text-anchor="start" textLength="44.20" lengthAdjust="spacingAndGlyphs" >346993</text>
</g>
<rect x="469.20" y="591.00" width="23.20" height="96.00" fill="#fff" stroke="none" stroke-width="0.0" rx="0" />
<line x1="471.90" y1="591.00" x2="471.90" y2="687.00" stroke="#b4b4b4" stroke-width="1.5" />
<line x1="474.90" y1="591.00" x2="474.90" y2="687.00" stroke="#b4b4b4" stroke-width="1.5" />
<line x1="477.90" y1="591.00" x2="477.90" y2="687.00" stroke="#b4b4b4" stroke-width="1.5" />
<line x1="481.00" y1="591.00" x2="481.00" y2="687.00" stroke="#b4b4b4" stroke-width="1.5" />
<line x1="484.10" y1="591.00" x2="484.10" y2="687.00" stroke="#b4b4b4" stroke-width="1.5" />
<line x1="487.10" y1="591.00" x2="487.10" y2="687.00" stroke="#b4b4b4" stroke-width="1.5" />
<line x1="490.40" y1="591.00" x2="490.40" y2="687.00" stroke="#c8c8c8" stroke-width="2.0" />
<line x1="469.50" y1="591.00" x2="469.50" y2="687.00" stroke="#4a4a4a" stroke-width="1.1" />
<line x1="492.30" y1="591.00" x2="492.30" y2="687.00" stroke="#555" stroke-width="1.1" />
<rect x="469.20" y="719.50" width="23.20" height="214.80" fill="#fff" stroke="none" stroke-width="0.0" rx="0" fill-opacity="0.66"/>
<line x1="471.90" y1="719.50" x2="471.90" y2="934.30" stroke="#b4b4b4" stroke-width="1.5" />
<line x1="474.90" y1="719.50" x2="474.90" y2="934.30" stroke="#b4b4b4" stroke-width="1.5" />
<line x1="477.90" y1="719.50" x2="477.90" y2="934.30" stroke="#b4b4b4" stroke-width="1.5" />
<line x1="481.00" y1="719.50" x2="481.00" y2="934.30" stroke="#b4b4b4" stroke-width="1.5" />
<line x1="484.10" y1="719.50" x2="484.10" y2="934.30" stroke="#b4b4b4" stroke-width="1.5" />
<line x1="487.10" y1="719.50" x2="487.10" y2="934.30" stroke="#b4b4b4" stroke-width="1.5" />
<line x1="490.40" y1="719.50" x2="490.40" y2="934.30" stroke="#c8c8c8" stroke-width="2.0" />
<line x1="469.50" y1="719.50" x2="469.50" y2="934.30" stroke="#4a4a4a" stroke-width="1.1" />
<line x1="492.30" y1="719.50" x2="492.30" y2="934.30" stroke="#555" stroke-width="1.1" />
<rect x="469.20" y="966.80" width="23.20" height="145.50" fill="#fff" stroke="none" stroke-width="0.0" rx="0" fill-opacity="0.66"/>
<line x1="471.90" y1="966.80" x2="471.90" y2="1112.30" stroke="#b4b4b4" stroke-width="1.5" />
<line x1="474.90" y1="966.80" x2="474.90" y2="1112.30" stroke="#b4b4b4" stroke-width="1.5" />
<line x1="477.90" y1="966.80" x2="477.90" y2="1112.30" stroke="#b4b4b4" stroke-width="1.5" />
<line x1="481.00" y1="966.80" x2="481.00" y2="1112.30" stroke="#b4b4b4" stroke-width="1.5" />
<line x1="484.10" y1="966.80" x2="484.10" y2="1112.30" stroke="#b4b4b4" stroke-width="1.5" />
<line x1="487.10" y1="966.80" x2="487.10" y2="1112.30" stroke="#b4b4b4" stroke-width="1.5" />
<line x1="490.40" y1="966.80" x2="490.40" y2="1112.30" stroke="#c8c8c8" stroke-width="2.0" />
<line x1="469.50" y1="966.80" x2="469.50" y2="1112.30" stroke="#4a4a4a" stroke-width="1.1" />
<line x1="492.30" y1="966.80" x2="492.30" y2="1112.30" stroke="#555" stroke-width="1.1" />
<line x1="469.50" y1="1116.40" x2="469.50" y2="1149.00" stroke="#3a3a3a" stroke-width="1.1" stroke-dasharray="3.3 3.9"/>
<line x1="471.90" y1="1116.40" x2="471.90" y2="1149.00" stroke="#a6a6a6" stroke-width="1.5" stroke-dasharray="3.3 3.9"/>
<line x1="474.90" y1="1116.40" x2="474.90" y2="1149.00" stroke="#a6a6a6" stroke-width="1.5" stroke-dasharray="3.3 3.9"/>
<line x1="477.90" y1="1116.40" x2="477.90" y2="1149.00" stroke="#a6a6a6" stroke-width="1.5" stroke-dasharray="3.3 3.9"/>
<line x1="481.00" y1="1116.40" x2="481.00" y2="1149.00" stroke="#a6a6a6" stroke-width="1.5" stroke-dasharray="3.3 3.9"/>
<line x1="484.10" y1="1116.40" x2="484.10" y2="1149.00" stroke="#a6a6a6" stroke-width="1.5" stroke-dasharray="3.3 3.9"/>
<line x1="487.10" y1="1116.40" x2="487.10" y2="1149.00" stroke="#a6a6a6" stroke-width="1.5" stroke-dasharray="3.3 3.9"/>
<line x1="490.40" y1="1116.40" x2="490.40" y2="1149.00" stroke="#c2c2c2" stroke-width="2.0" stroke-dasharray="3.3 3.9"/>
<line x1="492.30" y1="1116.40" x2="492.30" y2="1149.00" stroke="#444" stroke-width="1.1" stroke-dasharray="3.3 3.9"/>
<rect x="469.20" y="1152.40" width="23.20" height="29.60" fill="#fff" stroke="none" stroke-width="0.0" rx="0" />
<line x1="471.90" y1="1152.40" x2="471.90" y2="1182.00" stroke="#b4b4b4" stroke-width="1.5" />
<line x1="474.90" y1="1152.40" x2="474.90" y2="1182.00" stroke="#b4b4b4" stroke-width="1.5" />
<line x1="477.90" y1="1152.40" x2="477.90" y2="1182.00" stroke="#b4b4b4" stroke-width="1.5" />
<line x1="481.00" y1="1152.40" x2="481.00" y2="1182.00" stroke="#b4b4b4" stroke-width="1.5" />
<line x1="484.10" y1="1152.40" x2="484.10" y2="1182.00" stroke="#b4b4b4" stroke-width="1.5" />
<line x1="487.10" y1="1152.40" x2="487.10" y2="1182.00" stroke="#b4b4b4" stroke-width="1.5" />
<line x1="490.40" y1="1152.40" x2="490.40" y2="1182.00" stroke="#c8c8c8" stroke-width="2.0" />
<line x1="469.50" y1="1152.40" x2="469.50" y2="1182.00" stroke="#4a4a4a" stroke-width="1.1" />
<line x1="492.30" y1="1152.40" x2="492.30" y2="1182.00" stroke="#555" stroke-width="1.1" />
<g transform="translate(0.00,0.00)">
<rect x="465.30" y="680.00" width="32.20" height="46.70" fill="none" stroke="#666" stroke-width="0.8" rx="4.2" />
<path d="M467.4,695.90V699.40Q467.4,700.60 468.8,700.60H493Q494.4,700.60 494.4,699.40V695.90Z" fill="#fff" stroke="#555" stroke-width="0.9" />
<path d="M477.4,695.90V697.60Q477.4,698.30 478.3,698.30H484Q484.9,698.30 484.9,697.60V695.90" fill="#ddd" stroke="#555" stroke-width="0.8" />
<rect x="466.00" y="686.60" width="29.10" height="9.30" fill="#fff" stroke="#555" stroke-width="0.9" rx="0.8" />
<rect x="468.30" y="690.30" width="24.70" height="2.30" fill="#e4e4e4" stroke="#777" stroke-width="0.7" rx="1" />
<path d="M467.4,710.60V707.60Q467.4,706.40 468.8,706.40H493Q494.4,706.40 494.4,707.60V710.60Z" fill="#fff" stroke="#555" stroke-width="0.9" />
<path d="M477.4,710.60V709.10Q477.4,708.20 478.3,708.20H484Q484.9,708.20 484.9,709.10V710.60" fill="#bbb" stroke="#333" stroke-width="0.9" />
<rect x="466.00" y="710.60" width="29.10" height="9.30" fill="#fff" stroke="#555" stroke-width="0.9" rx="0.8" />
<rect x="468.30" y="714.30" width="24.70" height="2.30" fill="#e4e4e4" stroke="#777" stroke-width="0.7" rx="1" />
</g>
<g transform="translate(0.00,247.30)">
<rect x="465.30" y="680.00" width="32.20" height="46.70" fill="none" stroke="#666" stroke-width="0.8" rx="4.2" />
<path d="M467.4,695.90V699.40Q467.4,700.60 468.8,700.60H493Q494.4,700.60 494.4,699.40V695.90Z" fill="#fff" stroke="#555" stroke-width="0.9" />
<path d="M477.4,695.90V697.60Q477.4,698.30 478.3,698.30H484Q484.9,698.30 484.9,697.60V695.90" fill="#ddd" stroke="#555" stroke-width="0.8" />
<rect x="466.00" y="686.60" width="29.10" height="9.30" fill="#fff" stroke="#555" stroke-width="0.9" rx="0.8" />
<rect x="468.30" y="690.30" width="24.70" height="2.30" fill="#e4e4e4" stroke="#777" stroke-width="0.7" rx="1" />
<path d="M467.4,710.60V707.60Q467.4,706.40 468.8,706.40H493Q494.4,706.40 494.4,707.60V710.60Z" fill="#fff" stroke="#555" stroke-width="0.9" />
<path d="M477.4,710.60V709.10Q477.4,708.20 478.3,708.20H484Q484.9,708.20 484.9,709.10V710.60" fill="#bbb" stroke="#333" stroke-width="0.9" />
<rect x="466.00" y="710.60" width="29.10" height="9.30" fill="#fff" stroke="#555" stroke-width="0.9" rx="0.8" />
<rect x="468.30" y="714.30" width="24.70" height="2.30" fill="#e4e4e4" stroke="#777" stroke-width="0.7" rx="1" />
</g>
<g transform="translate(0.00,495.00)">
<rect x="465.30" y="680.00" width="32.20" height="46.70" fill="none" stroke="#666" stroke-width="0.8" rx="4.2" />
<path d="M467.4,695.90V699.40Q467.4,700.60 468.8,700.60H493Q494.4,700.60 494.4,699.40V695.90Z" fill="#fff" stroke="#555" stroke-width="0.9" />
<path d="M477.4,695.90V697.60Q477.4,698.30 478.3,698.30H484Q484.9,698.30 484.9,697.60V695.90" fill="#ddd" stroke="#555" stroke-width="0.8" />
<rect x="466.00" y="686.60" width="29.10" height="9.30" fill="#fff" stroke="#555" stroke-width="0.9" rx="0.8" />
<rect x="468.30" y="690.30" width="24.70" height="2.30" fill="#e4e4e4" stroke="#777" stroke-width="0.7" rx="1" />
<rect x="468.40" y="706.60" width="26.80" height="18.40" fill="#fff" stroke="#555" stroke-width="0.9" rx="2" />
<path d="M470.8,722.2V711.4H477.6L478.4,709.4H485L485.8,711.4H492.4V722.2Z" fill="#fff" stroke="#222" stroke-width="1.1" />
<line x1="474.60" y1="711.60" x2="474.60" y2="722.00" stroke="#333" stroke-width="0.8" />
<line x1="488.80" y1="711.60" x2="488.80" y2="722.00" stroke="#333" stroke-width="0.8" />
<line x1="490.20" y1="711.60" x2="490.20" y2="722.00" stroke="#777" stroke-width="0.6" />
<circle cx="477.80" cy="715.00" r="0.80" fill="#333" stroke="none" stroke-width="0.0"/>
<circle cx="477.80" cy="719.20" r="0.80" fill="#333" stroke="none" stroke-width="0.0"/>
<circle cx="481.60" cy="715.00" r="0.80" fill="#333" stroke="none" stroke-width="0.0"/>
<circle cx="481.60" cy="719.20" r="0.80" fill="#333" stroke="none" stroke-width="0.0"/>
<circle cx="485.40" cy="715.00" r="0.80" fill="#333" stroke="none" stroke-width="0.0"/>
<circle cx="485.40" cy="719.20" r="0.80" fill="#333" stroke="none" stroke-width="0.0"/>
<text x="469.60" y="734.40" font-size="5.6" font-weight="normal" font-style="normal" fill="#777" text-anchor="start" textLength="23.20" lengthAdjust="spacingAndGlyphs" >BT-346993</text>
</g>
<g transform="translate(0.00,0.00)">
<path d="M401.7,773.8V788.3H346.3V844.4H635.7" fill="none" stroke="#303030" stroke-width="1.2" />
<path d="M414.5,773.8V799.5H364.4V825.4" fill="none" stroke="#303030" stroke-width="1.2" />
<path d="M427.3,773.8V810.8H390.4V825.4" fill="none" stroke="#303030" stroke-width="1.2" />
<path d="M440.4,773.8V821.5H416.9V825.4" fill="none" stroke="#303030" stroke-width="1.2" />
<path d="M451.5,773.8V825.4" fill="none" stroke="#303030" stroke-width="1.2" />
<path d="M463.7,773.8V821.5H504.1V825.4" fill="none" stroke="#303030" stroke-width="1.2" />
<path d="M476.8,773.8V810.8H530.9V825.4" fill="none" stroke="#303030" stroke-width="1.2" />
<path d="M489.3,773.8V799.5H557V825.4" fill="none" stroke="#303030" stroke-width="1.2" />
<path d="M501.1,773.8V788.3H583.5V825.4" fill="none" stroke="#303030" stroke-width="1.2" />
<circle cx="364.40" cy="826.60" r="1.25" fill="#fff" stroke="#303030" stroke-width="0.9"/>
<circle cx="364.40" cy="832.40" r="1.25" fill="#fff" stroke="#303030" stroke-width="0.9"/>
<line x1="364.40" y1="833.70" x2="364.40" y2="844.40" stroke="#303030" stroke-width="1.2" />
<circle cx="364.40" cy="844.40" r="1.35" fill="#111" stroke="none" stroke-width="0.0"/>
<path d="M367.40,829.5H371.60M367.40,826V833.2M371.60,827.5V831.7" fill="none" stroke="#303030" stroke-width="0.9" />
<text x="367.70" y="839.90" font-size="8.1" font-weight="normal" font-style="normal" fill="#262626" text-anchor="start" >P96</text>
<circle cx="390.40" cy="826.60" r="1.25" fill="#fff" stroke="#303030" stroke-width="0.9"/>
<circle cx="390.40" cy="832.40" r="1.25" fill="#fff" stroke="#303030" stroke-width="0.9"/>
<line x1="390.40" y1="833.70" x2="390.40" y2="844.40" stroke="#303030" stroke-width="1.2" />
<circle cx="390.40" cy="844.40" r="1.35" fill="#111" stroke="none" stroke-width="0.0"/>
<path d="M393.40,829.5H397.60M393.40,826V833.2M397.60,827.5V831.7" fill="none" stroke="#303030" stroke-width="0.9" />
<text x="393.70" y="839.90" font-size="8.1" font-weight="normal" font-style="normal" fill="#262626" text-anchor="start" >P95</text>
<circle cx="416.90" cy="826.60" r="1.25" fill="#fff" stroke="#303030" stroke-width="0.9"/>
<circle cx="416.90" cy="832.40" r="1.25" fill="#fff" stroke="#303030" stroke-width="0.9"/>
<line x1="416.90" y1="833.70" x2="416.90" y2="844.40" stroke="#303030" stroke-width="1.2" />
<circle cx="416.90" cy="844.40" r="1.35" fill="#111" stroke="none" stroke-width="0.0"/>
<path d="M419.90,829.5H424.10M419.90,826V833.2M424.10,827.5V831.7" fill="none" stroke="#303030" stroke-width="0.9" />
<text x="420.20" y="839.90" font-size="8.1" font-weight="normal" font-style="normal" fill="#262626" text-anchor="start" >P94</text>
<circle cx="451.50" cy="826.60" r="1.25" fill="#fff" stroke="#303030" stroke-width="0.9"/>
<circle cx="451.50" cy="832.40" r="1.25" fill="#fff" stroke="#303030" stroke-width="0.9"/>
<line x1="451.50" y1="833.70" x2="451.50" y2="844.40" stroke="#303030" stroke-width="1.2" />
<circle cx="451.50" cy="844.40" r="1.35" fill="#111" stroke="none" stroke-width="0.0"/>
<path d="M454.50,829.5H458.70M454.50,826V833.2M458.70,827.5V831.7" fill="none" stroke="#303030" stroke-width="0.9" />
<text x="454.80" y="839.90" font-size="8.1" font-weight="normal" font-style="normal" fill="#262626" text-anchor="start" >P93</text>
<circle cx="504.10" cy="826.60" r="1.25" fill="#fff" stroke="#303030" stroke-width="0.9"/>
<circle cx="504.10" cy="832.40" r="1.25" fill="#fff" stroke="#303030" stroke-width="0.9"/>
<line x1="504.10" y1="833.70" x2="504.10" y2="844.40" stroke="#303030" stroke-width="1.2" />
<circle cx="504.10" cy="844.40" r="1.35" fill="#111" stroke="none" stroke-width="0.0"/>
<path d="M507.10,829.5H511.30M507.10,826V833.2M511.30,827.5V831.7" fill="none" stroke="#303030" stroke-width="0.9" />
<text x="507.40" y="839.90" font-size="8.1" font-weight="normal" font-style="normal" fill="#262626" text-anchor="start" >P92</text>
<circle cx="530.90" cy="826.60" r="1.25" fill="#fff" stroke="#303030" stroke-width="0.9"/>
<circle cx="530.90" cy="832.40" r="1.25" fill="#fff" stroke="#303030" stroke-width="0.9"/>
<line x1="530.90" y1="833.70" x2="530.90" y2="844.40" stroke="#303030" stroke-width="1.2" />
<circle cx="530.90" cy="844.40" r="1.35" fill="#111" stroke="none" stroke-width="0.0"/>
<path d="M533.90,829.5H538.10M533.90,826V833.2M538.10,827.5V831.7" fill="none" stroke="#303030" stroke-width="0.9" />
<text x="534.20" y="839.90" font-size="8.1" font-weight="normal" font-style="normal" fill="#262626" text-anchor="start" >P91</text>
<circle cx="557.00" cy="826.60" r="1.25" fill="#fff" stroke="#303030" stroke-width="0.9"/>
<circle cx="557.00" cy="832.40" r="1.25" fill="#fff" stroke="#303030" stroke-width="0.9"/>
<line x1="557.00" y1="833.70" x2="557.00" y2="844.40" stroke="#303030" stroke-width="1.2" />
<circle cx="557.00" cy="844.40" r="1.35" fill="#111" stroke="none" stroke-width="0.0"/>
<path d="M560.00,829.5H564.20M560.00,826V833.2M564.20,827.5V831.7" fill="none" stroke="#303030" stroke-width="0.9" />
<text x="560.30" y="839.90" font-size="8.1" font-weight="normal" font-style="normal" fill="#262626" text-anchor="start" >P90</text>
<circle cx="583.50" cy="826.60" r="1.25" fill="#fff" stroke="#303030" stroke-width="0.9"/>
<circle cx="583.50" cy="832.40" r="1.25" fill="#fff" stroke="#303030" stroke-width="0.9"/>
<line x1="583.50" y1="833.70" x2="583.50" y2="844.40" stroke="#303030" stroke-width="1.2" />
<circle cx="583.50" cy="844.40" r="1.35" fill="#111" stroke="none" stroke-width="0.0"/>
<path d="M586.50,829.5H590.70M586.50,826V833.2M590.70,827.5V831.7" fill="none" stroke="#303030" stroke-width="0.9" />
<text x="586.80" y="839.90" font-size="8.1" font-weight="normal" font-style="normal" fill="#262626" text-anchor="start" >P89</text>
</g>
<g transform="translate(0.00,247.30)">
<path d="M401.7,773.8V788.3H346.3V844.4H635.7" fill="none" stroke="#303030" stroke-width="1.2" />
<path d="M414.5,773.8V799.5H364.4V825.4" fill="none" stroke="#303030" stroke-width="1.2" />
<path d="M427.3,773.8V810.8H390.4V825.4" fill="none" stroke="#303030" stroke-width="1.2" />
<path d="M440.4,773.8V821.5H416.9V825.4" fill="none" stroke="#303030" stroke-width="1.2" />
<path d="M451.5,773.8V825.4" fill="none" stroke="#303030" stroke-width="1.2" />
<path d="M463.7,773.8V821.5H504.1V825.4" fill="none" stroke="#303030" stroke-width="1.2" />
<path d="M476.8,773.8V810.8H530.9V825.4" fill="none" stroke="#303030" stroke-width="1.2" />
<path d="M489.3,773.8V799.5H557V825.4" fill="none" stroke="#303030" stroke-width="1.2" />
<path d="M501.1,773.8V788.3H583.5V825.4" fill="none" stroke="#303030" stroke-width="1.2" />
<circle cx="364.40" cy="826.60" r="1.25" fill="#fff" stroke="#303030" stroke-width="0.9"/>
<circle cx="364.40" cy="832.40" r="1.25" fill="#fff" stroke="#303030" stroke-width="0.9"/>
<line x1="364.40" y1="833.70" x2="364.40" y2="844.40" stroke="#303030" stroke-width="1.2" />
<circle cx="364.40" cy="844.40" r="1.35" fill="#111" stroke="none" stroke-width="0.0"/>
<path d="M367.40,829.5H371.60M367.40,826V833.2M371.60,827.5V831.7" fill="none" stroke="#303030" stroke-width="0.9" />
<text x="367.70" y="839.90" font-size="8.1" font-weight="normal" font-style="normal" fill="#262626" text-anchor="start" >P88</text>
<circle cx="390.40" cy="826.60" r="1.25" fill="#fff" stroke="#303030" stroke-width="0.9"/>
<circle cx="390.40" cy="832.40" r="1.25" fill="#fff" stroke="#303030" stroke-width="0.9"/>
<line x1="390.40" y1="833.70" x2="390.40" y2="844.40" stroke="#303030" stroke-width="1.2" />
<circle cx="390.40" cy="844.40" r="1.35" fill="#111" stroke="none" stroke-width="0.0"/>
<path d="M393.40,829.5H397.60M393.40,826V833.2M397.60,827.5V831.7" fill="none" stroke="#303030" stroke-width="0.9" />
<text x="393.70" y="839.90" font-size="8.1" font-weight="normal" font-style="normal" fill="#262626" text-anchor="start" >P87</text>
<circle cx="416.90" cy="826.60" r="1.25" fill="#fff" stroke="#303030" stroke-width="0.9"/>
<circle cx="416.90" cy="832.40" r="1.25" fill="#fff" stroke="#303030" stroke-width="0.9"/>
<line x1="416.90" y1="833.70" x2="416.90" y2="844.40" stroke="#303030" stroke-width="1.2" />
<circle cx="416.90" cy="844.40" r="1.35" fill="#111" stroke="none" stroke-width="0.0"/>
<path d="M419.90,829.5H424.10M419.90,826V833.2M424.10,827.5V831.7" fill="none" stroke="#303030" stroke-width="0.9" />
<text x="420.20" y="839.90" font-size="8.1" font-weight="normal" font-style="normal" fill="#262626" text-anchor="start" >P86</text>
<circle cx="451.50" cy="826.60" r="1.25" fill="#fff" stroke="#303030" stroke-width="0.9"/>
<circle cx="451.50" cy="832.40" r="1.25" fill="#fff" stroke="#303030" stroke-width="0.9"/>
<line x1="451.50" y1="833.70" x2="451.50" y2="844.40" stroke="#303030" stroke-width="1.2" />
<circle cx="451.50" cy="844.40" r="1.35" fill="#111" stroke="none" stroke-width="0.0"/>
<path d="M454.50,829.5H458.70M454.50,826V833.2M458.70,827.5V831.7" fill="none" stroke="#303030" stroke-width="0.9" />
<text x="454.80" y="839.90" font-size="8.1" font-weight="normal" font-style="normal" fill="#262626" text-anchor="start" >P85</text>
<circle cx="504.10" cy="826.60" r="1.25" fill="#fff" stroke="#303030" stroke-width="0.9"/>
<circle cx="504.10" cy="832.40" r="1.25" fill="#fff" stroke="#303030" stroke-width="0.9"/>
<line x1="504.10" y1="833.70" x2="504.10" y2="844.40" stroke="#303030" stroke-width="1.2" />
<circle cx="504.10" cy="844.40" r="1.35" fill="#111" stroke="none" stroke-width="0.0"/>
<path d="M507.10,829.5H511.30M507.10,826V833.2M511.30,827.5V831.7" fill="none" stroke="#303030" stroke-width="0.9" />
<text x="507.40" y="839.90" font-size="8.1" font-weight="normal" font-style="normal" fill="#262626" text-anchor="start" >P84</text>
<circle cx="530.90" cy="826.60" r="1.25" fill="#fff" stroke="#303030" stroke-width="0.9"/>
<circle cx="530.90" cy="832.40" r="1.25" fill="#fff" stroke="#303030" stroke-width="0.9"/>
<line x1="530.90" y1="833.70" x2="530.90" y2="844.40" stroke="#303030" stroke-width="1.2" />
<circle cx="530.90" cy="844.40" r="1.35" fill="#111" stroke="none" stroke-width="0.0"/>
<path d="M533.90,829.5H538.10M533.90,826V833.2M538.10,827.5V831.7" fill="none" stroke="#303030" stroke-width="0.9" />
<text x="534.20" y="839.90" font-size="8.1" font-weight="normal" font-style="normal" fill="#262626" text-anchor="start" >P83</text>
<circle cx="557.00" cy="826.60" r="1.25" fill="#fff" stroke="#303030" stroke-width="0.9"/>
<circle cx="557.00" cy="832.40" r="1.25" fill="#fff" stroke="#303030" stroke-width="0.9"/>
<line x1="557.00" y1="833.70" x2="557.00" y2="844.40" stroke="#303030" stroke-width="1.2" />
<circle cx="557.00" cy="844.40" r="1.35" fill="#111" stroke="none" stroke-width="0.0"/>
<path d="M560.00,829.5H564.20M560.00,826V833.2M564.20,827.5V831.7" fill="none" stroke="#303030" stroke-width="0.9" />
<text x="560.30" y="839.90" font-size="8.1" font-weight="normal" font-style="normal" fill="#262626" text-anchor="start" >P82</text>
<circle cx="583.50" cy="826.60" r="1.25" fill="#fff" stroke="#303030" stroke-width="0.9"/>
<circle cx="583.50" cy="832.40" r="1.25" fill="#fff" stroke="#303030" stroke-width="0.9"/>
<line x1="583.50" y1="833.70" x2="583.50" y2="844.40" stroke="#303030" stroke-width="1.2" />
<circle cx="583.50" cy="844.40" r="1.35" fill="#111" stroke="none" stroke-width="0.0"/>
<path d="M586.50,829.5H590.70M586.50,826V833.2M590.70,827.5V831.7" fill="none" stroke="#303030" stroke-width="0.9" />
<text x="586.80" y="839.90" font-size="8.1" font-weight="normal" font-style="normal" fill="#262626" text-anchor="start" >P81</text>
</g>
<g transform="translate(0.00,495.00)">
<path d="M401.7,773.8V788.3H346.3V844.4H635.7" fill="none" stroke="#303030" stroke-width="1.2" />
<path d="M414.5,773.8V799.5H364.4V825.4" fill="none" stroke="#303030" stroke-width="1.2" />
<path d="M427.3,773.8V810.8H390.4V825.4" fill="none" stroke="#303030" stroke-width="1.2" />
<path d="M440.4,773.8V821.5H416.9V825.4" fill="none" stroke="#303030" stroke-width="1.2" />
<path d="M451.5,773.8V825.4" fill="none" stroke="#303030" stroke-width="1.2" />
<path d="M463.7,773.8V821.5H504.1V825.4" fill="none" stroke="#303030" stroke-width="1.2" />
<path d="M476.8,773.8V810.8H530.9V825.4" fill="none" stroke="#303030" stroke-width="1.2" />
<path d="M489.3,773.8V799.5H557V825.4" fill="none" stroke="#303030" stroke-width="1.2" />
<path d="M501.1,773.8V788.3H583.5V825.4" fill="none" stroke="#303030" stroke-width="1.2" />
<circle cx="364.40" cy="826.60" r="1.25" fill="#fff" stroke="#303030" stroke-width="0.9"/>
<circle cx="364.40" cy="832.40" r="1.25" fill="#fff" stroke="#303030" stroke-width="0.9"/>
<line x1="364.40" y1="833.70" x2="364.40" y2="844.40" stroke="#303030" stroke-width="1.2" />
<circle cx="364.40" cy="844.40" r="1.35" fill="#111" stroke="none" stroke-width="0.0"/>
<path d="M367.40,829.5H371.60M367.40,826V833.2M371.60,827.5V831.7" fill="none" stroke="#303030" stroke-width="0.9" />
<text x="367.70" y="839.90" font-size="8.1" font-weight="normal" font-style="normal" fill="#262626" text-anchor="start" >P8</text>
<circle cx="390.40" cy="826.60" r="1.25" fill="#fff" stroke="#303030" stroke-width="0.9"/>
<circle cx="390.40" cy="832.40" r="1.25" fill="#fff" stroke="#303030" stroke-width="0.9"/>
<line x1="390.40" y1="833.70" x2="390.40" y2="844.40" stroke="#303030" stroke-width="1.2" />
<circle cx="390.40" cy="844.40" r="1.35" fill="#111" stroke="none" stroke-width="0.0"/>
<path d="M393.40,829.5H397.60M393.40,826V833.2M397.60,827.5V831.7" fill="none" stroke="#303030" stroke-width="0.9" />
<text x="393.70" y="839.90" font-size="8.1" font-weight="normal" font-style="normal" fill="#262626" text-anchor="start" >P7</text>
<circle cx="416.90" cy="826.60" r="1.25" fill="#fff" stroke="#303030" stroke-width="0.9"/>
<circle cx="416.90" cy="832.40" r="1.25" fill="#fff" stroke="#303030" stroke-width="0.9"/>
<line x1="416.90" y1="833.70" x2="416.90" y2="844.40" stroke="#303030" stroke-width="1.2" />
<circle cx="416.90" cy="844.40" r="1.35" fill="#111" stroke="none" stroke-width="0.0"/>
<path d="M419.90,829.5H424.10M419.90,826V833.2M424.10,827.5V831.7" fill="none" stroke="#303030" stroke-width="0.9" />
<text x="420.20" y="839.90" font-size="8.1" font-weight="normal" font-style="normal" fill="#262626" text-anchor="start" >P6</text>
<circle cx="451.50" cy="826.60" r="1.25" fill="#fff" stroke="#303030" stroke-width="0.9"/>
<circle cx="451.50" cy="832.40" r="1.25" fill="#fff" stroke="#303030" stroke-width="0.9"/>
<line x1="451.50" y1="833.70" x2="451.50" y2="844.40" stroke="#303030" stroke-width="1.2" />
<circle cx="451.50" cy="844.40" r="1.35" fill="#111" stroke="none" stroke-width="0.0"/>
<path d="M454.50,829.5H458.70M454.50,826V833.2M458.70,827.5V831.7" fill="none" stroke="#303030" stroke-width="0.9" />
<text x="454.80" y="839.90" font-size="8.1" font-weight="normal" font-style="normal" fill="#262626" text-anchor="start" >P5</text>
<circle cx="504.10" cy="826.60" r="1.25" fill="#fff" stroke="#303030" stroke-width="0.9"/>
<circle cx="504.10" cy="832.40" r="1.25" fill="#fff" stroke="#303030" stroke-width="0.9"/>
<line x1="504.10" y1="833.70" x2="504.10" y2="844.40" stroke="#303030" stroke-width="1.2" />
<circle cx="504.10" cy="844.40" r="1.35" fill="#111" stroke="none" stroke-width="0.0"/>
<path d="M507.10,829.5H511.30M507.10,826V833.2M511.30,827.5V831.7" fill="none" stroke="#303030" stroke-width="0.9" />
<text x="507.40" y="839.90" font-size="8.1" font-weight="normal" font-style="normal" fill="#262626" text-anchor="start" >P4</text>
<circle cx="530.90" cy="826.60" r="1.25" fill="#fff" stroke="#303030" stroke-width="0.9"/>
<circle cx="530.90" cy="832.40" r="1.25" fill="#fff" stroke="#303030" stroke-width="0.9"/>
<line x1="530.90" y1="833.70" x2="530.90" y2="844.40" stroke="#303030" stroke-width="1.2" />
<circle cx="530.90" cy="844.40" r="1.35" fill="#111" stroke="none" stroke-width="0.0"/>
<path d="M533.90,829.5H538.10M533.90,826V833.2M538.10,827.5V831.7" fill="none" stroke="#303030" stroke-width="0.9" />
<text x="534.20" y="839.90" font-size="8.1" font-weight="normal" font-style="normal" fill="#262626" text-anchor="start" >P3</text>
<circle cx="557.00" cy="826.60" r="1.25" fill="#fff" stroke="#303030" stroke-width="0.9"/>
<circle cx="557.00" cy="832.40" r="1.25" fill="#fff" stroke="#303030" stroke-width="0.9"/>
<line x1="557.00" y1="833.70" x2="557.00" y2="844.40" stroke="#303030" stroke-width="1.2" />
<circle cx="557.00" cy="844.40" r="1.35" fill="#111" stroke="none" stroke-width="0.0"/>
<path d="M560.00,829.5H564.20M560.00,826V833.2M564.20,827.5V831.7" fill="none" stroke="#303030" stroke-width="0.9" />
<text x="560.30" y="839.90" font-size="8.1" font-weight="normal" font-style="normal" fill="#262626" text-anchor="start" >P2</text>
<circle cx="583.50" cy="826.60" r="1.25" fill="#fff" stroke="#303030" stroke-width="0.9"/>
<circle cx="583.50" cy="832.40" r="1.25" fill="#fff" stroke="#303030" stroke-width="0.9"/>
<line x1="583.50" y1="833.70" x2="583.50" y2="844.40" stroke="#303030" stroke-width="1.2" />
<circle cx="583.50" cy="844.40" r="1.35" fill="#111" stroke="none" stroke-width="0.0"/>
<path d="M586.50,829.5H590.70M586.50,826V833.2M590.70,827.5V831.7" fill="none" stroke="#303030" stroke-width="0.9" />
<text x="586.80" y="839.90" font-size="8.1" font-weight="normal" font-style="normal" fill="#262626" text-anchor="start" >P1</text>
</g>
<line x1="345.60" y1="849.80" x2="345.60" y2="885.00" stroke="#1a1a1a" stroke-width="1.25" />
<line x1="585.10" y1="849.80" x2="585.10" y2="885.00" stroke="#1a1a1a" stroke-width="1.25" />
<line x1="346.30" y1="876.40" x2="584.40" y2="876.40" stroke="#1a1a1a" stroke-width="1.2" />
<polygon points="346.30,876.40 357.30,872.50 357.30,880.30" fill="#111" stroke="none" stroke-width="0"/>
<polygon points="584.40,876.40 573.40,872.50 573.40,880.30" fill="#111" stroke="none" stroke-width="0"/>
<text x="407.00" y="870.90" font-size="14.4" font-weight="normal" font-style="normal" fill="#151515" text-anchor="start" textLength="39.00" lengthAdjust="spacingAndGlyphs" >max 2m</text>
</g>
<line x1="522.30" y1="706.60" x2="645.60" y2="706.60" stroke="#1a1a1a" stroke-width="1.2" />
<line x1="522.30" y1="1220.30" x2="645.60" y2="1220.30" stroke="#1a1a1a" stroke-width="1.2" />
<line x1="637.20" y1="708.00" x2="637.20" y2="946.80" stroke="#1a1a1a" stroke-width="1.2" />
<line x1="637.20" y1="965.50" x2="637.20" y2="1219.00" stroke="#1a1a1a" stroke-width="1.2" />
<polygon points="637.20,706.80 633.20,716.00 641.20,716.00" fill="#111" stroke="none" stroke-width="0"/>
<polygon points="637.20,1220.10 633.20,1211.00 641.20,1211.00" fill="#111" stroke="none" stroke-width="0"/>
<line x1="1008.00" y1="706.60" x2="1162.00" y2="706.60" stroke="#1a1a1a" stroke-width="1.2" />
<line x1="1008.00" y1="1220.30" x2="1162.00" y2="1220.30" stroke="#1a1a1a" stroke-width="1.2" />
<line x1="1153.70" y1="708.00" x2="1153.70" y2="946.80" stroke="#1a1a1a" stroke-width="1.2" />
<line x1="1153.70" y1="965.50" x2="1153.70" y2="1219.00" stroke="#1a1a1a" stroke-width="1.2" />
<polygon points="1153.70,706.80 1149.70,716.00 1157.70,716.00" fill="#111" stroke="none" stroke-width="0"/>
<polygon points="1153.70,1220.10 1149.70,1211.00 1157.70,1211.00" fill="#111" stroke="none" stroke-width="0"/>
<text x="610.90" y="960.70" font-size="14.2" font-weight="normal" font-style="normal" fill="#151515" text-anchor="start" textLength="48.30" lengthAdjust="spacingAndGlyphs" >max 1,5m</text>
<text x="1127.30" y="960.70" font-size="14.2" font-weight="normal" font-style="normal" fill="#151515" text-anchor="start" textLength="48.30" lengthAdjust="spacingAndGlyphs" >max 1,5m</text>
<text x="530.50" y="689.30" font-size="17.2" font-weight="bold" font-style="normal" fill="#151515" text-anchor="start" textLength="30.60" lengthAdjust="spacingAndGlyphs" >N° 1</text>
<text x="991.60" y="689.30" font-size="17.2" font-weight="bold" font-style="normal" fill="#151515" text-anchor="start" textLength="30.60" lengthAdjust="spacingAndGlyphs" >N° 1</text>
<text x="530.50" y="939.00" font-size="17.2" font-weight="bold" font-style="normal" fill="#151515" text-anchor="start" textLength="32.40" lengthAdjust="spacingAndGlyphs" >N° 2</text>
<text x="991.60" y="939.00" font-size="17.2" font-weight="bold" font-style="normal" fill="#151515" text-anchor="start" textLength="32.40" lengthAdjust="spacingAndGlyphs" >N° 2</text>
<text x="530.50" y="1186.90" font-size="17.2" font-weight="bold" font-style="normal" fill="#151515" text-anchor="start" textLength="42.80" lengthAdjust="spacingAndGlyphs" >N° 12</text>
<text x="991.60" y="1186.90" font-size="17.2" font-weight="bold" font-style="normal" fill="#151515" text-anchor="start" textLength="42.80" lengthAdjust="spacingAndGlyphs" >N° 12</text>
<line x1="1096.70" y1="844.40" x2="1096.70" y2="1109.00" stroke="#303030" stroke-width="1.2" />
<line x1="1096.70" y1="1109.00" x2="1096.70" y2="1153.00" stroke="#303030" stroke-width="1.2" stroke-dasharray="3.2 3.8"/>
<line x1="1096.70" y1="1153.00" x2="1096.70" y2="1339.90" stroke="#303030" stroke-width="1.2" />
<circle cx="1096.70" cy="1091.80" r="1.20" fill="#111" stroke="none" stroke-width="0.0"/>
<text x="295.00" y="1366.00" font-size="15" font-weight="bold" font-style="normal" fill="#151515" text-anchor="start" >*</text>
<text x="295.00" y="1383.30" font-size="13.3" font-weight="bold" font-style="normal" fill="#151515" text-anchor="start" textLength="177.30" lengthAdjust="spacingAndGlyphs" >Rimuovere il configuratore J1</text>
<text x="295.00" y="1400.10" font-size="13.3" font-weight="bold" font-style="italic" fill="#151515" text-anchor="start" textLength="160.30" lengthAdjust="spacingAndGlyphs" >Remove the configurator J1</text>
<text x="295.00" y="1416.90" font-size="13.3" font-weight="bold" font-style="normal" fill="#151515" text-anchor="start" textLength="156.70" lengthAdjust="spacingAndGlyphs" >Retirer le configurateur J1</text>
<text x="295.00" y="1433.70" font-size="13.3" font-weight="bold" font-style="italic" fill="#151515" text-anchor="start" textLength="153.00" lengthAdjust="spacingAndGlyphs" >J1-Konfigurator entfernen</text>
<text x="761.30" y="1383.30" font-size="13.3" font-weight="bold" font-style="normal" fill="#151515" text-anchor="start" textLength="152.40" lengthAdjust="spacingAndGlyphs" >Retirar el configurador J1</text>
<text x="761.30" y="1400.10" font-size="13.3" font-weight="bold" font-style="italic" fill="#151515" text-anchor="start" textLength="164.70" lengthAdjust="spacingAndGlyphs" >Verwijder de configurator J1</text>
<text x="761.30" y="1416.90" font-size="13.3" font-weight="bold" font-style="normal" fill="#151515" text-anchor="start" textLength="163.00" lengthAdjust="spacingAndGlyphs" >Remover o configurador J1</text>
<text x="761.30" y="1433.70" font-size="13.3" font-weight="bold" font-style="italic" fill="#151515" text-anchor="start" textLength="178.00" lengthAdjust="spacingAndGlyphs" >Αφαιρέστε τον διαμορφωτή J1</text>
</svg></body></html>
